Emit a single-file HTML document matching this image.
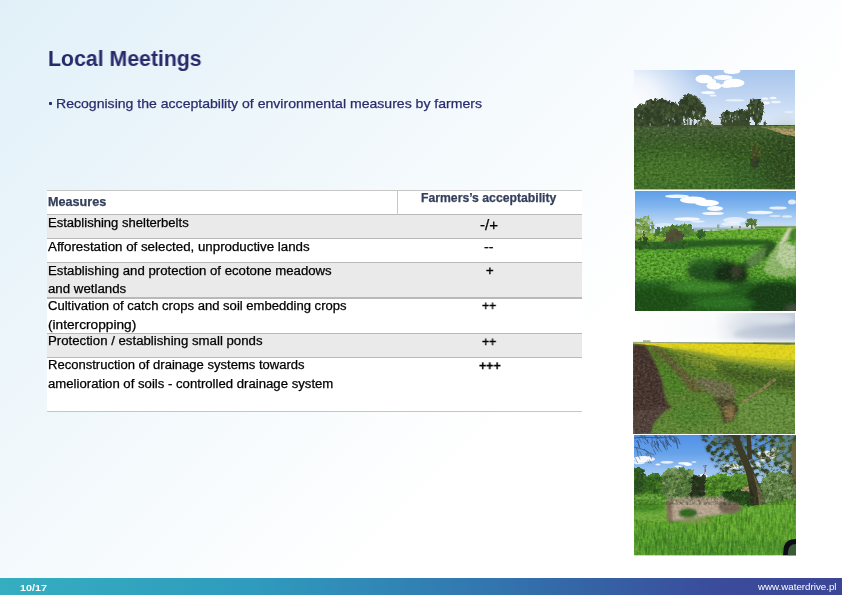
<!DOCTYPE html>
<html>
<head>
<meta charset="utf-8">
<title>Local Meetings</title>
<style>
html,body{margin:0;padding:0;}
body{width:842px;height:595px;overflow:hidden;position:relative;font-family:"Liberation Sans",sans-serif;
background:linear-gradient(135deg,#E1F0F8 0%,#FFFFFF 65%);}
.abs{position:absolute;white-space:nowrap;transform-origin:0 0;line-height:1;will-change:transform;-webkit-text-stroke:0.25px currentColor;}
#footer{position:absolute;left:0;top:578.3px;width:842px;height:17px;background:linear-gradient(to right,#35AEC0 0%,#2F9BBD 30%,#3273AE 60%,#3A4C9A 85%,#3B4596 100%);}
.ph{position:absolute;display:block;}
</style>
</head>
<body>
<div style="position:absolute;left:49.2px;top:102.0px;width:3.1px;height:3.1px;background:#2A2C6B;border-radius:0.8px;"></div>
<div style="position:absolute;left:47px;top:190.3px;width:535px;height:24.40px;background:#FFFFFF;"></div>
<div style="position:absolute;left:47px;top:214.7px;width:535px;height:23.80px;background:#EAEAEA;"></div>
<div style="position:absolute;left:47px;top:238.5px;width:535px;height:23.80px;background:#FFFFFF;"></div>
<div style="position:absolute;left:47px;top:262.3px;width:535px;height:35.70px;background:#EAEAEA;"></div>
<div style="position:absolute;left:47px;top:298.0px;width:535px;height:35.30px;background:#FFFFFF;"></div>
<div style="position:absolute;left:47px;top:333.3px;width:535px;height:24.00px;background:#EAEAEA;"></div>
<div style="position:absolute;left:47px;top:357.3px;width:535px;height:54.40px;background:#FFFFFF;"></div>
<div style="position:absolute;left:47px;top:189.70px;width:535px;height:1.3px;background:#C6C6C6;"></div>
<div style="position:absolute;left:47px;top:214.10px;width:535px;height:1.3px;background:#B9B9B9;"></div>
<div style="position:absolute;left:47px;top:237.90px;width:535px;height:1.3px;background:#B9B9B9;"></div>
<div style="position:absolute;left:47px;top:261.70px;width:535px;height:1.3px;background:#B9B9B9;"></div>
<div style="position:absolute;left:47px;top:297.40px;width:535px;height:1.3px;background:#B9B9B9;"></div>
<div style="position:absolute;left:47px;top:332.70px;width:535px;height:1.3px;background:#B9B9B9;"></div>
<div style="position:absolute;left:47px;top:356.70px;width:535px;height:1.3px;background:#B9B9B9;"></div>
<div style="position:absolute;left:47px;top:411.1px;width:535px;height:1.3px;background:#C6C6C6;"></div>
<div style="position:absolute;left:396.5px;top:190.3px;width:1px;height:24.4px;background:#C6C6C6;"></div>

<svg width="0" height="0" style="position:absolute">
<defs>
<filter id="b05" x="-10%" y="-10%" width="120%" height="120%"><feGaussianBlur stdDeviation="0.5"/></filter>
<filter id="b1" x="-10%" y="-10%" width="120%" height="120%"><feGaussianBlur stdDeviation="1"/></filter>
<filter id="b2" x="-20%" y="-20%" width="140%" height="140%"><feGaussianBlur stdDeviation="2"/></filter>
<filter id="b4" x="-30%" y="-30%" width="160%" height="160%"><feGaussianBlur stdDeviation="4"/></filter>
<filter id="b8" x="-50%" y="-50%" width="200%" height="200%"><feGaussianBlur stdDeviation="8"/></filter>
<filter id="rough" x="-10%" y="-10%" width="120%" height="120%"><feTurbulence type="fractalNoise" baseFrequency="0.35" numOctaves="2" seed="7" result="n"/><feDisplacementMap in="SourceGraphic" in2="n" scale="4" xChannelSelector="R" yChannelSelector="G"/><feGaussianBlur stdDeviation="0.45"/></filter>
<filter id="rough2" x="-10%" y="-10%" width="120%" height="120%"><feTurbulence type="fractalNoise" baseFrequency="0.18" numOctaves="3" seed="11" result="n"/><feDisplacementMap in="SourceGraphic" in2="n" scale="9" xChannelSelector="R" yChannelSelector="G"/><feGaussianBlur stdDeviation="0.6"/></filter>
<filter id="grassD" color-interpolation-filters="sRGB" x="0" y="0" width="100%" height="100%"><feTurbulence type="fractalNoise" baseFrequency="0.32 0.45" numOctaves="3" seed="5"/><feColorMatrix type="matrix" values="0 0 0 0 0.09  0 0 0 0 0.22  0 0 0 0 0.07  1.6 1.2 0 0 -1.15"/><feComposite in2="SourceGraphic" operator="in"/></filter>
<filter id="grassL" x="0" y="0" width="100%" height="100%"><feTurbulence type="fractalNoise" baseFrequency="0.36 0.5" numOctaves="3" seed="23"/><feColorMatrix type="matrix" values="0 0 0 0 0.50  0 0 0 0 0.82  0 0 0 0 0.18  1.5 1.3 0 0 -1.25"/><feComposite in2="SourceGraphic" operator="in"/></filter>
<filter id="grassLo" x="0" y="0" width="100%" height="100%"><feTurbulence type="fractalNoise" baseFrequency="0.36 0.5" numOctaves="3" seed="31"/><feColorMatrix type="matrix" values="0 0 0 0 0.40  0 0 0 0 0.66  0 0 0 0 0.16  1.5 1.3 0 0 -1.25"/><feComposite in2="SourceGraphic" operator="in"/></filter>
<filter id="grassDo" color-interpolation-filters="sRGB" x="0" y="0" width="100%" height="100%"><feTurbulence type="fractalNoise" baseFrequency="0.32 0.45" numOctaves="3" seed="15"/><feColorMatrix type="matrix" values="0 0 0 0 0.08  0 0 0 0 0.17  0 0 0 0 0.06  1.6 1.2 0 0 -1.15"/><feComposite in2="SourceGraphic" operator="in"/></filter>
<filter id="soilL" x="0" y="0" width="100%" height="100%"><feTurbulence type="fractalNoise" baseFrequency="0.4 0.5" numOctaves="3" seed="41"/><feColorMatrix type="matrix" values="0 0 0 0 0.62  0 0 0 0 0.52  0 0 0 0 0.46  1.5 1.3 0 0 -1.25"/><feComposite in2="SourceGraphic" operator="in"/></filter>
<filter id="soilD" color-interpolation-filters="sRGB" x="0" y="0" width="100%" height="100%"><feTurbulence type="fractalNoise" baseFrequency="0.35 0.45" numOctaves="3" seed="43"/><feColorMatrix type="matrix" values="0 0 0 0 0.13  0 0 0 0 0.10  0 0 0 0 0.09  1.6 1.2 0 0 -1.15"/><feComposite in2="SourceGraphic" operator="in"/></filter>
<filter id="streakD" color-interpolation-filters="sRGB" x="0" y="0" width="100%" height="100%"><feTurbulence type="fractalNoise" baseFrequency="0.42 0.09" numOctaves="3" seed="61"/><feColorMatrix type="matrix" values="0 0 0 0 0.09  0 0 0 0 0.27  0 0 0 0 0.05  1.7 1.3 0 0 -1.2"/><feComposite in2="SourceGraphic" operator="in"/></filter>
<filter id="streakL" x="0" y="0" width="100%" height="100%"><feTurbulence type="fractalNoise" baseFrequency="0.5 0.1" numOctaves="3" seed="67"/><feColorMatrix type="matrix" values="0 0 0 0 0.55  0 0 0 0 0.80  0 0 0 0 0.25  1.6 1.3 0 0 -1.3"/><feComposite in2="SourceGraphic" operator="in"/></filter>
<filter id="canD" color-interpolation-filters="sRGB" x="0" y="0" width="100%" height="100%"><feTurbulence type="fractalNoise" baseFrequency="0.22 0.26" numOctaves="4" seed="71"/><feColorMatrix type="matrix" values="0 0 0 0 0.19  0 0 0 0 0.24  0 0 0 0 0.14  5 4 0 0 -4.45"/><feComposite in2="SourceGraphic" operator="in"/><feGaussianBlur stdDeviation="0.35"/></filter>
<filter id="canL" color-interpolation-filters="sRGB" x="0" y="0" width="100%" height="100%"><feTurbulence type="fractalNoise" baseFrequency="0.25 0.3" numOctaves="4" seed="83"/><feColorMatrix type="matrix" values="0 0 0 0 0.38  0 0 0 0 0.47  0 0 0 0 0.20  5 4 0 0 -4.85"/><feComposite in2="SourceGraphic" operator="in"/><feGaussianBlur stdDeviation="0.35"/></filter>
<filter id="leafD" color-interpolation-filters="sRGB" x="0" y="0" width="100%" height="100%"><feTurbulence type="fractalNoise" baseFrequency="0.4" numOctaves="3" seed="9"/><feColorMatrix type="matrix" values="0 0 0 0 0.08  0 0 0 0 0.14  0 0 0 0 0.06  1.8 1.4 0 0 -1.2"/><feComposite in2="SourceGraphic" operator="in"/></filter>
</defs>
</svg>

<svg class="ph" style="left:634px;top:70px" width="161" height="119.5" viewBox="0 0 161 119.5">
<defs>
<linearGradient id="p1sky" x1="0" y1="0" x2="0" y2="1"><stop offset="0" stop-color="#A8C5ED"/><stop offset="0.5" stop-color="#C2D7F2"/><stop offset="1" stop-color="#E2ECF9"/></linearGradient>
<radialGradient id="p1glare" gradientUnits="userSpaceOnUse" cx="-6" cy="38" r="78"><stop offset="0" stop-color="#FFFFFF" stop-opacity="1"/><stop offset="0.4" stop-color="#F6F9FD" stop-opacity="0.92"/><stop offset="0.75" stop-color="#E8F0FA" stop-opacity="0.45"/><stop offset="1" stop-color="#E6EEFA" stop-opacity="0"/></radialGradient>
<linearGradient id="p1field" x1="0" y1="0" x2="0" y2="1"><stop offset="0" stop-color="#526640"/><stop offset="0.10" stop-color="#446234"/><stop offset="0.35" stop-color="#385C28"/><stop offset="1" stop-color="#38682A"/></linearGradient>
<clipPath id="p1c"><rect width="161" height="119.5"/></clipPath><clipPath id="p1h"><rect width="161" height="56.2"/></clipPath>
</defs>
<g clip-path="url(#p1c)">
<rect width="161" height="57" fill="url(#p1sky)"/>
<rect width="161" height="57" fill="url(#p1glare)"/>
<g filter="url(#b05)" fill="#FFFFFF">
<ellipse cx="98" cy="1.3" rx="8.5" ry="2.8" opacity="1"/>
<ellipse cx="70" cy="9" rx="8.5" ry="4.2" opacity="1"/>
<ellipse cx="77" cy="11.5" rx="5" ry="2.8" opacity="0.95"/>
<ellipse cx="89" cy="7.5" rx="9.5" ry="2.6" opacity="0.95"/>
<ellipse cx="80" cy="16" rx="7.5" ry="3.4" opacity="1"/>
<ellipse cx="100" cy="13" rx="10.5" ry="4.2" opacity="1"/>
<ellipse cx="93" cy="15.5" rx="6" ry="2.4" opacity="0.95"/>
<ellipse cx="74" cy="22.6" rx="7" ry="1.7" opacity="0.9"/>
<ellipse cx="79" cy="25.6" rx="3.5" ry="1" opacity="0.75"/>
<ellipse cx="101" cy="30.3" rx="10" ry="1.2" opacity="0.6"/>
<ellipse cx="131" cy="28.6" rx="3.5" ry="1.2" opacity="0.8"/>
<ellipse cx="139" cy="28" rx="3.5" ry="1.2" opacity="0.8"/>
<ellipse cx="132" cy="33" rx="4" ry="1.4" opacity="0.8"/>
<ellipse cx="142" cy="32" rx="5" ry="1.3" opacity="0.7"/>
<ellipse cx="155" cy="42" rx="5" ry="1" opacity="0.45"/>
</g>
<rect y="55" width="161" height="64.5" fill="url(#p1field)"/>
<g filter="url(#b8)"><ellipse cx="36" cy="104" rx="60" ry="22" fill="#4E802A" opacity="0.62"/><ellipse cx="152" cy="92" rx="26" ry="32" fill="#2C4418" opacity="0.65"/><ellipse cx="50" cy="62" rx="70" ry="5" fill="#4A4A40" opacity="0.3"/><ellipse cx="100" cy="76" rx="40" ry="8" fill="#304A1C" opacity="0.5"/></g>
<g filter="url(#b05)"><polygon points="131,57.8 161,58 161,66.5 150,64.5 140,61" fill="#B29C6C"/><polygon points="120,56.3 161,55.8 161,58.4 131,58.2" fill="#73904A"/></g>
<rect y="55" width="161" height="64.5" filter="url(#grassDo)" opacity="0.45"/>
<rect y="58" width="161" height="61.5" filter="url(#grassLo)" opacity="0.3"/>
<g clip-path="url(#p1h)"><g filter="url(#rough)" transform="translate(0.8,1.6)">
<polygon points="-3.0,57.0 -3.0,38.0 2.0,36.0 5.0,34.0 9.0,34.0 12.0,30.0 17.0,28.5 22.0,28.3 27.0,28.5 31.0,30.0 36.0,31.0 41.0,32.5 45.0,35.0 48.0,40.0 49.0,57.0" fill="#37462C"/><circle cx="20.5" cy="44.4" r="2.31" fill="#2E3B25"/><circle cx="20.5" cy="52.8" r="1.43" fill="#4A5A3A"/><circle cx="21.7" cy="45.9" r="1.42" fill="#2E3B25"/><circle cx="12.8" cy="30.9" r="2.17" fill="#33412A"/><circle cx="28.0" cy="39.7" r="1.74" fill="#4A5A3A"/><circle cx="30.8" cy="46.2" r="2.20" fill="#33412A"/><circle cx="21.1" cy="40.9" r="2.21" fill="#4A5A3A"/><circle cx="9.1" cy="36.7" r="1.21" fill="#33412A"/><circle cx="20.8" cy="36.3" r="2.40" fill="#33412A"/><circle cx="33.8" cy="37.3" r="1.48" fill="#425232"/><circle cx="-1.5" cy="44.5" r="1.33" fill="#33412A"/><circle cx="41.0" cy="39.4" r="2.35" fill="#33412A"/><circle cx="8.1" cy="54.9" r="1.26" fill="#2E3B25"/><circle cx="0.8" cy="46.4" r="2.13" fill="#425232"/><circle cx="14.5" cy="37.2" r="1.22" fill="#2E3B25"/><circle cx="36.4" cy="31.7" r="1.50" fill="#33412A"/><circle cx="-2.4" cy="41.6" r="1.78" fill="#4A5A3A"/><circle cx="6.8" cy="42.9" r="2.38" fill="#3A492E"/><circle cx="18.8" cy="39.3" r="1.67" fill="#3A492E"/><circle cx="-3.0" cy="53.1" r="2.37" fill="#4A5A3A"/><circle cx="12.8" cy="53.7" r="1.45" fill="#2E3B25"/><circle cx="27.0" cy="29.5" r="1.38" fill="#2E3B25"/><circle cx="10.4" cy="50.5" r="1.59" fill="#425232"/><circle cx="17.1" cy="30.4" r="1.45" fill="#3A492E"/><circle cx="-2.2" cy="38.9" r="1.95" fill="#3A492E"/><circle cx="46.9" cy="42.2" r="1.89" fill="#2E3B25"/><circle cx="44.2" cy="51.8" r="1.50" fill="#3A492E"/><circle cx="5.2" cy="46.4" r="1.86" fill="#2E3B25"/><circle cx="42.9" cy="45.6" r="1.71" fill="#33412A"/><circle cx="2.7" cy="43.0" r="1.51" fill="#2E3B25"/><circle cx="10.4" cy="51.9" r="1.92" fill="#425232"/><circle cx="24.0" cy="55.0" r="2.37" fill="#3A492E"/><circle cx="8.9" cy="44.4" r="2.22" fill="#4A5A3A"/><circle cx="44.6" cy="49.8" r="1.28" fill="#2E3B25"/><circle cx="20.2" cy="30.0" r="1.41" fill="#425232"/><circle cx="24.6" cy="56.2" r="1.31" fill="#3A492E"/><circle cx="43.3" cy="56.4" r="1.99" fill="#4A5A3A"/><circle cx="27.4" cy="32.3" r="1.24" fill="#33412A"/><circle cx="21.7" cy="38.6" r="1.57" fill="#33412A"/><circle cx="-1.9" cy="46.6" r="1.78" fill="#425232"/><circle cx="13.6" cy="57.0" r="1.29" fill="#4A5A3A"/><circle cx="16.1" cy="29.6" r="2.32" fill="#3A492E"/><circle cx="38.2" cy="54.6" r="1.62" fill="#2E3B25"/><circle cx="43.8" cy="53.3" r="1.70" fill="#33412A"/><circle cx="41.9" cy="44.7" r="1.95" fill="#2E3B25"/><circle cx="16.7" cy="28.7" r="1.29" fill="#33412A"/><circle cx="30.2" cy="56.8" r="2.26" fill="#425232"/><circle cx="17.2" cy="49.4" r="1.90" fill="#2E3B25"/><circle cx="21.1" cy="43.8" r="1.82" fill="#4A5A3A"/><circle cx="-1.5" cy="45.6" r="1.78" fill="#3A492E"/><circle cx="37.6" cy="47.2" r="1.78" fill="#33412A"/><circle cx="16.1" cy="32.4" r="1.93" fill="#4A5A3A"/><circle cx="5.8" cy="54.3" r="1.99" fill="#2E3B25"/><circle cx="22.9" cy="35.2" r="1.69" fill="#425232"/><circle cx="7.3" cy="40.7" r="2.17" fill="#3A492E"/><circle cx="42.8" cy="39.3" r="1.90" fill="#425232"/><circle cx="15.2" cy="54.0" r="1.25" fill="#33412A"/><circle cx="5.8" cy="41.2" r="1.53" fill="#3A492E"/><circle cx="40.2" cy="39.3" r="1.82" fill="#425232"/><circle cx="34.2" cy="52.5" r="1.95" fill="#425232"/><circle cx="33.8" cy="44.7" r="1.57" fill="#4A5A3A"/><circle cx="20.7" cy="29.0" r="2.20" fill="#3A492E"/><circle cx="37.5" cy="51.2" r="2.38" fill="#33412A"/><circle cx="20.2" cy="46.4" r="1.99" fill="#425232"/><circle cx="46.8" cy="47.9" r="1.44" fill="#2E3B25"/><circle cx="10.3" cy="48.8" r="2.11" fill="#4A5A3A"/><circle cx="34.1" cy="33.4" r="1.53" fill="#425232"/><circle cx="25.1" cy="55.5" r="1.80" fill="#3A492E"/><circle cx="17.5" cy="51.0" r="2.29" fill="#33412A"/><circle cx="18.3" cy="53.9" r="1.67" fill="#2E3B25"/><circle cx="20.6" cy="46.3" r="2.29" fill="#2E3B25"/><circle cx="25.6" cy="47.0" r="1.80" fill="#425232"/><circle cx="21.1" cy="47.0" r="1.45" fill="#33412A"/><circle cx="8.1" cy="54.1" r="2.38" fill="#425232"/><circle cx="24.9" cy="51.0" r="1.58" fill="#33412A"/><circle cx="15.1" cy="30.7" r="1.73" fill="#4A5A3A"/><circle cx="18.9" cy="36.2" r="2.30" fill="#3A492E"/><circle cx="38.6" cy="33.3" r="1.60" fill="#3A492E"/><circle cx="21.5" cy="57.0" r="2.28" fill="#4A5A3A"/><circle cx="40.7" cy="48.1" r="2.33" fill="#2E3B25"/><circle cx="27.1" cy="48.1" r="2.11" fill="#2E3B25"/><circle cx="24.4" cy="36.6" r="2.07" fill="#3A492E"/><circle cx="24.2" cy="52.5" r="1.87" fill="#425232"/><circle cx="31.9" cy="55.7" r="2.24" fill="#4A5A3A"/><circle cx="7.8" cy="52.7" r="2.36" fill="#4A5A3A"/><circle cx="11.2" cy="42.6" r="1.69" fill="#33412A"/><circle cx="23.2" cy="45.7" r="1.23" fill="#33412A"/><circle cx="23.8" cy="39.8" r="2.16" fill="#4A5A3A"/><circle cx="5.7" cy="55.0" r="1.75" fill="#2E3B25"/><circle cx="11.0" cy="41.9" r="1.35" fill="#2E3B25"/><circle cx="43.8" cy="55.2" r="2.30" fill="#4A5A3A"/><circle cx="13.5" cy="33.8" r="1.94" fill="#425232"/><circle cx="3.7" cy="50.7" r="1.23" fill="#3A492E"/><circle cx="11.8" cy="49.1" r="1.49" fill="#2E3B25"/><circle cx="2.5" cy="49.3" r="1.35" fill="#4A5A3A"/><circle cx="29.4" cy="48.9" r="2.04" fill="#2E3B25"/><circle cx="-1.8" cy="46.5" r="2.19" fill="#4A5A3A"/><circle cx="5.3" cy="34.2" r="1.96" fill="#3A492E"/><circle cx="24.5" cy="52.7" r="1.93" fill="#3A492E"/><circle cx="9.1" cy="49.6" r="2.17" fill="#3A492E"/><circle cx="13.4" cy="37.3" r="2.31" fill="#3A492E"/><circle cx="37.5" cy="33.9" r="1.32" fill="#3A492E"/><circle cx="17.2" cy="40.8" r="2.33" fill="#4A5A3A"/><circle cx="38.1" cy="31.9" r="1.68" fill="#33412A"/><circle cx="2.0" cy="44.7" r="1.63" fill="#425232"/><circle cx="3.0" cy="42.8" r="2.11" fill="#4A5A3A"/><circle cx="38.7" cy="42.1" r="1.23" fill="#4A5A3A"/><circle cx="28.9" cy="54.3" r="1.78" fill="#3A492E"/><circle cx="6.6" cy="34.2" r="2.21" fill="#425232"/><circle cx="0.2" cy="55.6" r="1.75" fill="#33412A"/><circle cx="14.0" cy="41.7" r="1.82" fill="#2E3B25"/><circle cx="7.9" cy="39.0" r="1.96" fill="#33412A"/><circle cx="40.9" cy="33.5" r="1.74" fill="#425232"/><circle cx="18.1" cy="33.9" r="1.40" fill="#4A5A3A"/><circle cx="38.2" cy="37.6" r="1.30" fill="#2E3B25"/><circle cx="26.6" cy="33.8" r="1.90" fill="#425232"/><circle cx="38.9" cy="35.7" r="2.29" fill="#3A492E"/><circle cx="39.4" cy="39.9" r="2.28" fill="#4A5A3A"/><circle cx="33.1" cy="50.3" r="2.12" fill="#2E3B25"/><circle cx="38.5" cy="37.0" r="1.32" fill="#425232"/><circle cx="48.5" cy="54.2" r="1.26" fill="#425232"/><circle cx="46.1" cy="47.4" r="1.61" fill="#2E3B25"/><circle cx="26.6" cy="43.6" r="1.67" fill="#2E3B25"/><circle cx="30.4" cy="48.4" r="2.11" fill="#4A5A3A"/><circle cx="-1.8" cy="46.0" r="2.09" fill="#425232"/><circle cx="20.1" cy="42.8" r="2.11" fill="#2E3B25"/><circle cx="11.3" cy="38.1" r="1.85" fill="#2E3B25"/><circle cx="47.3" cy="44.6" r="2.39" fill="#2E3B25"/><circle cx="28.1" cy="50.1" r="1.25" fill="#3A492E"/><circle cx="17.1" cy="56.1" r="2.23" fill="#4A5A3A"/><circle cx="28.8" cy="30.0" r="2.33" fill="#2E3B25"/><circle cx="11.8" cy="39.7" r="1.57" fill="#4A5A3A"/><circle cx="11.9" cy="47.1" r="1.87" fill="#425232"/><circle cx="31.5" cy="49.8" r="1.23" fill="#3A492E"/><circle cx="27.5" cy="46.5" r="1.69" fill="#2E3B25"/><circle cx="-0.3" cy="37.3" r="1.68" fill="#4A5A3A"/><circle cx="48.4" cy="55.4" r="1.29" fill="#3A492E"/><circle cx="19.3" cy="42.0" r="2.37" fill="#3A492E"/><circle cx="39.1" cy="54.4" r="1.37" fill="#3A492E"/><circle cx="28.4" cy="31.6" r="1.95" fill="#2E3B25"/><circle cx="3.1" cy="53.0" r="1.63" fill="#3A492E"/><circle cx="3.5" cy="41.0" r="2.00" fill="#2E3B25"/><circle cx="28.3" cy="46.7" r="2.02" fill="#425232"/><circle cx="37.5" cy="43.5" r="2.40" fill="#425232"/><circle cx="35.2" cy="35.1" r="1.34" fill="#425232"/><circle cx="37.8" cy="46.2" r="1.63" fill="#425232"/><circle cx="28.7" cy="49.1" r="2.04" fill="#3A492E"/><circle cx="29.9" cy="49.9" r="1.43" fill="#3A492E"/><circle cx="23.1" cy="47.0" r="1.44" fill="#33412A"/><circle cx="11.5" cy="50.0" r="2.30" fill="#3A492E"/><circle cx="25.6" cy="46.4" r="1.65" fill="#2E3B25"/><circle cx="15.4" cy="38.0" r="1.79" fill="#3A492E"/><circle cx="3.2" cy="51.5" r="1.95" fill="#3A492E"/><circle cx="20.1" cy="49.7" r="1.67" fill="#3A492E"/><circle cx="16.2" cy="47.1" r="2.39" fill="#425232"/><circle cx="12.1" cy="50.1" r="2.19" fill="#3A492E"/><circle cx="19.2" cy="38.9" r="1.32" fill="#425232"/><circle cx="26.3" cy="42.2" r="2.02" fill="#425232"/><circle cx="13.1" cy="54.4" r="1.92" fill="#425232"/><circle cx="22.7" cy="50.2" r="1.59" fill="#3A492E"/><circle cx="8.4" cy="47.2" r="1.59" fill="#33412A"/><circle cx="13.8" cy="41.0" r="1.91" fill="#425232"/><circle cx="19.8" cy="51.3" r="1.57" fill="#425232"/><circle cx="8.5" cy="56.1" r="2.08" fill="#4A5A3A"/><circle cx="9.9" cy="38.7" r="1.64" fill="#425232"/><circle cx="32.2" cy="45.1" r="2.16" fill="#4A5A3A"/><circle cx="16.1" cy="39.5" r="1.39" fill="#4A5A3A"/><circle cx="26.3" cy="33.4" r="2.11" fill="#425232"/><circle cx="39.2" cy="34.6" r="1.27" fill="#3A492E"/><circle cx="26.5" cy="56.0" r="1.98" fill="#2E3B25"/><circle cx="0.3" cy="44.0" r="2.15" fill="#33412A"/><circle cx="14.4" cy="36.2" r="1.33" fill="#425232"/><circle cx="1.4" cy="46.5" r="1.37" fill="#2E3B25"/><circle cx="9.8" cy="34.6" r="2.12" fill="#4A5A3A"/><circle cx="14.6" cy="41.5" r="1.62" fill="#425232"/><circle cx="32.0" cy="42.5" r="1.84" fill="#33412A"/><circle cx="33.8" cy="54.6" r="1.69" fill="#425232"/><circle cx="41.4" cy="51.4" r="2.20" fill="#2E3B25"/><circle cx="46.8" cy="46.7" r="1.83" fill="#33412A"/><circle cx="38.7" cy="40.4" r="1.70" fill="#3A492E"/><circle cx="30.0" cy="47.9" r="1.59" fill="#2E3B25"/><circle cx="19.1" cy="36.7" r="2.36" fill="#33412A"/><circle cx="21.5" cy="49.3" r="1.56" fill="#3A492E"/><circle cx="37.3" cy="33.4" r="1.27" fill="#2E3B25"/><circle cx="-2.1" cy="42.1" r="2.16" fill="#425232"/><circle cx="8.3" cy="35.1" r="2.06" fill="#4A5A3A"/><circle cx="23.4" cy="41.0" r="2.27" fill="#2E3B25"/><circle cx="6.0" cy="50.0" r="1.57" fill="#4A5A3A"/><circle cx="46.0" cy="44.1" r="2.22" fill="#2E3B25"/><circle cx="43.1" cy="54.5" r="1.61" fill="#4A5A3A"/><circle cx="41.9" cy="39.8" r="1.46" fill="#3A492E"/><circle cx="38.7" cy="39.3" r="1.83" fill="#4A5A3A"/><circle cx="37.3" cy="50.9" r="1.27" fill="#3A492E"/><circle cx="43.4" cy="53.4" r="2.29" fill="#2E3B25"/><circle cx="38.4" cy="48.8" r="1.93" fill="#3A492E"/><circle cx="18.6" cy="50.5" r="1.37" fill="#4A5A3A"/><circle cx="3.8" cy="49.6" r="1.94" fill="#4A5A3A"/><circle cx="24.8" cy="32.6" r="2.12" fill="#33412A"/><circle cx="7.6" cy="54.6" r="1.38" fill="#3A492E"/><circle cx="34.3" cy="31.1" r="1.78" fill="#2E3B25"/><circle cx="1.3" cy="49.8" r="1.85" fill="#4A5A3A"/><circle cx="12.8" cy="51.0" r="1.70" fill="#33412A"/><circle cx="37.6" cy="40.9" r="1.24" fill="#2E3B25"/><circle cx="24.3" cy="32.8" r="2.20" fill="#425232"/><circle cx="13.4" cy="39.9" r="1.87" fill="#2E3B25"/><circle cx="31.7" cy="30.2" r="1.29" fill="#3A492E"/><circle cx="2.5" cy="39.6" r="1.75" fill="#33412A"/><circle cx="16.6" cy="48.7" r="1.48" fill="#4A5A3A"/><circle cx="2.9" cy="50.5" r="2.23" fill="#3A492E"/><circle cx="29.6" cy="55.2" r="2.10" fill="#425232"/><circle cx="36.3" cy="44.2" r="1.30" fill="#3A492E"/><circle cx="7.4" cy="49.3" r="1.60" fill="#425232"/><circle cx="26.3" cy="49.1" r="1.60" fill="#2E3B25"/><circle cx="1.9" cy="47.7" r="2.05" fill="#3A492E"/><circle cx="21.1" cy="48.5" r="1.32" fill="#33412A"/><circle cx="18.2" cy="30.4" r="2.30" fill="#2E3B25"/><circle cx="32.9" cy="42.2" r="2.31" fill="#4A5A3A"/><circle cx="-2.2" cy="39.8" r="2.04" fill="#3A492E"/><circle cx="31.3" cy="45.8" r="1.22" fill="#425232"/><circle cx="6.8" cy="37.1" r="1.73" fill="#4A5A3A"/><circle cx="16.6" cy="42.9" r="2.15" fill="#33412A"/><circle cx="28.8" cy="32.8" r="2.12" fill="#425232"/><circle cx="25.5" cy="38.4" r="1.80" fill="#3A492E"/><circle cx="26.9" cy="34.0" r="2.32" fill="#3A492E"/><circle cx="26.5" cy="29.1" r="1.99" fill="#33412A"/><circle cx="4.1" cy="42.0" r="1.70" fill="#425232"/><circle cx="14.1" cy="55.0" r="1.63" fill="#2E3B25"/><circle cx="42.9" cy="41.3" r="2.08" fill="#3A492E"/><circle cx="44.0" cy="43.9" r="1.87" fill="#4A5A3A"/><circle cx="35.8" cy="54.0" r="1.60" fill="#3A492E"/><circle cx="3.4" cy="52.0" r="1.55" fill="#425232"/><circle cx="9.5" cy="44.8" r="2.20" fill="#3A492E"/><circle cx="28.1" cy="51.6" r="1.75" fill="#2E3B25"/><circle cx="6.4" cy="56.6" r="2.33" fill="#3A492E"/><circle cx="13.0" cy="47.6" r="2.09" fill="#2E3B25"/><circle cx="29.0" cy="46.7" r="2.12" fill="#3A492E"/><circle cx="7.4" cy="41.7" r="1.37" fill="#2E3B25"/><circle cx="3.2" cy="39.9" r="1.60" fill="#3A492E"/><circle cx="10.7" cy="44.6" r="1.60" fill="#33412A"/><circle cx="34.5" cy="50.9" r="1.68" fill="#2E3B25"/><circle cx="28.2" cy="41.8" r="1.69" fill="#4A5A3A"/><circle cx="44.5" cy="44.5" r="1.69" fill="#425232"/><circle cx="22.3" cy="56.8" r="2.21" fill="#2E3B25"/><circle cx="3.0" cy="55.2" r="1.60" fill="#4A5A3A"/><circle cx="19.5" cy="54.3" r="1.58" fill="#33412A"/><circle cx="12.4" cy="46.0" r="1.72" fill="#2E3B25"/><circle cx="28.1" cy="49.9" r="1.57" fill="#4A5A3A"/><circle cx="42.6" cy="35.3" r="2.21" fill="#3A492E"/><circle cx="23.1" cy="39.7" r="1.26" fill="#33412A"/><circle cx="24.4" cy="35.2" r="1.57" fill="#2E3B25"/><circle cx="45.9" cy="53.5" r="2.40" fill="#425232"/><circle cx="42.1" cy="40.4" r="2.17" fill="#3A492E"/><circle cx="30.8" cy="40.4" r="1.35" fill="#33412A"/><circle cx="2.1" cy="51.0" r="1.35" fill="#4A5A3A"/><circle cx="26.9" cy="41.3" r="1.56" fill="#425232"/><circle cx="19.9" cy="41.2" r="1.84" fill="#3A492E"/><circle cx="15.5" cy="45.1" r="1.26" fill="#33412A"/><circle cx="20.7" cy="37.3" r="1.59" fill="#3A492E"/><circle cx="45.6" cy="56.3" r="1.77" fill="#3A492E"/><circle cx="7.5" cy="53.0" r="2.03" fill="#33412A"/>
<polygon points="44.0,46.0 43.5,36.0 45.0,30.0 48.0,26.0 52.0,24.0 56.0,23.8 60.0,25.0 62.5,27.0 65.0,29.0 68.0,32.0 70.5,36.0 71.0,41.0 68.0,45.0 64.0,47.0 58.0,46.0 52.0,46.0" fill="#3A492C"/><circle cx="56.6" cy="39.1" r="1.83" fill="#3A492E"/><circle cx="56.8" cy="38.7" r="1.61" fill="#4A5A3A"/><circle cx="53.6" cy="31.7" r="1.33" fill="#4A5A3A"/><circle cx="62.4" cy="31.6" r="1.55" fill="#33412A"/><circle cx="68.7" cy="35.6" r="1.20" fill="#2E3B25"/><circle cx="55.1" cy="26.9" r="1.44" fill="#4A5A3A"/><circle cx="67.9" cy="36.7" r="1.66" fill="#33412A"/><circle cx="54.5" cy="33.5" r="1.76" fill="#2E3B25"/><circle cx="60.3" cy="36.4" r="1.80" fill="#33412A"/><circle cx="61.7" cy="32.1" r="1.50" fill="#2E3B25"/><circle cx="50.0" cy="32.2" r="1.66" fill="#4A5A3A"/><circle cx="48.4" cy="32.6" r="2.04" fill="#33412A"/><circle cx="57.8" cy="29.0" r="1.57" fill="#2E3B25"/><circle cx="49.1" cy="37.9" r="1.93" fill="#3A492E"/><circle cx="48.4" cy="39.9" r="1.14" fill="#425232"/><circle cx="57.2" cy="37.8" r="1.90" fill="#4A5A3A"/><circle cx="56.1" cy="28.6" r="1.41" fill="#2E3B25"/><circle cx="62.7" cy="43.6" r="1.36" fill="#3A492E"/><circle cx="56.3" cy="36.5" r="1.30" fill="#3A492E"/><circle cx="50.9" cy="41.7" r="1.48" fill="#3A492E"/><circle cx="65.4" cy="35.4" r="1.37" fill="#33412A"/><circle cx="57.3" cy="24.4" r="1.45" fill="#425232"/><circle cx="61.1" cy="29.1" r="1.68" fill="#2E3B25"/><circle cx="57.0" cy="32.0" r="1.85" fill="#2E3B25"/><circle cx="51.5" cy="44.1" r="1.41" fill="#4A5A3A"/><circle cx="61.1" cy="34.1" r="1.97" fill="#425232"/><circle cx="57.8" cy="24.5" r="1.10" fill="#33412A"/><circle cx="47.1" cy="44.4" r="1.56" fill="#3A492E"/><circle cx="49.0" cy="34.7" r="1.16" fill="#4A5A3A"/><circle cx="60.7" cy="45.1" r="2.16" fill="#33412A"/><circle cx="55.0" cy="37.5" r="2.09" fill="#3A492E"/><circle cx="59.5" cy="31.9" r="1.51" fill="#2E3B25"/><circle cx="63.0" cy="44.8" r="1.98" fill="#33412A"/><circle cx="68.5" cy="36.2" r="1.97" fill="#2E3B25"/><circle cx="65.3" cy="40.3" r="1.31" fill="#425232"/><circle cx="69.2" cy="39.8" r="1.70" fill="#4A5A3A"/><circle cx="60.3" cy="28.7" r="1.76" fill="#2E3B25"/><circle cx="59.5" cy="25.5" r="1.49" fill="#33412A"/><circle cx="62.3" cy="27.1" r="1.20" fill="#425232"/><circle cx="52.0" cy="28.0" r="1.85" fill="#2E3B25"/><circle cx="53.6" cy="24.5" r="1.64" fill="#2E3B25"/><circle cx="56.8" cy="25.1" r="1.75" fill="#2E3B25"/><circle cx="50.1" cy="31.4" r="2.14" fill="#33412A"/><circle cx="66.8" cy="39.8" r="1.43" fill="#4A5A3A"/><circle cx="68.8" cy="35.4" r="1.87" fill="#3A492E"/><circle cx="57.3" cy="32.8" r="1.65" fill="#3A492E"/><circle cx="56.2" cy="42.0" r="1.15" fill="#3A492E"/><circle cx="54.7" cy="40.0" r="1.97" fill="#4A5A3A"/><circle cx="62.0" cy="39.2" r="2.17" fill="#4A5A3A"/><circle cx="59.2" cy="31.0" r="1.94" fill="#33412A"/><circle cx="52.4" cy="35.4" r="1.50" fill="#425232"/><circle cx="48.2" cy="34.9" r="1.98" fill="#3A492E"/><circle cx="50.4" cy="24.9" r="1.98" fill="#425232"/><circle cx="54.7" cy="38.4" r="1.41" fill="#4A5A3A"/><circle cx="52.3" cy="26.7" r="1.81" fill="#4A5A3A"/><circle cx="65.4" cy="32.6" r="1.57" fill="#425232"/><circle cx="52.8" cy="41.6" r="1.64" fill="#2E3B25"/><circle cx="65.2" cy="43.2" r="1.22" fill="#425232"/><circle cx="57.9" cy="25.0" r="2.02" fill="#425232"/><circle cx="64.7" cy="43.7" r="1.44" fill="#3A492E"/><circle cx="64.1" cy="43.7" r="1.71" fill="#33412A"/><circle cx="48.0" cy="40.4" r="1.43" fill="#3A492E"/><circle cx="57.2" cy="28.4" r="1.21" fill="#33412A"/><circle cx="61.4" cy="42.4" r="1.66" fill="#425232"/><circle cx="56.4" cy="38.5" r="1.53" fill="#2E3B25"/><circle cx="47.8" cy="41.4" r="1.50" fill="#33412A"/><circle cx="69.8" cy="39.6" r="1.57" fill="#2E3B25"/><circle cx="45.5" cy="45.1" r="1.48" fill="#3A492E"/><circle cx="50.4" cy="26.4" r="1.85" fill="#4A5A3A"/><circle cx="68.9" cy="40.6" r="1.82" fill="#33412A"/><circle cx="59.8" cy="37.4" r="1.98" fill="#3A492E"/><circle cx="56.2" cy="31.6" r="1.81" fill="#425232"/><circle cx="65.5" cy="32.9" r="1.82" fill="#425232"/><circle cx="64.5" cy="45.5" r="1.50" fill="#425232"/><circle cx="46.9" cy="35.1" r="1.25" fill="#425232"/><circle cx="56.8" cy="40.8" r="2.01" fill="#425232"/><circle cx="52.8" cy="32.7" r="2.05" fill="#2E3B25"/><circle cx="52.9" cy="44.4" r="1.80" fill="#4A5A3A"/><circle cx="53.4" cy="29.1" r="1.52" fill="#4A5A3A"/><circle cx="59.0" cy="43.3" r="1.83" fill="#2E3B25"/><circle cx="64.0" cy="29.6" r="1.56" fill="#33412A"/><circle cx="46.8" cy="37.4" r="1.64" fill="#425232"/><circle cx="58.6" cy="37.6" r="1.73" fill="#2E3B25"/><circle cx="52.7" cy="32.5" r="2.10" fill="#425232"/><circle cx="69.4" cy="37.7" r="1.18" fill="#4A5A3A"/><circle cx="54.5" cy="28.6" r="1.45" fill="#425232"/><circle cx="60.4" cy="43.7" r="1.26" fill="#425232"/><circle cx="52.6" cy="39.1" r="1.54" fill="#4A5A3A"/><circle cx="52.5" cy="36.3" r="2.02" fill="#4A5A3A"/><circle cx="46.3" cy="29.6" r="1.99" fill="#33412A"/><circle cx="62.0" cy="27.8" r="1.58" fill="#425232"/><circle cx="45.3" cy="39.8" r="1.31" fill="#425232"/><circle cx="61.0" cy="38.6" r="1.75" fill="#2E3B25"/><circle cx="63.9" cy="31.0" r="1.25" fill="#2E3B25"/><circle cx="54.3" cy="34.6" r="1.50" fill="#3A492E"/><circle cx="50.1" cy="36.0" r="1.90" fill="#4A5A3A"/><circle cx="61.6" cy="40.4" r="2.03" fill="#425232"/><circle cx="53.3" cy="30.9" r="1.13" fill="#425232"/><circle cx="66.5" cy="33.6" r="1.45" fill="#425232"/><circle cx="55.1" cy="43.1" r="1.26" fill="#2E3B25"/><circle cx="46.7" cy="30.9" r="1.27" fill="#33412A"/><circle cx="64.9" cy="36.6" r="1.66" fill="#425232"/><circle cx="60.0" cy="45.4" r="1.26" fill="#3A492E"/><circle cx="53.9" cy="36.1" r="1.38" fill="#4A5A3A"/><circle cx="66.1" cy="42.0" r="1.24" fill="#3A492E"/><circle cx="64.5" cy="36.6" r="1.97" fill="#425232"/><circle cx="44.4" cy="36.5" r="1.59" fill="#2E3B25"/><circle cx="60.5" cy="28.1" r="2.02" fill="#33412A"/><circle cx="55.5" cy="24.3" r="1.64" fill="#425232"/><circle cx="58.5" cy="44.9" r="1.60" fill="#4A5A3A"/><circle cx="54.5" cy="24.0" r="1.65" fill="#2E3B25"/><circle cx="65.4" cy="36.0" r="1.78" fill="#425232"/><circle cx="49.5" cy="33.3" r="1.98" fill="#2E3B25"/><circle cx="57.9" cy="41.8" r="1.84" fill="#425232"/><circle cx="61.4" cy="32.2" r="1.42" fill="#33412A"/><circle cx="61.5" cy="42.9" r="1.23" fill="#3A492E"/><circle cx="65.1" cy="35.5" r="1.28" fill="#4A5A3A"/><circle cx="66.2" cy="43.8" r="2.18" fill="#3A492E"/><circle cx="47.5" cy="34.4" r="1.60" fill="#425232"/><circle cx="64.2" cy="42.9" r="1.93" fill="#425232"/><circle cx="55.4" cy="41.5" r="1.33" fill="#33412A"/><circle cx="51.5" cy="38.0" r="1.51" fill="#425232"/><circle cx="52.4" cy="36.9" r="1.69" fill="#4A5A3A"/><circle cx="60.6" cy="36.7" r="1.11" fill="#4A5A3A"/><circle cx="52.2" cy="45.4" r="1.83" fill="#3A492E"/><circle cx="69.9" cy="37.9" r="1.92" fill="#425232"/><circle cx="55.5" cy="44.9" r="1.45" fill="#33412A"/><circle cx="52.2" cy="39.8" r="2.09" fill="#3A492E"/><circle cx="60.6" cy="43.0" r="1.84" fill="#2E3B25"/><circle cx="57.6" cy="39.4" r="1.61" fill="#2E3B25"/><circle cx="62.9" cy="46.6" r="2.03" fill="#3A492E"/><circle cx="59.7" cy="27.7" r="1.62" fill="#2E3B25"/><circle cx="61.4" cy="28.7" r="1.38" fill="#33412A"/><circle cx="62.3" cy="35.8" r="1.58" fill="#2E3B25"/><circle cx="66.7" cy="37.0" r="1.30" fill="#4A5A3A"/><circle cx="47.5" cy="36.4" r="1.28" fill="#425232"/><circle cx="60.7" cy="39.2" r="1.15" fill="#2E3B25"/><circle cx="63.6" cy="35.0" r="2.08" fill="#3A492E"/><circle cx="68.6" cy="43.7" r="1.61" fill="#4A5A3A"/><circle cx="58.8" cy="27.2" r="2.18" fill="#2E3B25"/><circle cx="65.3" cy="46.3" r="2.08" fill="#4A5A3A"/><circle cx="58.6" cy="29.5" r="2.05" fill="#425232"/><circle cx="50.4" cy="32.9" r="1.70" fill="#4A5A3A"/><circle cx="67.7" cy="39.3" r="1.57" fill="#33412A"/><circle cx="55.9" cy="35.9" r="2.16" fill="#2E3B25"/><circle cx="64.6" cy="36.7" r="1.84" fill="#33412A"/><circle cx="47.4" cy="30.7" r="1.33" fill="#2E3B25"/><circle cx="61.4" cy="40.2" r="2.02" fill="#33412A"/><circle cx="57.5" cy="42.2" r="1.18" fill="#3A492E"/><circle cx="50.8" cy="44.4" r="1.39" fill="#425232"/><circle cx="46.8" cy="39.1" r="1.29" fill="#4A5A3A"/><circle cx="62.8" cy="42.9" r="1.96" fill="#425232"/><circle cx="51.0" cy="39.9" r="2.07" fill="#425232"/><circle cx="64.9" cy="34.9" r="1.47" fill="#33412A"/><circle cx="49.8" cy="45.4" r="1.85" fill="#2E3B25"/><circle cx="67.8" cy="41.6" r="1.53" fill="#33412A"/><circle cx="46.0" cy="44.4" r="1.27" fill="#2E3B25"/><circle cx="66.7" cy="34.2" r="1.71" fill="#3A492E"/><circle cx="44.8" cy="44.1" r="1.45" fill="#2E3B25"/><circle cx="58.9" cy="41.4" r="2.18" fill="#3A492E"/><circle cx="65.6" cy="33.4" r="1.19" fill="#425232"/><circle cx="56.2" cy="32.0" r="1.44" fill="#425232"/><circle cx="50.0" cy="28.3" r="1.56" fill="#3A492E"/><circle cx="69.0" cy="40.5" r="2.18" fill="#33412A"/><circle cx="63.8" cy="29.1" r="1.22" fill="#3A492E"/><circle cx="67.1" cy="32.3" r="1.29" fill="#2E3B25"/><circle cx="60.6" cy="25.9" r="1.19" fill="#4A5A3A"/><circle cx="53.2" cy="34.9" r="1.25" fill="#3A492E"/><circle cx="63.3" cy="31.6" r="1.21" fill="#3A492E"/><circle cx="51.9" cy="41.3" r="2.11" fill="#33412A"/><circle cx="56.5" cy="25.0" r="1.91" fill="#425232"/><circle cx="62.9" cy="45.9" r="1.28" fill="#2E3B25"/><circle cx="60.8" cy="43.8" r="1.46" fill="#33412A"/><circle cx="62.1" cy="46.6" r="1.17" fill="#2E3B25"/><circle cx="64.9" cy="37.3" r="1.81" fill="#2E3B25"/><circle cx="57.2" cy="33.7" r="1.37" fill="#2E3B25"/><circle cx="54.6" cy="38.4" r="1.75" fill="#2E3B25"/><circle cx="64.8" cy="31.5" r="1.89" fill="#3A492E"/><circle cx="65.8" cy="30.3" r="1.75" fill="#33412A"/><circle cx="49.2" cy="42.9" r="2.01" fill="#33412A"/><circle cx="48.2" cy="36.8" r="2.07" fill="#2E3B25"/><circle cx="62.7" cy="39.2" r="1.28" fill="#425232"/><circle cx="68.4" cy="36.6" r="1.45" fill="#3A492E"/><circle cx="44.1" cy="45.3" r="1.21" fill="#3A492E"/><circle cx="65.2" cy="29.8" r="1.89" fill="#4A5A3A"/><circle cx="51.3" cy="31.6" r="2.13" fill="#2E3B25"/><circle cx="61.6" cy="39.9" r="1.11" fill="#4A5A3A"/><circle cx="67.3" cy="36.2" r="1.70" fill="#3A492E"/><circle cx="64.5" cy="36.2" r="2.11" fill="#33412A"/><circle cx="54.1" cy="38.2" r="1.13" fill="#2E3B25"/><circle cx="66.7" cy="45.5" r="1.15" fill="#425232"/><circle cx="45.1" cy="45.8" r="1.21" fill="#4A5A3A"/><circle cx="51.2" cy="36.7" r="1.85" fill="#3A492E"/><circle cx="52.3" cy="26.3" r="1.27" fill="#2E3B25"/><circle cx="60.1" cy="44.1" r="2.17" fill="#3A492E"/><circle cx="64.5" cy="38.3" r="1.69" fill="#33412A"/><circle cx="65.3" cy="41.7" r="1.51" fill="#4A5A3A"/><circle cx="54.0" cy="43.1" r="1.65" fill="#2E3B25"/><circle cx="50.8" cy="35.0" r="1.23" fill="#425232"/><circle cx="51.4" cy="28.6" r="1.86" fill="#2E3B25"/>
<rect x="45.5" y="44" width="3.2" height="12.5" fill="#3A482B"/>
<rect x="50.5" y="44" width="2.0" height="12.5" fill="#3A482B"/>
<rect x="53.5" y="44" width="1.2" height="12.5" fill="#3A482B"/>
<rect x="57" y="44" width="1.8" height="12.5" fill="#3A482B"/>
<rect x="61.2" y="44" width="1.4" height="12.5" fill="#3A482B"/>
<rect x="65.5" y="44" width="1.6" height="12.5" fill="#3A482B"/>
<polygon points="63.0,57.0 64.0,51.0 67.0,48.5 71.0,48.0 75.0,50.0 77.0,53.0 78.0,57.0" fill="#4C5C36"/><circle cx="66.9" cy="54.2" r="1.55" fill="#4E5E38"/><circle cx="72.8" cy="54.0" r="1.70" fill="#46562F"/><circle cx="71.0" cy="49.9" r="1.24" fill="#566840"/><circle cx="64.9" cy="54.2" r="1.80" fill="#566840"/><circle cx="74.9" cy="56.0" r="1.21" fill="#566840"/><circle cx="74.2" cy="56.5" r="1.64" fill="#566840"/><circle cx="68.3" cy="50.1" r="1.72" fill="#46562F"/><circle cx="71.5" cy="51.9" r="1.29" fill="#566840"/><circle cx="72.6" cy="53.9" r="1.28" fill="#46562F"/><circle cx="75.0" cy="56.9" r="1.55" fill="#46562F"/><circle cx="72.2" cy="56.9" r="1.35" fill="#46562F"/><circle cx="69.7" cy="49.6" r="1.16" fill="#46562F"/><circle cx="68.3" cy="51.3" r="1.21" fill="#566840"/><circle cx="68.9" cy="49.2" r="1.39" fill="#4E5E38"/><circle cx="71.5" cy="56.0" r="1.56" fill="#4E5E38"/><circle cx="64.1" cy="53.9" r="1.76" fill="#566840"/><circle cx="70.5" cy="54.3" r="1.36" fill="#566840"/><circle cx="65.4" cy="51.7" r="1.69" fill="#566840"/><circle cx="66.0" cy="55.7" r="1.30" fill="#46562F"/><circle cx="72.9" cy="56.1" r="1.56" fill="#4E5E38"/><circle cx="73.8" cy="49.9" r="1.49" fill="#46562F"/><circle cx="71.7" cy="53.1" r="1.15" fill="#4E5E38"/><circle cx="65.5" cy="54.2" r="1.09" fill="#4E5E38"/><circle cx="65.5" cy="51.9" r="1.48" fill="#46562F"/><circle cx="73.4" cy="56.7" r="1.66" fill="#46562F"/><circle cx="67.5" cy="50.4" r="1.48" fill="#4E5E38"/><circle cx="67.8" cy="49.4" r="1.45" fill="#46562F"/><circle cx="70.8" cy="52.3" r="1.54" fill="#566840"/><circle cx="75.0" cy="51.4" r="1.57" fill="#4E5E38"/><circle cx="74.1" cy="50.3" r="1.55" fill="#4E5E38"/><circle cx="66.9" cy="53.3" r="1.28" fill="#4E5E38"/><circle cx="71.9" cy="51.9" r="1.51" fill="#566840"/><circle cx="64.3" cy="54.8" r="1.48" fill="#4E5E38"/><circle cx="72.8" cy="50.8" r="1.36" fill="#46562F"/><circle cx="68.8" cy="48.6" r="1.42" fill="#4E5E38"/><circle cx="68.5" cy="49.4" r="1.25" fill="#46562F"/><circle cx="68.8" cy="48.3" r="1.10" fill="#566840"/><circle cx="70.4" cy="53.3" r="1.47" fill="#566840"/><circle cx="64.9" cy="55.2" r="1.26" fill="#46562F"/><circle cx="74.1" cy="56.1" r="1.72" fill="#46562F"/>
<polygon points="87.0,51.0 86.5,45.0 88.5,41.5 92.0,40.0 96.0,41.5 99.0,40.5 103.0,38.8 107.0,38.2 111.0,38.8 114.0,41.0 115.0,46.0 114.0,51.0" fill="#3E4D2E"/><circle cx="89.5" cy="47.2" r="1.65" fill="#3A492E"/><circle cx="94.2" cy="41.5" r="1.73" fill="#2E3B25"/><circle cx="95.1" cy="47.0" r="1.40" fill="#33412A"/><circle cx="94.0" cy="49.3" r="1.32" fill="#425232"/><circle cx="96.8" cy="46.3" r="1.52" fill="#3A492E"/><circle cx="102.2" cy="46.7" r="1.16" fill="#33412A"/><circle cx="90.0" cy="42.5" r="1.08" fill="#3A492E"/><circle cx="110.8" cy="43.1" r="1.58" fill="#2E3B25"/><circle cx="104.8" cy="49.5" r="1.58" fill="#425232"/><circle cx="111.4" cy="44.8" r="1.19" fill="#2E3B25"/><circle cx="104.3" cy="44.4" r="1.28" fill="#425232"/><circle cx="89.4" cy="48.7" r="1.09" fill="#425232"/><circle cx="98.2" cy="47.0" r="1.59" fill="#2E3B25"/><circle cx="100.2" cy="47.0" r="1.53" fill="#2E3B25"/><circle cx="95.3" cy="44.1" r="1.42" fill="#33412A"/><circle cx="93.8" cy="43.2" r="1.45" fill="#4A5A3A"/><circle cx="90.6" cy="47.2" r="1.57" fill="#33412A"/><circle cx="110.0" cy="43.4" r="1.99" fill="#33412A"/><circle cx="96.4" cy="45.5" r="1.94" fill="#425232"/><circle cx="96.6" cy="45.0" r="1.04" fill="#4A5A3A"/><circle cx="99.9" cy="41.5" r="1.39" fill="#33412A"/><circle cx="101.4" cy="48.5" r="1.99" fill="#33412A"/><circle cx="92.2" cy="41.1" r="1.87" fill="#425232"/><circle cx="91.7" cy="40.9" r="1.68" fill="#425232"/><circle cx="94.8" cy="47.9" r="1.37" fill="#4A5A3A"/><circle cx="112.8" cy="47.7" r="1.79" fill="#3A492E"/><circle cx="101.0" cy="49.0" r="1.37" fill="#2E3B25"/><circle cx="93.5" cy="43.2" r="1.55" fill="#425232"/><circle cx="100.4" cy="50.4" r="1.03" fill="#2E3B25"/><circle cx="99.9" cy="42.5" r="1.26" fill="#33412A"/><circle cx="113.0" cy="40.9" r="1.49" fill="#3A492E"/><circle cx="102.0" cy="43.1" r="1.79" fill="#425232"/><circle cx="106.6" cy="45.1" r="1.42" fill="#2E3B25"/><circle cx="107.2" cy="40.1" r="1.67" fill="#3A492E"/><circle cx="109.9" cy="50.9" r="1.60" fill="#4A5A3A"/><circle cx="106.5" cy="45.6" r="1.47" fill="#2E3B25"/><circle cx="96.9" cy="50.9" r="1.64" fill="#4A5A3A"/><circle cx="110.0" cy="50.0" r="1.07" fill="#33412A"/><circle cx="111.4" cy="48.8" r="1.93" fill="#33412A"/><circle cx="87.8" cy="50.8" r="1.89" fill="#3A492E"/><circle cx="108.9" cy="44.5" r="1.53" fill="#425232"/><circle cx="88.8" cy="41.7" r="1.28" fill="#4A5A3A"/><circle cx="112.2" cy="49.1" r="1.40" fill="#2E3B25"/><circle cx="94.9" cy="47.5" r="1.33" fill="#425232"/><circle cx="90.4" cy="50.4" r="1.81" fill="#425232"/><circle cx="114.1" cy="44.9" r="1.84" fill="#2E3B25"/><circle cx="87.2" cy="46.5" r="2.00" fill="#425232"/><circle cx="102.9" cy="48.4" r="1.42" fill="#2E3B25"/><circle cx="114.2" cy="48.2" r="1.38" fill="#2E3B25"/><circle cx="93.5" cy="48.6" r="1.97" fill="#3A492E"/><circle cx="110.1" cy="40.7" r="1.85" fill="#33412A"/><circle cx="111.2" cy="45.3" r="1.03" fill="#4A5A3A"/><circle cx="105.0" cy="48.1" r="1.42" fill="#3A492E"/><circle cx="88.6" cy="47.4" r="1.72" fill="#2E3B25"/><circle cx="106.2" cy="43.1" r="1.60" fill="#2E3B25"/><circle cx="92.7" cy="46.9" r="1.33" fill="#4A5A3A"/><circle cx="110.1" cy="42.2" r="1.18" fill="#2E3B25"/><circle cx="90.3" cy="49.2" r="1.27" fill="#425232"/><circle cx="101.7" cy="40.2" r="1.52" fill="#425232"/><circle cx="100.4" cy="46.3" r="1.37" fill="#3A492E"/><circle cx="90.2" cy="51.0" r="1.21" fill="#33412A"/><circle cx="93.0" cy="49.3" r="1.85" fill="#4A5A3A"/><circle cx="100.1" cy="45.9" r="1.35" fill="#425232"/><circle cx="93.5" cy="49.2" r="1.63" fill="#425232"/><circle cx="109.8" cy="51.0" r="1.43" fill="#33412A"/><circle cx="87.6" cy="49.3" r="1.27" fill="#425232"/><circle cx="92.2" cy="48.3" r="1.11" fill="#3A492E"/><circle cx="113.1" cy="41.8" r="1.44" fill="#2E3B25"/><circle cx="108.6" cy="43.8" r="1.77" fill="#33412A"/><circle cx="106.6" cy="45.2" r="1.93" fill="#33412A"/><circle cx="103.4" cy="40.8" r="1.54" fill="#4A5A3A"/><circle cx="97.2" cy="45.0" r="1.13" fill="#2E3B25"/><circle cx="110.2" cy="39.2" r="1.75" fill="#33412A"/><circle cx="111.4" cy="45.6" r="1.23" fill="#33412A"/><circle cx="90.3" cy="45.3" r="1.32" fill="#4A5A3A"/><circle cx="88.3" cy="46.7" r="1.97" fill="#425232"/><circle cx="90.0" cy="44.7" r="1.85" fill="#3A492E"/><circle cx="99.5" cy="50.7" r="1.78" fill="#425232"/><circle cx="87.6" cy="44.0" r="1.01" fill="#33412A"/><circle cx="101.7" cy="40.8" r="1.54" fill="#425232"/><circle cx="101.1" cy="48.2" r="1.93" fill="#425232"/><circle cx="114.0" cy="43.6" r="1.34" fill="#3A492E"/><circle cx="102.4" cy="50.4" r="1.70" fill="#2E3B25"/><circle cx="90.9" cy="50.3" r="1.54" fill="#2E3B25"/><circle cx="95.1" cy="41.3" r="1.30" fill="#3A492E"/><circle cx="106.3" cy="46.6" r="1.25" fill="#4A5A3A"/><circle cx="104.6" cy="40.8" r="1.21" fill="#425232"/><circle cx="89.7" cy="41.1" r="1.20" fill="#425232"/><circle cx="93.4" cy="42.5" r="1.13" fill="#33412A"/><circle cx="109.6" cy="48.7" r="1.00" fill="#2E3B25"/><circle cx="104.6" cy="41.7" r="1.49" fill="#3A492E"/><circle cx="107.8" cy="44.5" r="1.15" fill="#3A492E"/><circle cx="106.8" cy="46.4" r="1.98" fill="#3A492E"/><circle cx="100.9" cy="49.9" r="1.31" fill="#33412A"/><circle cx="100.6" cy="43.4" r="1.48" fill="#4A5A3A"/><circle cx="95.8" cy="43.6" r="1.29" fill="#425232"/><circle cx="110.3" cy="39.1" r="1.66" fill="#425232"/><circle cx="91.9" cy="41.4" r="1.50" fill="#2E3B25"/><circle cx="102.8" cy="49.1" r="1.08" fill="#33412A"/><circle cx="101.0" cy="45.5" r="1.77" fill="#4A5A3A"/><circle cx="100.2" cy="50.4" r="1.95" fill="#2E3B25"/><circle cx="106.9" cy="44.0" r="1.36" fill="#4A5A3A"/><circle cx="100.0" cy="47.8" r="1.39" fill="#425232"/><circle cx="109.7" cy="50.1" r="1.65" fill="#2E3B25"/><circle cx="105.4" cy="41.2" r="1.93" fill="#33412A"/><circle cx="90.4" cy="46.4" r="1.76" fill="#3A492E"/><circle cx="103.4" cy="49.3" r="1.18" fill="#33412A"/><circle cx="110.3" cy="42.4" r="1.06" fill="#3A492E"/><circle cx="107.2" cy="45.3" r="1.77" fill="#3A492E"/><circle cx="102.5" cy="40.1" r="1.05" fill="#425232"/><circle cx="102.8" cy="48.5" r="1.62" fill="#4A5A3A"/><circle cx="87.0" cy="45.1" r="1.02" fill="#33412A"/><circle cx="98.7" cy="46.1" r="1.01" fill="#3A492E"/><circle cx="89.4" cy="42.3" r="1.04" fill="#3A492E"/><circle cx="110.2" cy="48.1" r="1.32" fill="#3A492E"/><circle cx="94.6" cy="41.7" r="1.94" fill="#2E3B25"/><circle cx="98.3" cy="49.5" r="1.68" fill="#3A492E"/><circle cx="101.1" cy="48.2" r="1.50" fill="#425232"/><circle cx="88.8" cy="43.2" r="1.49" fill="#3A492E"/><circle cx="109.1" cy="44.9" r="1.32" fill="#425232"/><circle cx="98.6" cy="45.2" r="1.00" fill="#425232"/><circle cx="87.6" cy="45.0" r="1.79" fill="#3A492E"/><circle cx="108.0" cy="50.8" r="1.76" fill="#4A5A3A"/><circle cx="100.3" cy="47.6" r="1.57" fill="#425232"/><circle cx="109.6" cy="45.1" r="1.38" fill="#3A492E"/><circle cx="95.1" cy="49.4" r="1.72" fill="#33412A"/><circle cx="103.4" cy="46.3" r="1.90" fill="#4A5A3A"/><circle cx="94.7" cy="43.9" r="1.04" fill="#4A5A3A"/><circle cx="104.6" cy="39.6" r="1.89" fill="#2E3B25"/><circle cx="96.0" cy="42.0" r="1.75" fill="#425232"/>
<rect x="87" y="50" width="29" height="6.5" fill="#3C4A2C"/>
<rect x="89.5" y="46" width="1.5" height="9" fill="#3A482B"/>
<rect x="93.5" y="46" width="1.5" height="9" fill="#3A482B"/>
<rect x="97.5" y="46" width="1.5" height="9" fill="#3A482B"/>
<rect x="101.5" y="46" width="1.5" height="9" fill="#3A482B"/>
<rect x="105.5" y="46" width="1.5" height="9" fill="#3A482B"/>
<rect x="109.5" y="46" width="1.5" height="9" fill="#3A482B"/>
<rect x="112.5" y="46" width="1.5" height="9" fill="#3A482B"/>
<polygon points="113.5,46.0 112.5,40.0 113.5,35.0 116.0,30.5 119.0,28.0 122.0,27.6 125.0,29.0 127.5,32.5 128.5,37.0 128.0,42.0 126.0,46.0 124.5,52.0 121.0,52.0 119.0,47.0" fill="#38472C"/><circle cx="124.3" cy="31.5" r="1.99" fill="#33412A"/><circle cx="114.9" cy="44.6" r="1.37" fill="#33412A"/><circle cx="117.9" cy="44.9" r="1.28" fill="#425232"/><circle cx="115.8" cy="36.3" r="1.31" fill="#425232"/><circle cx="127.3" cy="40.1" r="1.23" fill="#2E3B25"/><circle cx="126.0" cy="39.5" r="1.46" fill="#425232"/><circle cx="119.5" cy="35.3" r="1.69" fill="#2E3B25"/><circle cx="124.0" cy="34.6" r="1.49" fill="#33412A"/><circle cx="126.8" cy="37.2" r="1.07" fill="#4A5A3A"/><circle cx="116.2" cy="40.9" r="1.50" fill="#33412A"/><circle cx="116.3" cy="35.2" r="1.82" fill="#425232"/><circle cx="118.7" cy="39.2" r="1.87" fill="#33412A"/><circle cx="124.6" cy="48.0" r="1.27" fill="#3A492E"/><circle cx="114.3" cy="39.6" r="1.38" fill="#425232"/><circle cx="115.0" cy="39.8" r="1.48" fill="#2E3B25"/><circle cx="126.0" cy="41.5" r="1.46" fill="#4A5A3A"/><circle cx="119.7" cy="45.2" r="1.68" fill="#4A5A3A"/><circle cx="122.9" cy="36.9" r="1.35" fill="#4A5A3A"/><circle cx="127.5" cy="35.0" r="1.45" fill="#4A5A3A"/><circle cx="125.6" cy="47.1" r="1.89" fill="#2E3B25"/><circle cx="118.1" cy="37.1" r="1.52" fill="#3A492E"/><circle cx="116.5" cy="39.8" r="1.51" fill="#425232"/><circle cx="117.5" cy="35.4" r="1.60" fill="#3A492E"/><circle cx="117.9" cy="29.0" r="1.17" fill="#4A5A3A"/><circle cx="124.2" cy="30.2" r="1.84" fill="#4A5A3A"/><circle cx="126.2" cy="35.8" r="1.32" fill="#2E3B25"/><circle cx="124.3" cy="41.0" r="1.48" fill="#33412A"/><circle cx="118.8" cy="46.8" r="1.00" fill="#3A492E"/><circle cx="123.8" cy="38.9" r="1.16" fill="#3A492E"/><circle cx="121.8" cy="41.0" r="1.75" fill="#425232"/><circle cx="122.8" cy="42.9" r="2.00" fill="#2E3B25"/><circle cx="121.9" cy="47.9" r="1.69" fill="#425232"/><circle cx="119.9" cy="42.3" r="1.57" fill="#2E3B25"/><circle cx="124.7" cy="36.3" r="1.19" fill="#2E3B25"/><circle cx="125.0" cy="30.0" r="1.65" fill="#3A492E"/><circle cx="124.4" cy="29.3" r="1.88" fill="#2E3B25"/><circle cx="121.1" cy="49.2" r="1.23" fill="#3A492E"/><circle cx="122.3" cy="49.0" r="1.37" fill="#3A492E"/><circle cx="118.5" cy="41.5" r="1.50" fill="#2E3B25"/><circle cx="120.0" cy="31.8" r="1.07" fill="#425232"/><circle cx="126.9" cy="31.7" r="1.67" fill="#33412A"/><circle cx="122.3" cy="38.8" r="1.03" fill="#2E3B25"/><circle cx="126.7" cy="42.2" r="1.26" fill="#2E3B25"/><circle cx="125.4" cy="37.5" r="1.64" fill="#33412A"/><circle cx="119.7" cy="39.3" r="1.97" fill="#4A5A3A"/><circle cx="120.0" cy="29.7" r="1.85" fill="#3A492E"/><circle cx="124.7" cy="39.9" r="1.66" fill="#2E3B25"/><circle cx="123.4" cy="35.5" r="1.86" fill="#2E3B25"/><circle cx="116.8" cy="37.7" r="1.30" fill="#3A492E"/><circle cx="116.8" cy="41.6" r="1.92" fill="#3A492E"/><circle cx="119.7" cy="40.1" r="1.96" fill="#2E3B25"/><circle cx="123.0" cy="46.9" r="1.40" fill="#2E3B25"/><circle cx="116.0" cy="34.6" r="1.41" fill="#2E3B25"/><circle cx="122.9" cy="44.1" r="1.74" fill="#2E3B25"/><circle cx="124.9" cy="35.4" r="1.38" fill="#425232"/><circle cx="118.6" cy="43.8" r="1.10" fill="#3A492E"/><circle cx="124.3" cy="41.5" r="1.83" fill="#3A492E"/><circle cx="123.6" cy="44.7" r="1.26" fill="#3A492E"/><circle cx="126.0" cy="39.5" r="1.37" fill="#4A5A3A"/><circle cx="122.9" cy="32.8" r="1.93" fill="#4A5A3A"/><circle cx="122.2" cy="43.1" r="1.97" fill="#425232"/><circle cx="122.5" cy="47.4" r="1.04" fill="#33412A"/><circle cx="116.1" cy="36.2" r="1.39" fill="#4A5A3A"/><circle cx="117.2" cy="43.2" r="1.91" fill="#425232"/><circle cx="118.3" cy="43.6" r="1.93" fill="#2E3B25"/><circle cx="124.5" cy="50.1" r="1.48" fill="#4A5A3A"/><circle cx="122.7" cy="37.8" r="1.07" fill="#3A492E"/><circle cx="119.5" cy="30.6" r="1.62" fill="#33412A"/><circle cx="122.6" cy="45.8" r="1.54" fill="#2E3B25"/><circle cx="118.2" cy="32.4" r="1.34" fill="#33412A"/><circle cx="120.9" cy="34.0" r="1.52" fill="#4A5A3A"/><circle cx="113.3" cy="39.8" r="1.15" fill="#4A5A3A"/><circle cx="116.0" cy="31.1" r="1.17" fill="#4A5A3A"/><circle cx="118.7" cy="33.4" r="1.72" fill="#2E3B25"/><circle cx="126.1" cy="43.6" r="1.50" fill="#33412A"/><circle cx="124.8" cy="40.9" r="1.40" fill="#4A5A3A"/><circle cx="124.6" cy="47.4" r="1.11" fill="#425232"/><circle cx="128.0" cy="40.2" r="1.01" fill="#425232"/><circle cx="119.6" cy="46.0" r="1.40" fill="#33412A"/><circle cx="122.5" cy="36.9" r="1.93" fill="#33412A"/><circle cx="124.2" cy="42.7" r="1.17" fill="#3A492E"/><circle cx="118.4" cy="32.2" r="1.13" fill="#4A5A3A"/><circle cx="121.6" cy="33.7" r="1.02" fill="#4A5A3A"/><circle cx="122.8" cy="43.7" r="1.83" fill="#425232"/><circle cx="119.3" cy="39.3" r="1.61" fill="#425232"/><circle cx="122.8" cy="29.0" r="1.49" fill="#425232"/><circle cx="122.0" cy="31.7" r="1.24" fill="#425232"/><circle cx="119.5" cy="41.7" r="1.88" fill="#425232"/><circle cx="118.6" cy="31.1" r="1.68" fill="#4A5A3A"/><circle cx="116.3" cy="30.6" r="1.07" fill="#2E3B25"/><circle cx="118.2" cy="28.7" r="1.73" fill="#3A492E"/><circle cx="119.3" cy="45.3" r="1.02" fill="#33412A"/><circle cx="124.5" cy="31.1" r="1.95" fill="#2E3B25"/><circle cx="123.9" cy="28.7" r="1.12" fill="#33412A"/><circle cx="120.4" cy="35.0" r="1.31" fill="#425232"/><circle cx="119.8" cy="48.9" r="1.51" fill="#33412A"/><circle cx="125.0" cy="35.2" r="1.33" fill="#2E3B25"/><circle cx="122.6" cy="34.3" r="1.17" fill="#2E3B25"/><circle cx="118.4" cy="43.7" r="1.84" fill="#2E3B25"/><circle cx="127.3" cy="36.4" r="1.82" fill="#425232"/><circle cx="125.8" cy="33.3" r="1.68" fill="#425232"/><circle cx="122.2" cy="46.1" r="1.88" fill="#425232"/><circle cx="124.8" cy="48.3" r="1.08" fill="#425232"/><circle cx="122.2" cy="49.5" r="1.15" fill="#4A5A3A"/><circle cx="116.1" cy="40.3" r="1.64" fill="#3A492E"/><circle cx="114.2" cy="33.8" r="1.87" fill="#3A492E"/><circle cx="120.7" cy="31.1" r="1.94" fill="#425232"/><circle cx="120.6" cy="49.4" r="1.13" fill="#33412A"/><circle cx="121.1" cy="31.1" r="1.85" fill="#4A5A3A"/><circle cx="124.6" cy="40.7" r="1.13" fill="#3A492E"/>
<rect x="120.2" y="45" width="3.6" height="11.8" fill="#36442A"/><rect x="128.8" y="50" width="2.2" height="6.4" fill="#3F4E2E"/><rect x="76" y="53.5" width="12" height="2.6" fill="#55683E"/>
</g></g>
<g filter="url(#b05)" fill="#C8D8EC" opacity="0.6">
<rect x="65.4" y="44.2" width="0.8" height="2.8"/>
<rect x="49.6" y="46.2" width="1.0" height="2.4"/>
<rect x="50.3" y="48.2" width="1.0" height="2.9"/>
<rect x="47.7" y="52.4" width="0.7" height="2.8"/>
<rect x="58.7" y="50.9" width="0.7" height="1.8"/>
<rect x="49.0" y="50.1" width="1.0" height="1.6"/>
<rect x="51.4" y="41.1" width="0.7" height="2.3"/>
<rect x="57.1" y="49.2" width="0.7" height="2.9"/>
<rect x="69.6" y="49.6" width="1.1" height="2.9"/>
<rect x="49.2" y="46.0" width="0.7" height="2.8"/>
<rect x="59.4" y="41.4" width="0.9" height="2.8"/>
<rect x="59.7" y="41.6" width="1.3" height="1.3"/>
<rect x="66.4" y="52.7" width="1.1" height="3.1"/>
<rect x="59.2" y="42.8" width="0.9" height="2.7"/>
<rect x="64.7" y="45.0" width="1.3" height="1.3"/>
<rect x="58.4" y="40.5" width="0.9" height="3.2"/>
<rect x="91.1" y="49.9" width="1.2" height="2.6"/>
<rect x="89.5" y="46.8" width="1.1" height="1.4"/>
<rect x="95.8" y="44.6" width="1.2" height="3.0"/>
<rect x="112.0" y="48.5" width="1.0" height="1.3"/>
<rect x="100.5" y="48.6" width="1.1" height="1.3"/>
<rect x="88.2" y="44.5" width="1.2" height="1.4"/>
<rect x="98.1" y="46.9" width="1.2" height="1.5"/>
<rect x="94.8" y="48.6" width="0.7" height="1.5"/>
<rect x="88.7" y="49.7" width="0.8" height="2.2"/>
<rect x="97.9" y="49.9" width="1.1" height="2.4"/>
<rect x="100.7" y="45.6" width="1.2" height="1.4"/>
<rect x="104.2" y="45.8" width="0.8" height="2.1"/>
<rect x="116.5" y="43.1" width="0.6" height="1.2"/>
<rect x="115.8" y="37.1" width="1.2" height="2.2"/>
<rect x="122.8" y="45.3" width="0.7" height="3.1"/>
<rect x="119.0" y="41.5" width="0.9" height="2.6"/>
<rect x="124.0" y="38.3" width="1.2" height="2.1"/>
<rect x="117.3" y="46.4" width="1.2" height="2.9"/>
<rect x="15.6" y="53.1" width="1.1" height="3.1"/>
<rect x="33.7" y="54.0" width="0.9" height="2.7"/>
<rect x="34.8" y="49.2" width="1.0" height="2.0"/>
<rect x="38.5" y="47.8" width="1.1" height="2.3"/>
<rect x="31.7" y="47.1" width="0.7" height="2.6"/>
<rect x="8.1" y="47.6" width="1.1" height="1.3"/>
<rect x="40.3" y="49.9" width="1.0" height="2.6"/>
<rect x="4.4" y="44.2" width="1.1" height="2.4"/>
</g>
<g filter="url(#b05)"><ellipse cx="121" cy="92" rx="4.5" ry="6" fill="#2E2A2A" opacity="0.55"/><ellipse cx="121" cy="83" rx="4" ry="7" fill="#4A4426" opacity="0.45"/><circle cx="117.5" cy="80" r="0.65" fill="#C87038" opacity="0.6"/><circle cx="119" cy="75" r="0.65" fill="#C87038" opacity="0.6"/><circle cx="121.5" cy="72" r="0.65" fill="#C87038" opacity="0.6"/><circle cx="123" cy="78" r="0.65" fill="#C87038" opacity="0.6"/><circle cx="125" cy="82" r="0.65" fill="#C87038" opacity="0.6"/><circle cx="120" cy="85" r="0.65" fill="#C87038" opacity="0.6"/><circle cx="118" cy="88" r="0.65" fill="#C87038" opacity="0.6"/><circle cx="124" cy="86" r="0.65" fill="#C87038" opacity="0.6"/><circle cx="122" cy="81" r="0.65" fill="#C87038" opacity="0.6"/><circle cx="126" cy="76" r="0.65" fill="#C87038" opacity="0.6"/><circle cx="113.5" cy="66" r="0.65" fill="#C87038" opacity="0.6"/><circle cx="121" cy="60" r="0.65" fill="#C87038" opacity="0.6"/></g>
</g></svg>
<svg class="ph" style="left:635px;top:191px" width="161" height="120" viewBox="0 0 161 120">
<defs>
<linearGradient id="p2sky" x1="0" y1="0" x2="0" y2="1"><stop offset="0" stop-color="#5E9EE8"/><stop offset="0.4" stop-color="#86B8EF"/><stop offset="0.8" stop-color="#C2DBF6"/><stop offset="1" stop-color="#E0ECFA"/></linearGradient>
<linearGradient id="p2field" x1="0" y1="0" x2="0" y2="1"><stop offset="0" stop-color="#72B832"/><stop offset="0.12" stop-color="#68B030"/><stop offset="0.22" stop-color="#58A82C"/><stop offset="0.55" stop-color="#54A22A"/><stop offset="0.68" stop-color="#3A8424"/><stop offset="1" stop-color="#2A661E"/></linearGradient>
<clipPath id="p2c"><rect width="161" height="120"/></clipPath>
</defs>
<g clip-path="url(#p2c)">
<rect width="161" height="42" fill="url(#p2sky)"/>
<g filter="url(#b05)" fill="#FFFFFF">
<ellipse cx="42" cy="5.3" rx="12" ry="1.8" opacity="0.9"/>
<ellipse cx="58" cy="9" rx="13" ry="3.4" opacity="1"/>
<ellipse cx="72" cy="12" rx="12" ry="3.3" opacity="1"/>
<ellipse cx="80" cy="17.5" rx="8" ry="2.4" opacity="0.95"/>
<ellipse cx="78" cy="22.5" rx="11" ry="1.6" opacity="0.9"/>
<ellipse cx="52" cy="28" rx="13" ry="1.8" opacity="0.85"/>
<ellipse cx="63" cy="30.5" rx="7" ry="1.2" opacity="0.65"/>
<ellipse cx="100" cy="29" rx="12" ry="3" opacity="0.6"/>
<ellipse cx="96" cy="33" rx="10" ry="2" opacity="0.55"/>
<ellipse cx="125" cy="21.5" rx="13" ry="1.8" opacity="0.85"/>
<ellipse cx="143" cy="17" rx="9" ry="1.6" opacity="0.8"/>
<ellipse cx="157" cy="11" rx="4" ry="2.5" opacity="0.75"/>
<ellipse cx="140" cy="25" rx="6" ry="1.2" opacity="0.55"/>
<ellipse cx="152" cy="25.5" rx="5" ry="1.2" opacity="0.65"/>
<ellipse cx="112" cy="36" rx="20" ry="2" opacity="0.5"/>
<ellipse cx="30" cy="34" rx="10" ry="2" opacity="0.4"/>
</g>
<g filter="url(#b05)"><rect x="58" y="36.4" width="62" height="2.4" fill="#9FB2B4" opacity="0.85"/><rect x="92" y="34.6" width="28" height="2.4" fill="#C8D2DC" opacity="0.8"/><rect x="124" y="33.6" width="36" height="2.4" fill="#C8D2DC" opacity="0.7"/><rect x="96" y="35.2" width="2" height="2" fill="#5A6A5A" opacity="0.7"/><rect x="104" y="35.2" width="2" height="2" fill="#5A6A5A" opacity="0.7"/><rect x="82" y="33.5" width="2.4" height="3.5" fill="#7A8E86" opacity="0.7"/><rect x="120" y="35.3" width="41" height="2.6" fill="#5E8A4A"/></g>
<polygon points="0,43 30,41 70,40 120,38.2 161,36.3 161,120 0,120" fill="url(#p2field)"/>
<g filter="url(#b2)">
<ellipse cx="20" cy="46.5" rx="26" ry="3.2" fill="#92BE3C" opacity="0.9"/>
<ellipse cx="112" cy="43" rx="36" ry="3.5" fill="#72B838" opacity="0.7"/>
<ellipse cx="30" cy="72" rx="34" ry="12" fill="#5CAA30" opacity="0.7"/>
</g>
<rect y="38" width="161" height="82" filter="url(#grassD)" opacity="0.5"/>
<rect y="44" width="161" height="76" filter="url(#grassL)" opacity="0.33"/>
<g filter="url(#b1)">
<polygon points="0,51 22,51.5 46,49.5 90,48.2 138,49 132,54 112,54.5 80,55.5 44,57.5 0,58" fill="#2A5E20"/>
<polygon points="138,50 142,54 132,66 118,76 106,80 104,74 116,66 128,56" fill="#2A4E22" opacity="0.9"/>
</g>
<g filter="url(#b2)">
<ellipse cx="80" cy="80" rx="28" ry="12" fill="#1F4A1C" opacity="0.95"/><ellipse cx="96" cy="84" rx="17" ry="11" fill="#122A14" opacity="1"/><ellipse cx="66" cy="71" rx="14" ry="4" fill="#2E6A26" opacity="0.7"/><ellipse cx="101" cy="81" rx="4" ry="6" fill="#4E4A3C" opacity="0.7"/>
<rect x="-5" y="91" width="171" height="36" fill="#225A1A" opacity="0.95"/><ellipse cx="22" cy="110" rx="32" ry="13" fill="#1C4C18" opacity="0.9"/><ellipse cx="140" cy="108" rx="30" ry="17" fill="#173A17" opacity="0.95"/><ellipse cx="66" cy="96" rx="32" ry="5" fill="#44922E" opacity="0.8"/><ellipse cx="90" cy="112" rx="30" ry="6" fill="#2F7A26" opacity="0.7"/><ellipse cx="158" cy="118" rx="8" ry="5" fill="#4A5048" opacity="0.8"/>
</g>
<g filter="url(#b1)"><polygon points="153.5,37 158,37 153,50 161,58 161,84 148,87 134,84 128,78 134,66 142,54 148,46" fill="#A2C07E" opacity="0.8"/><polygon points="146,52 161,54 161,76 150,77 141,67" fill="#CAD8B0" opacity="0.75"/><polygon points="153.5,37 157,37 150,50 143,56 148,46" fill="#D8DABE" opacity="0.95"/><polygon points="118,60 132,56 128,70 116,78 110,70" fill="#86B266" opacity="0.5"/><ellipse cx="158" cy="44" rx="4" ry="6" fill="#3E7A2C" opacity="0.8"/></g>
<rect y="48" width="161" height="72" filter="url(#grassD)" opacity="0.2"/>
<rect y="60" width="161" height="60" filter="url(#grassL)" opacity="0.12"/>
<g filter="url(#rough)">
<circle cx="1.5" cy="38.2" r="1.47" fill="#5E8438" opacity="0.85"/><circle cx="8.2" cy="43.3" r="1.07" fill="#9AB86C" opacity="0.85"/><circle cx="6.0" cy="36.2" r="0.96" fill="#6A9040" opacity="0.85"/><circle cx="17.8" cy="38.3" r="1.29" fill="#5E8438" opacity="0.85"/><circle cx="11.2" cy="25.9" r="1.20" fill="#5E8438" opacity="0.85"/><circle cx="12.9" cy="37.4" r="1.74" fill="#7A9E48" opacity="0.85"/><circle cx="1.3" cy="40.6" r="1.01" fill="#7A9E48" opacity="0.85"/><circle cx="7.7" cy="35.6" r="1.21" fill="#5E8438" opacity="0.85"/><circle cx="1.2" cy="37.7" r="1.32" fill="#6A9040" opacity="0.85"/><circle cx="12.5" cy="40.3" r="1.49" fill="#9AB86C" opacity="0.85"/><circle cx="10.0" cy="35.8" r="1.25" fill="#8CAC5C" opacity="0.85"/><circle cx="6.8" cy="32.1" r="1.31" fill="#5E8438" opacity="0.85"/><circle cx="4.8" cy="34.4" r="1.14" fill="#7A9E48" opacity="0.85"/><circle cx="1.4" cy="38.7" r="1.78" fill="#7A9E48" opacity="0.85"/><circle cx="8.6" cy="35.6" r="1.57" fill="#6A9040" opacity="0.85"/><circle cx="10.3" cy="31.3" r="1.78" fill="#7A9E48" opacity="0.85"/><circle cx="1.9" cy="28.5" r="1.21" fill="#8CAC5C" opacity="0.85"/><circle cx="5.5" cy="36.5" r="1.18" fill="#7A9E48" opacity="0.85"/><circle cx="1.6" cy="42.6" r="1.06" fill="#5E8438" opacity="0.85"/><circle cx="6.1" cy="38.1" r="1.51" fill="#6A9040" opacity="0.85"/><circle cx="6.8" cy="43.8" r="1.77" fill="#9AB86C" opacity="0.85"/><circle cx="-1.7" cy="31.8" r="1.36" fill="#6A9040" opacity="0.85"/><circle cx="10.1" cy="33.5" r="1.27" fill="#5E8438" opacity="0.85"/><circle cx="16.3" cy="37.6" r="0.93" fill="#6A9040" opacity="0.85"/><circle cx="5.3" cy="42.1" r="1.79" fill="#5E8438" opacity="0.85"/><circle cx="12.0" cy="42.3" r="1.33" fill="#6A9040" opacity="0.85"/><circle cx="17.3" cy="32.1" r="1.04" fill="#8CAC5C" opacity="0.85"/><circle cx="10.9" cy="33.3" r="1.42" fill="#5E8438" opacity="0.85"/><circle cx="4.6" cy="35.3" r="1.15" fill="#7A9E48" opacity="0.85"/><circle cx="6.2" cy="27.7" r="1.54" fill="#8CAC5C" opacity="0.85"/><circle cx="10.8" cy="37.3" r="1.67" fill="#9AB86C" opacity="0.85"/><circle cx="7.1" cy="38.1" r="1.58" fill="#6A9040" opacity="0.85"/><circle cx="7.6" cy="27.9" r="1.68" fill="#8CAC5C" opacity="0.85"/><circle cx="0.7" cy="35.4" r="1.19" fill="#5E8438" opacity="0.85"/><circle cx="17.1" cy="36.9" r="1.06" fill="#5E8438" opacity="0.85"/><circle cx="2.3" cy="39.2" r="1.58" fill="#9AB86C" opacity="0.85"/><circle cx="13.3" cy="41.6" r="1.60" fill="#7A9E48" opacity="0.85"/><circle cx="6.3" cy="41.5" r="1.26" fill="#9AB86C" opacity="0.85"/><circle cx="1.8" cy="38.6" r="1.13" fill="#9AB86C" opacity="0.85"/><circle cx="6.4" cy="31.1" r="1.71" fill="#8CAC5C" opacity="0.85"/><circle cx="15.6" cy="40.3" r="1.34" fill="#9AB86C" opacity="0.85"/><circle cx="0.1" cy="36.5" r="1.36" fill="#8CAC5C" opacity="0.85"/><circle cx="13.0" cy="35.1" r="1.40" fill="#7A9E48" opacity="0.85"/><circle cx="11.3" cy="31.4" r="1.08" fill="#7A9E48" opacity="0.85"/><circle cx="4.8" cy="43.9" r="1.00" fill="#7A9E48" opacity="0.85"/><circle cx="12.0" cy="37.0" r="1.63" fill="#5E8438" opacity="0.85"/><circle cx="8.9" cy="43.0" r="1.51" fill="#5E8438" opacity="0.85"/><circle cx="8.1" cy="34.9" r="1.69" fill="#7A9E48" opacity="0.85"/><circle cx="7.3" cy="29.9" r="1.53" fill="#5E8438" opacity="0.85"/><circle cx="13.6" cy="33.8" r="1.11" fill="#5E8438" opacity="0.85"/><circle cx="5.0" cy="29.6" r="1.72" fill="#7A9E48" opacity="0.85"/><circle cx="6.0" cy="36.6" r="1.09" fill="#5E8438" opacity="0.85"/><circle cx="11.5" cy="39.5" r="1.50" fill="#9AB86C" opacity="0.85"/><circle cx="13.0" cy="38.1" r="1.12" fill="#5E8438" opacity="0.85"/><circle cx="6.3" cy="36.8" r="1.64" fill="#7A9E48" opacity="0.85"/><circle cx="1.5" cy="29.1" r="1.69" fill="#6A9040" opacity="0.85"/><circle cx="9.2" cy="36.9" r="1.24" fill="#5E8438" opacity="0.85"/><circle cx="1.6" cy="33.4" r="1.51" fill="#8CAC5C" opacity="0.85"/><circle cx="11.8" cy="38.0" r="1.13" fill="#7A9E48" opacity="0.85"/><circle cx="4.9" cy="30.1" r="1.66" fill="#6A9040" opacity="0.85"/><circle cx="17.3" cy="34.8" r="1.11" fill="#8CAC5C" opacity="0.85"/><circle cx="13.4" cy="28.2" r="1.25" fill="#5E8438" opacity="0.85"/><circle cx="7.4" cy="36.8" r="1.15" fill="#6A9040" opacity="0.85"/><circle cx="12.4" cy="36.9" r="0.99" fill="#6A9040" opacity="0.85"/><circle cx="-1.3" cy="40.5" r="1.74" fill="#8CAC5C" opacity="0.85"/><circle cx="-1.6" cy="34.7" r="0.94" fill="#9AB86C" opacity="0.85"/><circle cx="7.5" cy="33.7" r="1.79" fill="#9AB86C" opacity="0.85"/><circle cx="1.2" cy="43.5" r="1.07" fill="#8CAC5C" opacity="0.85"/><circle cx="17.2" cy="32.2" r="1.02" fill="#5E8438" opacity="0.85"/><circle cx="9.4" cy="26.2" r="1.07" fill="#5E8438" opacity="0.85"/><circle cx="17.0" cy="29.9" r="1.42" fill="#9AB86C" opacity="0.85"/><circle cx="-1.6" cy="36.2" r="0.97" fill="#6A9040" opacity="0.85"/><circle cx="1.3" cy="34.6" r="1.37" fill="#9AB86C" opacity="0.85"/><circle cx="11.3" cy="34.1" r="1.62" fill="#8CAC5C" opacity="0.85"/><circle cx="4.2" cy="37.3" r="0.91" fill="#7A9E48" opacity="0.85"/><circle cx="12.4" cy="28.8" r="0.99" fill="#6A9040" opacity="0.85"/><circle cx="5.7" cy="31.9" r="1.05" fill="#9AB86C" opacity="0.85"/><circle cx="8.6" cy="38.0" r="1.49" fill="#6A9040" opacity="0.85"/><circle cx="5.7" cy="30.0" r="1.08" fill="#6A9040" opacity="0.85"/><circle cx="13.6" cy="35.1" r="0.97" fill="#6A9040" opacity="0.85"/><circle cx="5.6" cy="35.3" r="1.47" fill="#6A9040" opacity="0.85"/><circle cx="-1.5" cy="32.2" r="1.33" fill="#5E8438" opacity="0.85"/><circle cx="12.6" cy="29.4" r="1.60" fill="#9AB86C" opacity="0.85"/><circle cx="9.5" cy="42.3" r="1.77" fill="#5E8438" opacity="0.85"/><circle cx="2.5" cy="34.0" r="1.53" fill="#8CAC5C" opacity="0.85"/><circle cx="-1.8" cy="31.9" r="1.45" fill="#9AB86C" opacity="0.85"/><circle cx="-1.5" cy="32.3" r="1.57" fill="#6A9040" opacity="0.85"/><circle cx="18.0" cy="35.3" r="1.69" fill="#6A9040" opacity="0.85"/><circle cx="2.9" cy="34.9" r="1.16" fill="#5E8438" opacity="0.85"/><circle cx="13.9" cy="41.8" r="1.23" fill="#7A9E48" opacity="0.85"/><circle cx="3.2" cy="36.5" r="1.22" fill="#8CAC5C" opacity="0.85"/><circle cx="10.3" cy="43.9" r="1.72" fill="#9AB86C" opacity="0.85"/><circle cx="13.9" cy="39.2" r="1.09" fill="#9AB86C" opacity="0.85"/><circle cx="9.2" cy="42.0" r="1.36" fill="#7A9E48" opacity="0.85"/><circle cx="1.5" cy="37.7" r="1.45" fill="#5E8438" opacity="0.85"/><circle cx="14.6" cy="39.4" r="1.49" fill="#8CAC5C" opacity="0.85"/><circle cx="2.0" cy="40.8" r="1.10" fill="#5E8438" opacity="0.85"/><circle cx="3.7" cy="35.4" r="1.31" fill="#7A9E48" opacity="0.85"/><circle cx="15.0" cy="31.6" r="1.30" fill="#8CAC5C" opacity="0.85"/><circle cx="13.8" cy="39.0" r="1.79" fill="#5E8438" opacity="0.85"/><circle cx="14.7" cy="41.5" r="1.17" fill="#5E8438" opacity="0.85"/><circle cx="2.2" cy="29.5" r="1.56" fill="#5E8438" opacity="0.85"/><circle cx="12.5" cy="25.8" r="1.72" fill="#6A9040" opacity="0.85"/><circle cx="8.7" cy="33.9" r="1.25" fill="#5E8438" opacity="0.85"/><circle cx="10.9" cy="38.3" r="1.68" fill="#7A9E48" opacity="0.85"/><circle cx="6.1" cy="30.0" r="1.60" fill="#7A9E48" opacity="0.85"/><circle cx="-0.3" cy="31.1" r="1.47" fill="#6A9040" opacity="0.85"/><circle cx="0.2" cy="36.8" r="1.48" fill="#9AB86C" opacity="0.85"/><circle cx="2.4" cy="34.6" r="1.54" fill="#6A9040" opacity="0.85"/><circle cx="-1.3" cy="42.1" r="1.73" fill="#9AB86C" opacity="0.85"/><circle cx="5.9" cy="28.9" r="1.03" fill="#7A9E48" opacity="0.85"/><circle cx="3.6" cy="40.7" r="0.95" fill="#9AB86C" opacity="0.85"/><circle cx="12.1" cy="25.7" r="1.55" fill="#9AB86C" opacity="0.85"/><circle cx="13.1" cy="34.4" r="1.38" fill="#9AB86C" opacity="0.85"/><circle cx="6.0" cy="37.2" r="1.47" fill="#8CAC5C" opacity="0.85"/><circle cx="1.1" cy="32.8" r="1.30" fill="#5E8438" opacity="0.85"/><circle cx="13.5" cy="36.3" r="1.30" fill="#6A9040" opacity="0.85"/><circle cx="-1.6" cy="37.3" r="1.31" fill="#6A9040" opacity="0.85"/><circle cx="14.7" cy="42.2" r="1.57" fill="#8CAC5C" opacity="0.85"/><circle cx="8.5" cy="28.4" r="1.62" fill="#8CAC5C" opacity="0.85"/>
<rect x="8.2" y="40" width="1.8" height="9" fill="#4A5A30"/>
<polygon points="20.0,44.0 21.0,38.0 23.0,36.5 25.0,38.0 25.0,44.0" fill="#44703A"/><circle cx="20.1" cy="44.0" r="0.99" fill="#3F6A36"/><circle cx="23.7" cy="43.1" r="1.30" fill="#3F6A36"/><circle cx="21.2" cy="43.7" r="1.06" fill="#3F6A36"/><circle cx="24.7" cy="41.6" r="1.36" fill="#3F6A36"/><circle cx="22.9" cy="36.7" r="1.03" fill="#4A7640"/><circle cx="21.0" cy="42.9" r="1.19" fill="#3F6A36"/><circle cx="23.5" cy="41.1" r="1.03" fill="#4A7640"/><circle cx="21.6" cy="42.4" r="1.38" fill="#3F6A36"/><circle cx="21.4" cy="38.5" r="1.25" fill="#4A7640"/><circle cx="20.2" cy="43.4" r="1.15" fill="#4A7640"/><circle cx="22.0" cy="43.4" r="0.99" fill="#4A7640"/><circle cx="22.9" cy="40.7" r="1.16" fill="#4A7640"/><circle cx="20.4" cy="44.0" r="1.08" fill="#4A7640"/><circle cx="24.2" cy="38.0" r="1.02" fill="#3F6A36"/>
<polygon points="27.0,46.0 27.5,38.0 31.0,35.5 36.0,35.0 41.0,35.5 46.0,34.5 51.0,33.5 55.0,34.5 58.0,38.0 59.0,45.0" fill="#4E7E36"/><circle cx="45.9" cy="38.8" r="1.58" fill="#5A8A3C"/><circle cx="50.2" cy="36.8" r="1.11" fill="#68963F"/><circle cx="27.6" cy="41.3" r="1.49" fill="#4E7E36"/><circle cx="38.8" cy="35.6" r="1.29" fill="#44722F"/><circle cx="45.1" cy="44.3" r="1.97" fill="#44722F"/><circle cx="48.1" cy="37.4" r="1.18" fill="#68963F"/><circle cx="32.7" cy="39.5" r="1.81" fill="#5A8A3C"/><circle cx="32.8" cy="35.7" r="1.39" fill="#5A8A3C"/><circle cx="40.6" cy="40.6" r="1.95" fill="#44722F"/><circle cx="53.3" cy="37.6" r="1.43" fill="#44722F"/><circle cx="44.3" cy="44.7" r="1.51" fill="#5A8A3C"/><circle cx="52.1" cy="42.3" r="1.85" fill="#5A8A3C"/><circle cx="37.5" cy="35.3" r="1.77" fill="#4E7E36"/><circle cx="52.9" cy="42.1" r="1.98" fill="#4E7E36"/><circle cx="51.0" cy="37.8" r="1.98" fill="#68963F"/><circle cx="35.5" cy="40.4" r="1.78" fill="#68963F"/><circle cx="30.3" cy="40.1" r="1.25" fill="#5A8A3C"/><circle cx="35.1" cy="38.8" r="1.91" fill="#68963F"/><circle cx="51.4" cy="41.7" r="1.47" fill="#5A8A3C"/><circle cx="55.6" cy="42.1" r="1.47" fill="#5A8A3C"/><circle cx="44.5" cy="38.8" r="1.37" fill="#4E7E36"/><circle cx="53.4" cy="34.9" r="1.67" fill="#44722F"/><circle cx="57.9" cy="42.6" r="1.49" fill="#5A8A3C"/><circle cx="45.0" cy="40.3" r="1.31" fill="#68963F"/><circle cx="35.7" cy="37.7" r="1.12" fill="#5A8A3C"/><circle cx="51.0" cy="38.5" r="1.81" fill="#4E7E36"/><circle cx="32.5" cy="39.1" r="1.48" fill="#4E7E36"/><circle cx="40.4" cy="37.0" r="1.64" fill="#5A8A3C"/><circle cx="43.8" cy="37.2" r="1.91" fill="#4E7E36"/><circle cx="55.5" cy="38.2" r="1.12" fill="#68963F"/><circle cx="46.4" cy="37.1" r="1.39" fill="#44722F"/><circle cx="52.8" cy="36.9" r="1.94" fill="#5A8A3C"/><circle cx="39.4" cy="38.7" r="1.83" fill="#68963F"/><circle cx="51.2" cy="44.5" r="1.58" fill="#4E7E36"/><circle cx="39.3" cy="44.7" r="1.99" fill="#5A8A3C"/><circle cx="45.1" cy="39.0" r="1.87" fill="#44722F"/><circle cx="52.0" cy="34.9" r="1.79" fill="#68963F"/><circle cx="28.4" cy="43.6" r="1.35" fill="#44722F"/><circle cx="45.1" cy="41.3" r="1.80" fill="#5A8A3C"/><circle cx="50.6" cy="38.4" r="1.71" fill="#44722F"/><circle cx="49.3" cy="41.1" r="1.14" fill="#4E7E36"/><circle cx="27.6" cy="41.1" r="1.23" fill="#44722F"/><circle cx="42.0" cy="42.4" r="1.61" fill="#4E7E36"/><circle cx="53.3" cy="41.0" r="1.63" fill="#44722F"/><circle cx="27.9" cy="37.9" r="1.24" fill="#5A8A3C"/><circle cx="33.6" cy="38.8" r="1.39" fill="#5A8A3C"/><circle cx="44.1" cy="44.2" r="1.49" fill="#44722F"/><circle cx="44.0" cy="36.2" r="1.60" fill="#44722F"/><circle cx="41.6" cy="41.7" r="1.96" fill="#5A8A3C"/><circle cx="36.9" cy="45.0" r="1.54" fill="#44722F"/><circle cx="50.2" cy="43.0" r="1.58" fill="#5A8A3C"/><circle cx="37.1" cy="38.8" r="1.14" fill="#68963F"/><circle cx="42.1" cy="35.5" r="1.94" fill="#44722F"/><circle cx="34.9" cy="37.4" r="1.70" fill="#68963F"/><circle cx="53.2" cy="38.5" r="1.43" fill="#68963F"/><circle cx="58.0" cy="40.2" r="1.66" fill="#68963F"/><circle cx="53.0" cy="35.8" r="1.50" fill="#5A8A3C"/><circle cx="48.2" cy="38.9" r="1.16" fill="#4E7E36"/><circle cx="39.5" cy="38.3" r="1.15" fill="#4E7E36"/><circle cx="40.5" cy="37.9" r="1.95" fill="#44722F"/><circle cx="50.0" cy="35.3" r="1.99" fill="#68963F"/><circle cx="44.4" cy="35.0" r="1.16" fill="#68963F"/><circle cx="52.6" cy="35.0" r="1.12" fill="#5A8A3C"/><circle cx="44.0" cy="36.0" r="1.41" fill="#44722F"/><circle cx="35.6" cy="37.1" r="1.54" fill="#44722F"/><circle cx="37.8" cy="42.7" r="1.30" fill="#5A8A3C"/><circle cx="29.0" cy="43.3" r="1.23" fill="#4E7E36"/><circle cx="49.3" cy="37.4" r="1.33" fill="#4E7E36"/><circle cx="28.1" cy="39.5" r="1.94" fill="#4E7E36"/><circle cx="43.4" cy="36.9" r="1.62" fill="#4E7E36"/><circle cx="55.0" cy="36.0" r="1.76" fill="#4E7E36"/><circle cx="48.0" cy="35.1" r="1.85" fill="#68963F"/><circle cx="29.0" cy="41.8" r="1.23" fill="#4E7E36"/><circle cx="46.2" cy="38.3" r="1.14" fill="#68963F"/><circle cx="52.5" cy="41.5" r="1.23" fill="#4E7E36"/><circle cx="38.3" cy="40.8" r="1.56" fill="#68963F"/><circle cx="41.6" cy="37.1" r="1.75" fill="#4E7E36"/><circle cx="53.6" cy="36.1" r="1.82" fill="#4E7E36"/><circle cx="46.6" cy="38.8" r="1.56" fill="#5A8A3C"/><circle cx="43.7" cy="40.2" r="1.63" fill="#5A8A3C"/><circle cx="53.9" cy="36.8" r="1.64" fill="#5A8A3C"/><circle cx="30.7" cy="38.9" r="1.16" fill="#68963F"/><circle cx="58.5" cy="43.1" r="1.19" fill="#5A8A3C"/><circle cx="31.7" cy="41.4" r="1.48" fill="#5A8A3C"/><circle cx="32.1" cy="40.4" r="1.32" fill="#4E7E36"/><circle cx="28.1" cy="43.7" r="1.25" fill="#44722F"/><circle cx="38.2" cy="36.1" r="1.74" fill="#44722F"/><circle cx="36.6" cy="43.5" r="1.92" fill="#4E7E36"/><circle cx="39.9" cy="41.8" r="1.44" fill="#4E7E36"/><circle cx="32.6" cy="44.5" r="1.95" fill="#4E7E36"/><circle cx="28.1" cy="45.1" r="1.40" fill="#5A8A3C"/><circle cx="30.4" cy="42.7" r="1.79" fill="#44722F"/><circle cx="57.3" cy="41.4" r="1.93" fill="#5A8A3C"/><circle cx="35.8" cy="40.3" r="1.64" fill="#68963F"/><circle cx="48.6" cy="35.7" r="1.34" fill="#44722F"/><circle cx="50.3" cy="43.7" r="1.90" fill="#44722F"/><circle cx="44.6" cy="44.5" r="1.53" fill="#4E7E36"/><circle cx="52.0" cy="41.8" r="1.86" fill="#44722F"/><circle cx="46.5" cy="44.8" r="1.43" fill="#5A8A3C"/><circle cx="46.3" cy="43.7" r="1.57" fill="#44722F"/><circle cx="35.2" cy="45.1" r="1.98" fill="#5A8A3C"/><circle cx="31.7" cy="42.6" r="1.77" fill="#68963F"/><circle cx="37.9" cy="40.3" r="1.63" fill="#4E7E36"/><circle cx="50.9" cy="44.7" r="1.63" fill="#4E7E36"/><circle cx="32.9" cy="44.3" r="1.36" fill="#5A8A3C"/><circle cx="48.4" cy="37.7" r="1.61" fill="#68963F"/><circle cx="33.6" cy="40.6" r="1.46" fill="#44722F"/><circle cx="47.9" cy="35.5" r="1.68" fill="#4E7E36"/><circle cx="53.4" cy="40.3" r="1.68" fill="#4E7E36"/><circle cx="38.6" cy="43.3" r="1.68" fill="#5A8A3C"/><circle cx="44.4" cy="35.3" r="1.74" fill="#4E7E36"/><circle cx="36.0" cy="43.5" r="1.27" fill="#44722F"/><circle cx="51.3" cy="43.6" r="1.33" fill="#68963F"/><circle cx="32.5" cy="41.2" r="1.49" fill="#5A8A3C"/><circle cx="30.7" cy="36.1" r="1.45" fill="#4E7E36"/><circle cx="54.8" cy="35.0" r="1.76" fill="#44722F"/><circle cx="32.8" cy="43.9" r="1.30" fill="#5A8A3C"/><circle cx="43.5" cy="38.7" r="1.97" fill="#68963F"/><circle cx="33.2" cy="44.9" r="1.14" fill="#5A8A3C"/><circle cx="45.4" cy="39.9" r="1.73" fill="#68963F"/>
<polygon points="31.0,50.0 31.5,43.0 35.0,39.5 40.0,38.5 45.0,40.0 48.0,44.0 48.0,50.0" fill="#4C4A36"/><circle cx="43.1" cy="48.2" r="1.25" fill="#56503A"/><circle cx="34.3" cy="46.2" r="1.17" fill="#56503A"/><circle cx="44.7" cy="41.8" r="1.84" fill="#4E4A34"/><circle cx="38.5" cy="48.5" r="1.89" fill="#4E4A34"/><circle cx="39.4" cy="48.2" r="1.65" fill="#4A5A30"/><circle cx="43.9" cy="48.2" r="1.23" fill="#464630"/><circle cx="42.0" cy="46.1" r="1.13" fill="#56503A"/><circle cx="36.4" cy="48.8" r="1.16" fill="#4E4A34"/><circle cx="35.2" cy="45.4" r="1.22" fill="#4A5A30"/><circle cx="45.6" cy="41.6" r="1.69" fill="#56503A"/><circle cx="32.6" cy="44.2" r="1.22" fill="#56503A"/><circle cx="36.5" cy="40.8" r="1.58" fill="#56503A"/><circle cx="39.1" cy="41.5" r="1.51" fill="#56503A"/><circle cx="40.0" cy="41.3" r="1.60" fill="#464630"/><circle cx="36.3" cy="44.7" r="1.28" fill="#56503A"/><circle cx="44.5" cy="43.1" r="1.48" fill="#464630"/><circle cx="35.3" cy="40.6" r="1.56" fill="#4A5A30"/><circle cx="36.8" cy="48.7" r="1.82" fill="#4E4A34"/><circle cx="32.0" cy="43.7" r="1.35" fill="#4A5A30"/><circle cx="32.4" cy="42.3" r="1.43" fill="#4A5A30"/><circle cx="40.2" cy="45.1" r="1.43" fill="#4A5A30"/><circle cx="45.3" cy="41.7" r="1.40" fill="#56503A"/><circle cx="36.7" cy="48.9" r="1.74" fill="#4E4A34"/><circle cx="46.5" cy="49.1" r="1.11" fill="#4A5A30"/><circle cx="37.8" cy="43.0" r="1.33" fill="#4A5A30"/><circle cx="37.5" cy="47.2" r="1.35" fill="#4E4A34"/><circle cx="38.9" cy="39.3" r="1.73" fill="#56503A"/><circle cx="40.0" cy="48.8" r="1.27" fill="#4A5A30"/><circle cx="33.3" cy="48.0" r="1.19" fill="#4E4A34"/><circle cx="31.9" cy="49.2" r="1.55" fill="#4A5A30"/><circle cx="31.8" cy="48.9" r="1.74" fill="#4E4A34"/><circle cx="44.2" cy="47.3" r="1.58" fill="#5A4E3C"/><circle cx="39.4" cy="46.6" r="1.30" fill="#4A5A30"/><circle cx="38.8" cy="42.9" r="1.83" fill="#56503A"/><circle cx="36.8" cy="40.7" r="1.22" fill="#56503A"/><circle cx="38.5" cy="42.4" r="1.87" fill="#56503A"/><circle cx="41.9" cy="40.1" r="1.18" fill="#5A4E3C"/><circle cx="41.3" cy="48.8" r="1.84" fill="#4A5A30"/><circle cx="47.7" cy="45.0" r="1.48" fill="#464630"/><circle cx="45.8" cy="48.4" r="1.85" fill="#56503A"/><circle cx="44.9" cy="46.9" r="1.28" fill="#56503A"/><circle cx="35.7" cy="44.0" r="1.60" fill="#5A4E3C"/><circle cx="35.1" cy="42.3" r="1.29" fill="#4A5A30"/><circle cx="40.4" cy="49.3" r="1.29" fill="#5A4E3C"/><circle cx="40.7" cy="49.2" r="1.39" fill="#56503A"/><circle cx="44.5" cy="49.2" r="1.73" fill="#4A5A30"/><circle cx="36.7" cy="39.5" r="1.46" fill="#4A5A30"/><circle cx="37.1" cy="43.7" r="1.55" fill="#56503A"/><circle cx="31.5" cy="47.4" r="1.72" fill="#5A4E3C"/><circle cx="45.1" cy="45.2" r="1.39" fill="#56503A"/>
<polygon points="62.0,46.0 62.5,41.0 65.0,39.0 68.0,40.0 70.0,43.0 69.0,46.0" fill="#33602C"/><circle cx="65.0" cy="45.5" r="1.51" fill="#2F5A28"/><circle cx="65.8" cy="45.0" r="1.45" fill="#2F5A28"/><circle cx="64.4" cy="42.0" r="1.35" fill="#2F5A28"/><circle cx="66.6" cy="44.1" r="1.12" fill="#386630"/><circle cx="64.9" cy="42.3" r="1.06" fill="#2F5A28"/><circle cx="66.8" cy="41.5" r="1.21" fill="#2F5A28"/><circle cx="65.2" cy="39.5" r="1.38" fill="#2F5A28"/><circle cx="66.3" cy="39.5" r="1.35" fill="#386630"/><circle cx="68.9" cy="42.1" r="1.48" fill="#386630"/><circle cx="65.5" cy="44.7" r="1.30" fill="#2F5A28"/><circle cx="68.5" cy="43.4" r="1.27" fill="#386630"/><circle cx="66.6" cy="45.6" r="1.50" fill="#2F5A28"/><circle cx="62.7" cy="43.8" r="1.53" fill="#2F5A28"/><circle cx="63.8" cy="40.0" r="1.57" fill="#386630"/><circle cx="63.7" cy="43.4" r="1.54" fill="#386630"/><circle cx="65.0" cy="41.5" r="1.30" fill="#386630"/>
<polygon points="111.5,35.0 111.5,31.0 113.5,28.3 116.5,27.3 119.5,28.5 121.5,32.0 121.0,35.0" fill="#5A7A40"/><circle cx="119.0" cy="28.9" r="1.04" fill="#4E6E38"/><circle cx="116.9" cy="28.3" r="1.57" fill="#6A8A4C"/><circle cx="111.9" cy="32.6" r="1.25" fill="#4E6E38"/><circle cx="115.8" cy="29.2" r="1.42" fill="#4E6E38"/><circle cx="119.9" cy="33.4" r="1.58" fill="#5A7A40"/><circle cx="118.2" cy="33.9" r="1.00" fill="#5A7A40"/><circle cx="117.5" cy="33.8" r="1.57" fill="#6A8A4C"/><circle cx="113.9" cy="31.8" r="0.92" fill="#4E6E38"/><circle cx="114.4" cy="31.5" r="0.99" fill="#5A7A40"/><circle cx="117.9" cy="30.9" r="1.36" fill="#6A8A4C"/><circle cx="119.7" cy="33.9" r="1.20" fill="#4E6E38"/><circle cx="113.5" cy="34.1" r="1.08" fill="#4E6E38"/><circle cx="115.3" cy="30.6" r="1.26" fill="#5A7A40"/><circle cx="117.0" cy="33.3" r="0.93" fill="#5A7A40"/><circle cx="115.2" cy="33.3" r="1.59" fill="#5A7A40"/><circle cx="120.0" cy="29.8" r="1.19" fill="#5A7A40"/><circle cx="120.9" cy="32.7" r="1.31" fill="#5A7A40"/><circle cx="115.0" cy="32.5" r="1.46" fill="#5A7A40"/><circle cx="118.3" cy="29.4" r="1.52" fill="#4E6E38"/><circle cx="119.3" cy="34.3" r="1.39" fill="#6A8A4C"/><circle cx="116.7" cy="31.9" r="1.40" fill="#5A7A40"/><circle cx="112.6" cy="34.7" r="1.56" fill="#4E6E38"/><circle cx="116.3" cy="31.8" r="1.47" fill="#5A7A40"/><circle cx="118.4" cy="33.5" r="0.93" fill="#6A8A4C"/><circle cx="113.1" cy="29.5" r="1.53" fill="#5A7A40"/><circle cx="111.7" cy="32.5" r="1.20" fill="#5A7A40"/><circle cx="119.6" cy="29.4" r="1.47" fill="#6A8A4C"/><circle cx="118.0" cy="31.5" r="1.18" fill="#5A7A40"/><circle cx="113.9" cy="29.1" r="1.49" fill="#4E6E38"/><circle cx="119.6" cy="32.7" r="1.26" fill="#4E6E38"/>
<rect x="116.2" y="33" width="1.2" height="5" fill="#4A4A30"/>
<polygon points="-2.0,58.0 -2.0,51.0 6.0,50.0 14.0,52.0 24.0,51.0 34.0,50.5 46.0,51.0 54.0,52.5 48.0,57.0 30.0,58.0" fill="#2F5E26"/><circle cx="34.3" cy="55.6" r="1.77" fill="#2F5E26"/><circle cx="2.1" cy="52.0" r="1.43" fill="#3A6A2C"/><circle cx="18.9" cy="56.5" r="1.15" fill="#2F5E26"/><circle cx="49.4" cy="54.6" r="1.06" fill="#3A6A2C"/><circle cx="41.4" cy="55.9" r="1.53" fill="#3A6A2C"/><circle cx="-1.3" cy="57.8" r="1.51" fill="#3A6A2C"/><circle cx="5.7" cy="57.5" r="1.49" fill="#2F5E26"/><circle cx="37.4" cy="54.2" r="1.08" fill="#3A6A2C"/><circle cx="40.1" cy="57.3" r="1.64" fill="#2F5E26"/><circle cx="41.4" cy="54.2" r="1.14" fill="#28521F"/><circle cx="6.5" cy="54.3" r="1.04" fill="#28521F"/><circle cx="-1.2" cy="56.2" r="1.28" fill="#28521F"/><circle cx="6.8" cy="52.1" r="1.39" fill="#28521F"/><circle cx="1.4" cy="52.0" r="1.17" fill="#28521F"/><circle cx="12.2" cy="54.4" r="1.55" fill="#3A6A2C"/><circle cx="23.6" cy="52.3" r="1.09" fill="#2F5E26"/><circle cx="48.8" cy="51.7" r="1.62" fill="#28521F"/><circle cx="28.4" cy="57.7" r="1.10" fill="#28521F"/><circle cx="1.2" cy="56.4" r="1.24" fill="#28521F"/><circle cx="21.7" cy="56.0" r="1.59" fill="#2F5E26"/><circle cx="48.2" cy="56.8" r="1.59" fill="#28521F"/><circle cx="8.7" cy="53.0" r="1.79" fill="#28521F"/><circle cx="16.4" cy="53.1" r="1.70" fill="#3A6A2C"/><circle cx="1.5" cy="50.6" r="1.19" fill="#3A6A2C"/><circle cx="31.9" cy="53.8" r="1.19" fill="#3A6A2C"/><circle cx="25.5" cy="52.5" r="1.37" fill="#3A6A2C"/><circle cx="43.1" cy="55.4" r="1.41" fill="#2F5E26"/><circle cx="38.2" cy="52.7" r="1.45" fill="#2F5E26"/><circle cx="32.1" cy="54.9" r="1.06" fill="#3A6A2C"/><circle cx="3.8" cy="57.1" r="1.30" fill="#2F5E26"/><circle cx="7.3" cy="54.4" r="1.57" fill="#2F5E26"/><circle cx="8.5" cy="53.6" r="1.04" fill="#28521F"/><circle cx="27.2" cy="56.8" r="1.48" fill="#2F5E26"/><circle cx="13.7" cy="54.3" r="1.08" fill="#28521F"/><circle cx="28.6" cy="56.1" r="1.29" fill="#28521F"/><circle cx="26.1" cy="53.1" r="1.15" fill="#2F5E26"/><circle cx="17.6" cy="54.2" r="1.58" fill="#3A6A2C"/><circle cx="31.3" cy="54.7" r="1.59" fill="#2F5E26"/><circle cx="37.0" cy="55.1" r="1.04" fill="#28521F"/><circle cx="23.1" cy="55.3" r="1.11" fill="#28521F"/><circle cx="30.1" cy="53.9" r="1.78" fill="#3A6A2C"/><circle cx="19.4" cy="52.7" r="1.79" fill="#2F5E26"/><circle cx="26.0" cy="52.9" r="1.39" fill="#3A6A2C"/><circle cx="42.7" cy="51.5" r="1.64" fill="#2F5E26"/><circle cx="29.1" cy="51.9" r="1.58" fill="#2F5E26"/><circle cx="15.3" cy="52.4" r="1.13" fill="#3A6A2C"/><circle cx="25.4" cy="53.4" r="1.02" fill="#2F5E26"/><circle cx="4.1" cy="53.7" r="1.03" fill="#2F5E26"/><circle cx="23.0" cy="51.9" r="1.21" fill="#2F5E26"/><circle cx="4.2" cy="56.2" r="1.24" fill="#28521F"/><circle cx="29.7" cy="53.5" r="1.50" fill="#3A6A2C"/><circle cx="7.7" cy="50.4" r="1.37" fill="#28521F"/><circle cx="4.9" cy="56.2" r="1.77" fill="#28521F"/><circle cx="48.1" cy="55.5" r="1.12" fill="#28521F"/><circle cx="40.4" cy="55.9" r="1.02" fill="#28521F"/><circle cx="12.4" cy="52.7" r="1.00" fill="#28521F"/><circle cx="8.0" cy="54.9" r="1.71" fill="#2F5E26"/><circle cx="-0.9" cy="52.3" r="1.66" fill="#28521F"/><circle cx="51.7" cy="53.0" r="1.47" fill="#3A6A2C"/><circle cx="34.2" cy="52.6" r="1.27" fill="#3A6A2C"/>
<circle cx="9.0" cy="47.1" r="1.08" fill="#3A4A2C"/><circle cx="10.6" cy="47.3" r="1.09" fill="#2F4E26"/><circle cx="12.0" cy="49.0" r="1.41" fill="#3A4A2C"/><circle cx="9.1" cy="51.5" r="1.27" fill="#2F4E26"/><circle cx="9.3" cy="47.6" r="1.31" fill="#3A4A2C"/><circle cx="10.3" cy="49.5" r="1.53" fill="#2F4E26"/><circle cx="10.6" cy="50.8" r="1.22" fill="#3A4A2C"/><circle cx="11.0" cy="51.0" r="1.23" fill="#2F4E26"/><circle cx="5.3" cy="47.9" r="1.35" fill="#3A4A2C"/><circle cx="3.6" cy="51.8" r="1.22" fill="#3A4A2C"/>
</g>
</g></svg>
<svg class="ph" style="left:633px;top:312.5px" width="162" height="121" viewBox="0 0 162 121">
<defs>
<linearGradient id="p3sky" x1="0" y1="0" x2="1" y2="0"><stop offset="0" stop-color="#FFFFFF"/><stop offset="0.5" stop-color="#FAFBFC"/><stop offset="0.65" stop-color="#DDE3EB"/><stop offset="0.82" stop-color="#C0CAD9"/><stop offset="1" stop-color="#A9B6CA"/></linearGradient>
<linearGradient id="p3fade" x1="0" y1="0" x2="0" y2="1"><stop offset="0" stop-color="#FFFFFF" stop-opacity="0.35"/><stop offset="0.45" stop-color="#FFFFFF" stop-opacity="0"/><stop offset="0.8" stop-color="#FFFFFF" stop-opacity="0.2"/><stop offset="1" stop-color="#FFFFFF" stop-opacity="0.8"/></linearGradient>
<linearGradient id="p3grass" x1="0" y1="0" x2="0" y2="1"><stop offset="0" stop-color="#5E7A2A"/><stop offset="0.5" stop-color="#587E2C"/><stop offset="1" stop-color="#648C38"/></linearGradient>
<clipPath id="p3c"><rect width="162" height="121"/></clipPath>
</defs>
<g clip-path="url(#p3c)">
<rect width="162" height="35" fill="url(#p3sky)"/>
<g filter="url(#b2)"><ellipse cx="138" cy="7" rx="24" ry="4.5" fill="#D4DBE6" opacity="0.9"/><ellipse cx="130" cy="21" rx="30" ry="6" fill="#A3B0C6" opacity="0.5"/></g>
<rect width="162" height="30" fill="url(#p3fade)"/>
<rect y="29.5" width="162" height="92" fill="url(#p3grass)"/>
<g filter="url(#b2)"><polygon points="80,51 110,58 162,63 162,76 140,74 110,70 92,64" fill="#425822" opacity="0.8"/><ellipse cx="135" cy="100" rx="34" ry="20" fill="#6E9642" opacity="0.75"/><ellipse cx="40" cy="64" rx="10" ry="18" fill="#4E8428" opacity="0.8" transform="rotate(-25 40 64)"/><ellipse cx="58" cy="102" rx="20" ry="10" fill="#4E842C" opacity="0.7"/></g>
<g filter="url(#b05)"><polygon points="0,29.4 40,29.9 100,30.6 162,31.4 162,47.5 140,46.2 120,44.8 100,43.4 83,42 60,38.8 40,35.6 20,32.4 0,30.6" fill="#E8D81C"/></g>
<g filter="url(#b1)"><polygon points="162,46.5 140,45.2 120,43.8 100,42.4 83,41 60,37.8 40,34.8 20,31.8 40,36.6 60,40.6 83,45 100,47.6 120,50 140,52 162,53.5" fill="#D2CC24" opacity="0.9"/><polygon points="162,51 140,49.6 120,47.6 100,45.3 83,42.8 60,38.8 40,35.4 60,41.6 83,47.5 100,51 120,54 140,56.5 162,58.5" fill="#96A42C" opacity="0.75"/></g>
<g filter="url(#b2)"><polygon points="36,35 60,38 84,42 84,58 66,54 48,44" fill="#8E9C30" opacity="0.7"/></g>
<g filter="url(#b05)"><polygon points="0,28.8 162,30.5 162,31.4 0,29.7" fill="#8A937A" opacity="0.6"/><rect x="10" y="27.2" width="7.5" height="2" fill="#9AA08E" opacity="0.8"/><polygon points="120,29.6 158,30 158,31.5 120,31" fill="#667056" opacity="0.8"/></g>
<g filter="url(#b1)"><polygon points="17,33 25,33.5 40,46 54,60 66,72 70,80 58,78 46,64 32,48" fill="#6A5A3A" opacity="0.85"/><polygon points="60,64 78,66 98,70 104,80 100,86 84,84 72,78" fill="#7A6A58" opacity="0.85"/><polygon points="80,84 100,86 106,96 100,108 90,110 88,98" fill="#4A3E2C" opacity="0.9"/><polygon points="90,94 100,92 102,104 94,108" fill="#94744C" opacity="0.9"/></g>
<g filter="url(#b05)"><polygon points="141,65 144,66.5 128,79 110,91 108,89 124,78" fill="#94805A" opacity="0.9"/></g>
<polygon points="0,33 40,37.5 83,47 162,57 162,121 0,121" filter="url(#grassDo)" opacity="0.42"/>
<rect y="34" width="162" height="87" filter="url(#grassLo)" opacity="0.32"/>
<rect y="30" width="162" height="24" filter="url(#grassD)" opacity="0.14"/>
<g filter="url(#b1)"><polygon points="0,32 12,32.3 20.5,46.5 28.5,67 31,80 34,90 39,94 32,97.5 24,106 20.5,110 17.5,121 0,121" fill="#46362F"/><polygon points="0,98 26,94 39,94 32,98 24,106 20,112 17.5,121 0,121" fill="#5C4A42" opacity="0.7"/></g>
<polygon points="0,32 12,32.3 20.5,46.5 28.5,67 31,80 34,90 39,94 32,97.5 24,106 20.5,110 17.5,121 0,121" filter="url(#soilD)" opacity="0.6"/>
<polygon points="0,32 12,32.3 20.5,46.5 28.5,67 31,80 34,90 39,94 32,97.5 24,106 20.5,110 17.5,121 0,121" filter="url(#soilL)" opacity="0.22"/>
</g></svg>
<svg class="ph" style="left:634px;top:435px" width="162" height="120.5" viewBox="0 0 162 120.5">
<defs>
<linearGradient id="p4sky" x1="0" y1="0" x2="0" y2="1"><stop offset="0" stop-color="#5290E6"/><stop offset="0.3" stop-color="#66A2EA"/><stop offset="0.58" stop-color="#9CC4F2"/><stop offset="1" stop-color="#C8DEF7"/></linearGradient>
<linearGradient id="p4grass" x1="0" y1="0" x2="0" y2="1"><stop offset="0" stop-color="#6EB434"/><stop offset="0.5" stop-color="#64AE2E"/><stop offset="1" stop-color="#5CA82C"/></linearGradient>
<clipPath id="p4c"><rect width="162" height="120.5"/></clipPath>
</defs>
<g clip-path="url(#p4c)">
<rect width="162" height="62" fill="url(#p4sky)"/>
<g filter="url(#b05)" fill="#FFFFFF">
<ellipse cx="10" cy="24" rx="11" ry="3" opacity="0.9"/>
<ellipse cx="5" cy="27.5" rx="6" ry="1.8" opacity="0.8"/>
<ellipse cx="24" cy="29.5" rx="2.6" ry="1.1" opacity="0.8"/>
<ellipse cx="33" cy="27.3" rx="6.5" ry="1.4" opacity="0.8"/>
<ellipse cx="50" cy="28.3" rx="6" ry="1.4" opacity="0.85"/>
<ellipse cx="54" cy="29.5" rx="4" ry="1.4" opacity="0.9"/>
<ellipse cx="44" cy="31.5" rx="3.5" ry="1" opacity="0.8"/>
<ellipse cx="60" cy="27" rx="2.5" ry="0.9" opacity="0.6"/>
<ellipse cx="69" cy="41.5" rx="4.5" ry="2.6" opacity="0.9"/>
<ellipse cx="99" cy="31.5" rx="9" ry="2.4" opacity="0.9"/>
<ellipse cx="132" cy="21" rx="10" ry="5.5" opacity="0.9"/>
<ellipse cx="141" cy="15" rx="5" ry="2.5" opacity="0.7"/>
<ellipse cx="122" cy="30" rx="6" ry="3" opacity="0.6"/>
<ellipse cx="150" cy="30" rx="5" ry="4" opacity="0.6"/>
</g>
<g filter="url(#b1)"><polygon points="66,0 162,0 162,46 150,43 140,45 128,41 118,43 108,39 100,41 92,37 85,38 80,30 75,20 70,10" filter="url(#canD)"/></g>
<polygon points="66,0 162,0 162,46 150,43 140,45 128,41 118,43 108,39 100,41 92,37 85,38 80,30 75,20 70,10" filter="url(#canD)" opacity="0.9"/>
<polygon points="72,0 162,0 162,44 140,42 120,40 100,38 88,34 80,22" filter="url(#canL)" opacity="0.85"/>
<g filter="url(#b2)"><ellipse cx="152" cy="14" rx="12" ry="18" fill="#5E7634" opacity="0.4"/><ellipse cx="98" cy="5" rx="18" ry="7" fill="#34402A" opacity="0.4"/></g>
<g filter="url(#b05)" stroke="#27303E" stroke-linecap="round" fill="none" opacity="0.62">
<path d="M2.0,5.9 l1.5,1.6" stroke-width="0.86"/>
<path d="M13.3,4.8 l0.8,3.4" stroke-width="0.90"/>
<path d="M20.1,6.2 l1.4,3.4" stroke-width="0.95"/>
<path d="M6.5,0.7 l3.0,3.4" stroke-width="0.75"/>
<path d="M10.3,-0.9 l1.2,4.6" stroke-width="0.83"/>
<path d="M7.6,-0.8 l0.6,3.4" stroke-width="0.96"/>
<path d="M25.7,5.7 l4.0,4.5" stroke-width="0.97"/>
<path d="M36.2,1.9 l3.2,5.1" stroke-width="0.90"/>
<path d="M9.6,1.7 l4.2,5.5" stroke-width="0.64"/>
<path d="M9.9,7.0 l2.2,2.1" stroke-width="0.71"/>
<path d="M19.0,-1.3 l4.4,5.0" stroke-width="0.81"/>
<path d="M42.4,5.5 l1.5,7.9" stroke-width="0.91"/>
<path d="M23.4,6.2 l0.9,4.5" stroke-width="0.78"/>
<path d="M30.7,1.0 l1.2,2.8" stroke-width="1.09"/>
<path d="M17.7,2.3 l0.9,5.2" stroke-width="0.64"/>
<path d="M16.9,9.0 l1.7,3.5" stroke-width="0.63"/>
<path d="M35.5,-0.0 l1.5,2.8" stroke-width="0.96"/>
<path d="M34.5,8.4 l2.8,3.1" stroke-width="0.81"/>
<path d="M32.4,3.9 l2.7,5.4" stroke-width="0.81"/>
<path d="M40.0,2.5 l2.3,4.8" stroke-width="1.09"/>
<path d="M40.1,2.3 l2.4,4.1" stroke-width="0.57"/>
<path d="M17.4,7.4 l1.9,4.1" stroke-width="0.59"/>
<path d="M39.6,5.2 l1.4,2.1" stroke-width="0.92"/>
<path d="M38.8,4.3 l1.3,2.8" stroke-width="0.52"/>
<path d="M4.5,2.8 l2.9,4.7" stroke-width="0.57"/>
<path d="M20.5,8.9 l1.1,4.1" stroke-width="0.50"/>
<path d="M20.9,-1.2 l3.4,4.6" stroke-width="1.04"/>
<path d="M35.3,2.9 l1.5,1.8" stroke-width="1.08"/>
<path d="M20.3,10.7 l3.8,5.5" stroke-width="0.91"/>
<path d="M22.6,6.4 l2.0,3.8" stroke-width="1.09"/>
<path d="M30.9,4.6 l2.2,4.0" stroke-width="0.77"/>
<path d="M29.1,6.1 l1.9,6.9" stroke-width="0.60"/>
<path d="M32.5,5.3 l1.5,5.2" stroke-width="1.09"/>
<path d="M25.1,2.3 l1.2,2.9" stroke-width="0.63"/>
<path d="M23.4,11.7 l4.0,4.8" stroke-width="0.62"/>
<path d="M26.0,0.7 l1.8,2.5" stroke-width="0.79"/>
<path d="M21.3,2.0 l1.3,2.9" stroke-width="0.60"/>
<path d="M10.3,14.2 l4.7,4.4" stroke-width="1.00"/>
<path d="M29.2,10.2 l3.1,4.9" stroke-width="0.82"/>
<path d="M22.7,8.3 l2.1,4.8" stroke-width="0.99"/>
<path d="M27.9,5.7 l3.3,6.1" stroke-width="0.66"/>
<path d="M4.5,8.5 l1.2,4.4" stroke-width="0.78"/>
<path d="M3.7,5.4 l1.7,6.3" stroke-width="0.91"/>
<path d="M2.3,12.5 l1.8,6.0" stroke-width="0.81"/>
<path d="M42.0,3.6 l1.1,5.8" stroke-width="0.84"/>
<path d="M31.2,6.9 l2.3,7.4" stroke-width="0.66"/>
<path d="M5.7,16.6 l2.0,3.9" stroke-width="0.7"/>
<path d="M15.4,25.0 l1.6,3.1" stroke-width="0.7"/>
<path d="M16.5,21.7 l1.2,2.3" stroke-width="0.7"/>
<path d="M13.8,25.9 l1.1,2.1" stroke-width="0.7"/>
<path d="M15.7,18.6 l1.9,3.9" stroke-width="0.7"/>
<path d="M1.5,23.5 l2.0,4.0" stroke-width="0.7"/>
<path d="M3.6,19.4 l2.3,4.6" stroke-width="0.7"/>
<path d="M11.8,18.4 l1.3,2.6" stroke-width="0.7"/>
<path d="M19.3,14.2 l2.5,4.9" stroke-width="0.7"/>
<path d="M13.1,17.8 l1.4,2.7" stroke-width="0.7"/>
<path d="M-1,3 C10,1 22,4 34,2 S44,6 46,9" stroke-width="0.9"/><path d="M-1,12 C8,13 14,17 20,20" stroke-width="0.8"/>
</g>
<rect y="48" width="162" height="50" fill="#4A8A2A"/>
<g filter="url(#rough)">
<polygon points="-2.0,66.0 -2.0,36.0 3.0,32.0 8.0,34.0 12.0,40.0 13.0,66.0" fill="#346026"/><circle cx="-1.4" cy="55.7" r="1.57" fill="#325A26"/><circle cx="3.5" cy="55.7" r="1.52" fill="#325A26"/><circle cx="7.1" cy="49.5" r="2.09" fill="#325A26"/><circle cx="3.9" cy="34.0" r="1.53" fill="#386426"/><circle cx="3.6" cy="35.3" r="2.01" fill="#325A26"/><circle cx="-0.1" cy="45.2" r="2.57" fill="#44742A"/><circle cx="6.6" cy="44.8" r="1.46" fill="#386426"/><circle cx="0.8" cy="34.1" r="1.60" fill="#44742A"/><circle cx="11.3" cy="49.8" r="1.52" fill="#386426"/><circle cx="-0.6" cy="53.2" r="2.34" fill="#44742A"/><circle cx="3.0" cy="54.6" r="1.93" fill="#2B5420"/><circle cx="10.7" cy="58.5" r="1.46" fill="#44742A"/><circle cx="3.5" cy="38.3" r="2.13" fill="#386426"/><circle cx="2.5" cy="62.6" r="2.27" fill="#44742A"/><circle cx="-0.7" cy="36.3" r="1.50" fill="#2B5420"/><circle cx="6.6" cy="42.5" r="2.23" fill="#325A26"/><circle cx="4.6" cy="33.3" r="1.40" fill="#386426"/><circle cx="9.6" cy="59.9" r="2.34" fill="#386426"/><circle cx="8.8" cy="48.9" r="2.52" fill="#325A26"/><circle cx="10.7" cy="61.1" r="1.86" fill="#386426"/><circle cx="-0.6" cy="39.0" r="2.52" fill="#325A26"/><circle cx="0.9" cy="63.8" r="1.88" fill="#325A26"/><circle cx="11.7" cy="43.1" r="1.82" fill="#2B5420"/><circle cx="6.1" cy="58.6" r="1.63" fill="#386426"/><circle cx="8.0" cy="64.6" r="1.67" fill="#2B5420"/><circle cx="9.6" cy="65.3" r="2.39" fill="#325A26"/><circle cx="1.4" cy="47.6" r="1.47" fill="#386426"/><circle cx="-1.6" cy="61.3" r="2.42" fill="#386426"/><circle cx="6.7" cy="41.0" r="1.56" fill="#325A26"/><circle cx="8.5" cy="36.2" r="2.15" fill="#2B5420"/><circle cx="3.7" cy="35.6" r="1.62" fill="#386426"/><circle cx="2.9" cy="40.9" r="1.56" fill="#2B5420"/><circle cx="8.4" cy="38.8" r="1.45" fill="#44742A"/><circle cx="5.2" cy="63.8" r="2.40" fill="#386426"/><circle cx="5.2" cy="43.5" r="1.78" fill="#386426"/><circle cx="8.9" cy="48.2" r="2.17" fill="#44742A"/><circle cx="6.5" cy="47.1" r="2.27" fill="#325A26"/><circle cx="2.6" cy="64.8" r="2.30" fill="#325A26"/><circle cx="10.7" cy="52.7" r="2.27" fill="#386426"/><circle cx="1.2" cy="63.6" r="2.17" fill="#2B5420"/><circle cx="-0.4" cy="62.0" r="2.24" fill="#2B5420"/><circle cx="0.8" cy="38.7" r="2.35" fill="#386426"/><circle cx="1.8" cy="48.5" r="1.95" fill="#44742A"/><circle cx="-1.0" cy="47.6" r="2.23" fill="#325A26"/><circle cx="0.1" cy="59.3" r="1.83" fill="#44742A"/><circle cx="-0.5" cy="45.2" r="2.59" fill="#44742A"/><circle cx="2.6" cy="59.1" r="1.68" fill="#325A26"/><circle cx="0.7" cy="42.2" r="1.92" fill="#44742A"/><circle cx="5.9" cy="33.7" r="1.62" fill="#2B5420"/><circle cx="9.8" cy="39.3" r="1.61" fill="#2B5420"/><circle cx="1.9" cy="49.0" r="2.50" fill="#2B5420"/><circle cx="-0.4" cy="57.4" r="1.84" fill="#386426"/><circle cx="10.5" cy="42.5" r="2.31" fill="#44742A"/><circle cx="-0.6" cy="51.4" r="2.02" fill="#386426"/><circle cx="3.6" cy="46.9" r="1.95" fill="#325A26"/><circle cx="6.1" cy="64.4" r="1.41" fill="#325A26"/><circle cx="5.2" cy="34.6" r="1.53" fill="#2B5420"/><circle cx="4.7" cy="35.0" r="2.21" fill="#325A26"/><circle cx="5.2" cy="64.3" r="1.83" fill="#386426"/><circle cx="2.0" cy="63.3" r="1.51" fill="#44742A"/><circle cx="0.8" cy="53.4" r="1.65" fill="#386426"/><circle cx="4.2" cy="34.0" r="2.16" fill="#386426"/><circle cx="1.3" cy="35.5" r="1.64" fill="#2B5420"/><circle cx="1.7" cy="58.3" r="1.45" fill="#386426"/><circle cx="7.2" cy="49.1" r="2.42" fill="#2B5420"/><circle cx="1.9" cy="45.5" r="1.62" fill="#2B5420"/><circle cx="7.4" cy="42.9" r="2.36" fill="#325A26"/><circle cx="12.2" cy="56.0" r="1.89" fill="#44742A"/><circle cx="4.9" cy="52.1" r="1.64" fill="#325A26"/><circle cx="7.5" cy="63.0" r="2.39" fill="#2B5420"/>
<polygon points="11.0,66.0 11.0,44.0 16.0,40.0 24.0,39.0 30.0,42.0 31.0,66.0" fill="#3E7224"/><circle cx="19.2" cy="53.6" r="2.43" fill="#3A6C22"/><circle cx="18.6" cy="46.8" r="1.67" fill="#447A26"/><circle cx="13.0" cy="59.9" r="2.23" fill="#4E882A"/><circle cx="24.9" cy="49.2" r="1.89" fill="#4E882A"/><circle cx="18.2" cy="48.1" r="1.74" fill="#3A6C22"/><circle cx="12.9" cy="64.9" r="1.53" fill="#4E882A"/><circle cx="11.7" cy="49.4" r="1.97" fill="#3A6C22"/><circle cx="14.8" cy="46.0" r="1.70" fill="#447A26"/><circle cx="11.9" cy="64.9" r="2.22" fill="#447A26"/><circle cx="25.8" cy="57.8" r="2.41" fill="#4E882A"/><circle cx="18.4" cy="51.7" r="1.94" fill="#3A6C22"/><circle cx="15.7" cy="51.3" r="2.35" fill="#4E882A"/><circle cx="23.3" cy="65.3" r="2.29" fill="#4E882A"/><circle cx="14.1" cy="45.0" r="1.42" fill="#4E882A"/><circle cx="15.0" cy="42.0" r="1.81" fill="#3A6C22"/><circle cx="23.1" cy="40.6" r="1.92" fill="#447A26"/><circle cx="24.5" cy="51.8" r="1.57" fill="#447A26"/><circle cx="23.4" cy="46.9" r="2.17" fill="#4E882A"/><circle cx="12.5" cy="50.8" r="1.61" fill="#3A6C22"/><circle cx="28.2" cy="65.4" r="1.47" fill="#326222"/><circle cx="12.3" cy="52.8" r="2.44" fill="#4E882A"/><circle cx="21.9" cy="52.2" r="1.74" fill="#4E882A"/><circle cx="19.0" cy="47.2" r="2.46" fill="#326222"/><circle cx="12.5" cy="45.8" r="2.53" fill="#3A6C22"/><circle cx="12.5" cy="50.9" r="2.18" fill="#326222"/><circle cx="12.7" cy="63.4" r="2.32" fill="#4E882A"/><circle cx="25.9" cy="52.6" r="1.83" fill="#447A26"/><circle cx="25.0" cy="54.1" r="1.49" fill="#4E882A"/><circle cx="28.3" cy="57.7" r="2.59" fill="#326222"/><circle cx="16.0" cy="45.3" r="2.12" fill="#447A26"/><circle cx="17.4" cy="47.8" r="2.00" fill="#447A26"/><circle cx="12.6" cy="63.6" r="2.53" fill="#326222"/><circle cx="18.6" cy="65.0" r="2.29" fill="#326222"/><circle cx="15.4" cy="43.2" r="1.58" fill="#447A26"/><circle cx="24.9" cy="55.4" r="1.60" fill="#447A26"/><circle cx="21.7" cy="40.4" r="2.46" fill="#326222"/><circle cx="13.6" cy="63.8" r="2.16" fill="#447A26"/><circle cx="17.4" cy="55.0" r="1.78" fill="#4E882A"/><circle cx="11.3" cy="60.5" r="1.54" fill="#447A26"/><circle cx="14.3" cy="43.7" r="1.54" fill="#3A6C22"/><circle cx="28.9" cy="57.8" r="1.73" fill="#326222"/><circle cx="27.5" cy="45.7" r="1.73" fill="#3A6C22"/><circle cx="17.0" cy="59.9" r="2.32" fill="#3A6C22"/><circle cx="24.2" cy="43.6" r="1.61" fill="#326222"/><circle cx="29.3" cy="52.2" r="1.74" fill="#4E882A"/><circle cx="24.8" cy="62.7" r="2.00" fill="#326222"/><circle cx="20.6" cy="42.0" r="2.23" fill="#3A6C22"/><circle cx="16.0" cy="45.1" r="2.47" fill="#3A6C22"/><circle cx="17.9" cy="48.8" r="1.91" fill="#4E882A"/><circle cx="11.7" cy="46.4" r="2.53" fill="#326222"/><circle cx="12.9" cy="45.2" r="2.04" fill="#447A26"/><circle cx="14.5" cy="56.2" r="2.20" fill="#4E882A"/><circle cx="24.2" cy="56.2" r="2.51" fill="#326222"/><circle cx="22.8" cy="46.9" r="2.18" fill="#4E882A"/><circle cx="18.0" cy="40.6" r="2.20" fill="#447A26"/><circle cx="18.7" cy="43.4" r="1.71" fill="#3A6C22"/><circle cx="21.6" cy="48.7" r="2.56" fill="#447A26"/><circle cx="12.1" cy="53.9" r="2.26" fill="#4E882A"/><circle cx="27.7" cy="52.4" r="2.53" fill="#4E882A"/><circle cx="20.0" cy="62.4" r="2.24" fill="#326222"/><circle cx="11.3" cy="58.7" r="2.17" fill="#447A26"/><circle cx="28.8" cy="55.3" r="1.66" fill="#326222"/><circle cx="22.2" cy="40.4" r="1.98" fill="#3A6C22"/><circle cx="13.3" cy="53.2" r="2.50" fill="#3A6C22"/><circle cx="12.9" cy="62.9" r="1.74" fill="#4E882A"/><circle cx="12.7" cy="52.8" r="2.24" fill="#447A26"/><circle cx="17.6" cy="50.4" r="2.24" fill="#326222"/><circle cx="15.9" cy="44.2" r="2.08" fill="#326222"/><circle cx="17.7" cy="61.9" r="2.45" fill="#326222"/><circle cx="17.5" cy="56.1" r="2.05" fill="#4E882A"/><circle cx="26.3" cy="58.3" r="2.19" fill="#4E882A"/><circle cx="17.1" cy="58.8" r="1.75" fill="#3A6C22"/><circle cx="20.1" cy="55.6" r="2.58" fill="#326222"/><circle cx="17.2" cy="53.3" r="2.45" fill="#3A6C22"/><circle cx="17.5" cy="46.4" r="1.43" fill="#447A26"/><circle cx="19.3" cy="51.7" r="2.51" fill="#3A6C22"/><circle cx="23.1" cy="45.3" r="2.04" fill="#3A6C22"/><circle cx="20.7" cy="63.8" r="2.08" fill="#3A6C22"/><circle cx="23.7" cy="62.6" r="2.14" fill="#4E882A"/><circle cx="21.4" cy="49.1" r="1.49" fill="#447A26"/>
<polygon points="28.0,66.0 28.0,40.0 33.0,35.0 40.0,33.5 48.0,33.0 55.0,35.0 60.0,40.0 61.0,66.0" fill="#62884A"/><circle cx="37.0" cy="49.1" r="1.50" fill="#7A9A58"/><circle cx="28.7" cy="49.0" r="1.54" fill="#6A8E4A"/><circle cx="59.6" cy="61.2" r="2.18" fill="#86A466"/><circle cx="30.2" cy="42.0" r="2.48" fill="#5A8040"/><circle cx="35.0" cy="61.0" r="2.26" fill="#6A8E4A"/><circle cx="48.2" cy="37.7" r="1.47" fill="#6A8E4A"/><circle cx="33.7" cy="41.3" r="2.33" fill="#7A9A58"/><circle cx="52.8" cy="43.5" r="1.86" fill="#86A466"/><circle cx="49.8" cy="61.6" r="2.28" fill="#7A9A58"/><circle cx="47.6" cy="35.0" r="2.49" fill="#5A8040"/><circle cx="39.6" cy="53.7" r="1.42" fill="#4E7438"/><circle cx="51.5" cy="47.0" r="1.65" fill="#4E7438"/><circle cx="55.6" cy="37.7" r="1.95" fill="#6A8E4A"/><circle cx="46.5" cy="35.0" r="2.02" fill="#6A8E4A"/><circle cx="48.6" cy="50.9" r="2.16" fill="#7A9A58"/><circle cx="38.5" cy="38.5" r="1.41" fill="#7A9A58"/><circle cx="29.6" cy="64.2" r="1.52" fill="#86A466"/><circle cx="58.2" cy="56.5" r="2.14" fill="#4E7438"/><circle cx="42.5" cy="43.9" r="2.57" fill="#86A466"/><circle cx="59.5" cy="40.4" r="1.43" fill="#6A8E4A"/><circle cx="47.7" cy="41.7" r="1.98" fill="#5A8040"/><circle cx="48.2" cy="58.9" r="2.47" fill="#6A8E4A"/><circle cx="50.9" cy="65.3" r="2.35" fill="#5A8040"/><circle cx="30.7" cy="56.0" r="2.31" fill="#4E7438"/><circle cx="56.3" cy="62.7" r="2.18" fill="#7A9A58"/><circle cx="40.6" cy="46.3" r="1.85" fill="#86A466"/><circle cx="47.5" cy="60.6" r="2.23" fill="#5A8040"/><circle cx="38.6" cy="47.5" r="2.09" fill="#4E7438"/><circle cx="58.4" cy="50.8" r="1.40" fill="#4E7438"/><circle cx="47.5" cy="61.6" r="2.17" fill="#4E7438"/><circle cx="49.5" cy="52.4" r="1.47" fill="#86A466"/><circle cx="35.6" cy="40.4" r="1.46" fill="#86A466"/><circle cx="54.0" cy="51.8" r="1.74" fill="#7A9A58"/><circle cx="59.1" cy="59.5" r="2.41" fill="#4E7438"/><circle cx="47.6" cy="56.7" r="1.89" fill="#4E7438"/><circle cx="52.5" cy="45.5" r="1.45" fill="#5A8040"/><circle cx="40.0" cy="56.0" r="1.50" fill="#86A466"/><circle cx="32.9" cy="43.8" r="1.41" fill="#7A9A58"/><circle cx="52.5" cy="55.1" r="2.11" fill="#4E7438"/><circle cx="48.1" cy="59.3" r="2.41" fill="#86A466"/><circle cx="50.0" cy="53.7" r="2.36" fill="#6A8E4A"/><circle cx="51.9" cy="65.2" r="2.19" fill="#7A9A58"/><circle cx="49.2" cy="59.6" r="2.06" fill="#5A8040"/><circle cx="48.6" cy="57.5" r="1.88" fill="#7A9A58"/><circle cx="40.6" cy="33.6" r="1.55" fill="#86A466"/><circle cx="29.5" cy="49.1" r="2.14" fill="#86A466"/><circle cx="39.2" cy="47.6" r="2.15" fill="#86A466"/><circle cx="36.7" cy="42.0" r="1.41" fill="#4E7438"/><circle cx="45.7" cy="40.8" r="1.52" fill="#5A8040"/><circle cx="49.8" cy="48.1" r="2.32" fill="#4E7438"/><circle cx="47.1" cy="62.3" r="1.82" fill="#86A466"/><circle cx="39.1" cy="64.9" r="2.51" fill="#4E7438"/><circle cx="31.9" cy="65.7" r="2.03" fill="#5A8040"/><circle cx="50.9" cy="46.6" r="1.87" fill="#7A9A58"/><circle cx="48.6" cy="33.8" r="1.45" fill="#5A8040"/><circle cx="47.6" cy="57.6" r="2.00" fill="#4E7438"/><circle cx="39.5" cy="45.1" r="1.81" fill="#7A9A58"/><circle cx="46.9" cy="39.2" r="1.59" fill="#7A9A58"/><circle cx="29.4" cy="63.6" r="2.37" fill="#86A466"/><circle cx="59.8" cy="57.9" r="2.13" fill="#7A9A58"/><circle cx="47.2" cy="42.5" r="1.52" fill="#5A8040"/><circle cx="53.8" cy="60.8" r="1.87" fill="#7A9A58"/><circle cx="37.4" cy="36.4" r="2.40" fill="#4E7438"/><circle cx="40.2" cy="58.2" r="2.53" fill="#4E7438"/><circle cx="51.0" cy="45.6" r="2.01" fill="#4E7438"/><circle cx="32.7" cy="36.1" r="1.54" fill="#6A8E4A"/><circle cx="37.8" cy="35.4" r="1.58" fill="#6A8E4A"/><circle cx="56.7" cy="39.0" r="2.44" fill="#6A8E4A"/><circle cx="52.1" cy="47.3" r="2.31" fill="#86A466"/><circle cx="41.6" cy="63.7" r="2.52" fill="#86A466"/><circle cx="44.6" cy="42.2" r="1.99" fill="#6A8E4A"/><circle cx="38.0" cy="62.6" r="1.90" fill="#4E7438"/><circle cx="45.6" cy="36.7" r="2.12" fill="#4E7438"/><circle cx="54.0" cy="44.2" r="2.24" fill="#7A9A58"/><circle cx="34.4" cy="46.0" r="1.63" fill="#7A9A58"/><circle cx="54.9" cy="37.5" r="2.59" fill="#5A8040"/><circle cx="56.9" cy="37.6" r="2.59" fill="#7A9A58"/><circle cx="43.6" cy="50.7" r="2.38" fill="#7A9A58"/><circle cx="31.5" cy="51.4" r="2.34" fill="#7A9A58"/><circle cx="39.0" cy="64.9" r="1.71" fill="#5A8040"/><circle cx="42.2" cy="40.4" r="1.91" fill="#5A8040"/><circle cx="58.8" cy="57.3" r="2.58" fill="#7A9A58"/><circle cx="50.6" cy="63.6" r="2.50" fill="#6A8E4A"/><circle cx="44.4" cy="50.0" r="1.42" fill="#4E7438"/><circle cx="44.6" cy="44.3" r="2.42" fill="#7A9A58"/><circle cx="56.7" cy="41.6" r="1.51" fill="#5A8040"/><circle cx="44.1" cy="56.7" r="2.08" fill="#5A8040"/><circle cx="50.6" cy="43.0" r="2.26" fill="#5A8040"/><circle cx="47.2" cy="61.3" r="1.59" fill="#5A8040"/><circle cx="44.5" cy="61.7" r="1.68" fill="#7A9A58"/><circle cx="48.1" cy="48.7" r="1.94" fill="#4E7438"/><circle cx="38.0" cy="51.7" r="1.92" fill="#4E7438"/><circle cx="36.7" cy="64.0" r="2.45" fill="#86A466"/><circle cx="52.7" cy="54.0" r="2.46" fill="#5A8040"/><circle cx="38.5" cy="56.8" r="2.55" fill="#86A466"/><circle cx="54.6" cy="54.8" r="1.90" fill="#5A8040"/><circle cx="52.5" cy="47.2" r="2.53" fill="#5A8040"/><circle cx="60.0" cy="64.3" r="2.54" fill="#4E7438"/><circle cx="35.3" cy="36.4" r="2.03" fill="#86A466"/><circle cx="34.3" cy="53.8" r="1.86" fill="#4E7438"/><circle cx="52.8" cy="60.7" r="1.74" fill="#86A466"/><circle cx="50.3" cy="42.1" r="2.41" fill="#5A8040"/><circle cx="51.8" cy="55.5" r="1.82" fill="#5A8040"/><circle cx="57.7" cy="41.5" r="1.79" fill="#86A466"/><circle cx="32.3" cy="42.4" r="1.54" fill="#4E7438"/><circle cx="44.2" cy="36.3" r="2.40" fill="#86A466"/><circle cx="47.4" cy="59.7" r="1.40" fill="#7A9A58"/><circle cx="52.1" cy="40.9" r="1.59" fill="#4E7438"/><circle cx="39.5" cy="56.2" r="1.87" fill="#86A466"/><circle cx="30.3" cy="52.0" r="2.13" fill="#4E7438"/><circle cx="30.8" cy="38.8" r="1.95" fill="#7A9A58"/><circle cx="54.2" cy="59.0" r="1.85" fill="#4E7438"/><circle cx="47.1" cy="44.1" r="2.01" fill="#6A8E4A"/><circle cx="57.1" cy="51.5" r="2.40" fill="#6A8E4A"/><circle cx="44.4" cy="51.0" r="2.09" fill="#5A8040"/><circle cx="45.2" cy="58.4" r="1.76" fill="#86A466"/><circle cx="54.4" cy="43.7" r="2.52" fill="#6A8E4A"/><circle cx="48.9" cy="62.5" r="1.46" fill="#7A9A58"/><circle cx="52.6" cy="61.2" r="1.74" fill="#7A9A58"/><circle cx="39.2" cy="62.6" r="2.11" fill="#7A9A58"/><circle cx="55.5" cy="45.4" r="2.59" fill="#4E7438"/><circle cx="48.5" cy="62.9" r="1.81" fill="#86A466"/><circle cx="49.7" cy="65.3" r="2.26" fill="#86A466"/><circle cx="60.4" cy="53.1" r="1.46" fill="#86A466"/><circle cx="35.3" cy="54.1" r="1.89" fill="#6A8E4A"/><circle cx="56.4" cy="37.5" r="1.69" fill="#7A9A58"/><circle cx="38.7" cy="36.6" r="2.04" fill="#86A466"/><circle cx="59.2" cy="54.8" r="2.30" fill="#4E7438"/><circle cx="57.1" cy="63.9" r="1.57" fill="#5A8040"/><circle cx="46.2" cy="34.8" r="2.16" fill="#4E7438"/><circle cx="44.1" cy="55.6" r="1.59" fill="#4E7438"/><circle cx="45.7" cy="59.3" r="2.00" fill="#4E7438"/><circle cx="55.1" cy="56.7" r="1.58" fill="#86A466"/><circle cx="42.8" cy="41.5" r="2.27" fill="#7A9A58"/><circle cx="41.1" cy="63.2" r="1.44" fill="#86A466"/><circle cx="29.5" cy="60.4" r="1.47" fill="#5A8040"/><circle cx="35.7" cy="60.3" r="2.36" fill="#86A466"/><circle cx="30.0" cy="52.4" r="1.64" fill="#6A8E4A"/><circle cx="54.3" cy="42.7" r="1.67" fill="#7A9A58"/><circle cx="41.3" cy="38.6" r="2.54" fill="#86A466"/><circle cx="36.6" cy="49.6" r="1.83" fill="#6A8E4A"/><circle cx="43.8" cy="35.2" r="1.71" fill="#5A8040"/><circle cx="34.7" cy="45.7" r="1.51" fill="#86A466"/><circle cx="35.2" cy="65.3" r="1.80" fill="#5A8040"/><circle cx="41.3" cy="43.9" r="1.89" fill="#4E7438"/><circle cx="33.5" cy="53.6" r="2.18" fill="#5A8040"/><circle cx="55.5" cy="56.6" r="2.40" fill="#5A8040"/><circle cx="39.4" cy="53.3" r="2.44" fill="#6A8E4A"/><circle cx="46.8" cy="39.0" r="1.76" fill="#86A466"/><circle cx="34.4" cy="35.2" r="2.02" fill="#6A8E4A"/>
<polygon points="57.0,66.0 58.0,44.0 63.0,41.0 70.0,42.0 73.0,46.0 73.0,66.0" fill="#2A3820"/><circle cx="71.2" cy="51.0" r="1.95" fill="#24321E"/><circle cx="67.2" cy="44.8" r="1.89" fill="#2A3A20"/><circle cx="57.5" cy="60.6" r="2.00" fill="#2A3A20"/><circle cx="70.5" cy="44.4" r="2.31" fill="#34482A"/><circle cx="72.5" cy="64.4" r="1.40" fill="#3A2E28"/><circle cx="62.8" cy="52.8" r="2.21" fill="#3A2E28"/><circle cx="69.0" cy="54.6" r="1.42" fill="#24321E"/><circle cx="62.4" cy="52.1" r="2.09" fill="#24321E"/><circle cx="58.7" cy="49.9" r="1.38" fill="#34482A"/><circle cx="64.4" cy="51.2" r="1.72" fill="#34482A"/><circle cx="69.4" cy="46.1" r="1.43" fill="#24321E"/><circle cx="72.9" cy="58.9" r="2.08" fill="#34482A"/><circle cx="58.0" cy="48.1" r="1.43" fill="#24321E"/><circle cx="62.9" cy="59.8" r="1.93" fill="#24321E"/><circle cx="68.5" cy="45.7" r="1.73" fill="#34482A"/><circle cx="68.5" cy="45.6" r="1.63" fill="#2A3A20"/><circle cx="65.3" cy="59.2" r="1.52" fill="#24321E"/><circle cx="62.8" cy="43.1" r="1.73" fill="#24321E"/><circle cx="59.2" cy="50.5" r="2.16" fill="#34482A"/><circle cx="68.6" cy="52.8" r="2.08" fill="#24321E"/><circle cx="69.6" cy="57.5" r="1.72" fill="#3A2E28"/><circle cx="72.6" cy="50.4" r="1.65" fill="#34482A"/><circle cx="57.9" cy="47.2" r="1.73" fill="#34482A"/><circle cx="61.7" cy="42.2" r="1.30" fill="#34482A"/><circle cx="71.6" cy="65.8" r="2.25" fill="#3A2E28"/><circle cx="61.4" cy="42.4" r="2.39" fill="#3A2E28"/><circle cx="71.9" cy="58.8" r="1.67" fill="#3A2E28"/><circle cx="65.8" cy="64.4" r="1.32" fill="#2A3A20"/><circle cx="59.3" cy="61.3" r="1.96" fill="#24321E"/><circle cx="57.3" cy="63.8" r="1.49" fill="#2A3A20"/><circle cx="67.1" cy="50.9" r="1.97" fill="#2A3A20"/><circle cx="66.7" cy="59.5" r="1.32" fill="#24321E"/><circle cx="60.4" cy="49.5" r="1.47" fill="#3A2E28"/><circle cx="72.9" cy="50.7" r="1.47" fill="#2A3A20"/><circle cx="59.9" cy="46.8" r="2.14" fill="#34482A"/><circle cx="72.9" cy="55.8" r="2.25" fill="#2A3A20"/><circle cx="64.8" cy="52.9" r="1.60" fill="#24321E"/><circle cx="67.0" cy="51.4" r="2.17" fill="#3A2E28"/><circle cx="71.9" cy="54.3" r="1.50" fill="#2A3A20"/><circle cx="72.0" cy="51.8" r="1.44" fill="#2A3A20"/><circle cx="69.6" cy="42.1" r="2.19" fill="#2A3A20"/><circle cx="60.0" cy="49.2" r="2.25" fill="#2A3A20"/><circle cx="59.1" cy="55.4" r="1.61" fill="#3A2E28"/><circle cx="61.5" cy="51.8" r="2.37" fill="#24321E"/><circle cx="60.5" cy="48.5" r="1.65" fill="#34482A"/><circle cx="60.3" cy="65.6" r="1.68" fill="#2A3A20"/><circle cx="72.1" cy="58.2" r="2.39" fill="#3A2E28"/><circle cx="67.1" cy="44.9" r="2.35" fill="#2A3A20"/><circle cx="59.2" cy="43.3" r="1.80" fill="#2A3A20"/><circle cx="59.5" cy="60.1" r="1.54" fill="#24321E"/><circle cx="71.0" cy="65.5" r="2.14" fill="#34482A"/><circle cx="58.9" cy="46.9" r="1.82" fill="#24321E"/><circle cx="68.8" cy="55.6" r="1.86" fill="#34482A"/><circle cx="63.3" cy="65.3" r="1.66" fill="#2A3A20"/><circle cx="71.0" cy="56.8" r="1.38" fill="#3A2E28"/><circle cx="59.7" cy="43.0" r="2.24" fill="#24321E"/><circle cx="60.5" cy="59.9" r="2.03" fill="#34482A"/><circle cx="62.6" cy="49.9" r="2.10" fill="#34482A"/><circle cx="58.0" cy="59.7" r="1.67" fill="#3A2E28"/><circle cx="57.3" cy="59.2" r="1.72" fill="#24321E"/>
<polygon points="71.0,66.0 72.0,44.0 78.0,40.0 86.0,39.0 94.0,41.0 97.0,46.0 97.0,66.0" fill="#56942C"/><circle cx="80.1" cy="50.6" r="1.94" fill="#68A834"/><circle cx="77.7" cy="49.4" r="2.14" fill="#447E26"/><circle cx="88.1" cy="64.8" r="1.40" fill="#447E26"/><circle cx="92.2" cy="47.5" r="1.91" fill="#4E8C28"/><circle cx="84.6" cy="48.7" r="2.55" fill="#5A9A2C"/><circle cx="85.6" cy="58.4" r="1.82" fill="#68A834"/><circle cx="85.5" cy="59.6" r="1.69" fill="#5A9A2C"/><circle cx="86.0" cy="52.7" r="2.38" fill="#5A9A2C"/><circle cx="87.9" cy="62.8" r="2.51" fill="#68A834"/><circle cx="76.7" cy="59.1" r="2.33" fill="#68A834"/><circle cx="88.5" cy="46.7" r="2.33" fill="#4E8C28"/><circle cx="92.0" cy="63.9" r="1.83" fill="#5A9A2C"/><circle cx="83.6" cy="54.2" r="1.87" fill="#4E8C28"/><circle cx="86.8" cy="55.9" r="1.65" fill="#447E26"/><circle cx="77.6" cy="55.3" r="2.51" fill="#4E8C28"/><circle cx="82.5" cy="65.5" r="2.06" fill="#5A9A2C"/><circle cx="72.9" cy="52.8" r="2.15" fill="#447E26"/><circle cx="91.3" cy="50.8" r="2.50" fill="#5A9A2C"/><circle cx="86.8" cy="63.3" r="2.13" fill="#447E26"/><circle cx="94.8" cy="56.2" r="2.54" fill="#5A9A2C"/><circle cx="86.0" cy="44.7" r="1.92" fill="#4E8C28"/><circle cx="75.6" cy="63.9" r="1.55" fill="#4E8C28"/><circle cx="90.0" cy="54.4" r="2.03" fill="#5A9A2C"/><circle cx="75.7" cy="52.8" r="1.99" fill="#447E26"/><circle cx="84.7" cy="54.2" r="1.41" fill="#5A9A2C"/><circle cx="75.6" cy="43.1" r="2.05" fill="#5A9A2C"/><circle cx="93.8" cy="45.3" r="1.47" fill="#5A9A2C"/><circle cx="93.9" cy="47.3" r="2.14" fill="#4E8C28"/><circle cx="85.3" cy="59.6" r="2.14" fill="#5A9A2C"/><circle cx="85.6" cy="48.3" r="1.46" fill="#5A9A2C"/><circle cx="81.8" cy="48.6" r="1.76" fill="#447E26"/><circle cx="86.5" cy="40.7" r="2.01" fill="#447E26"/><circle cx="88.0" cy="51.3" r="1.42" fill="#5A9A2C"/><circle cx="91.3" cy="46.8" r="2.25" fill="#5A9A2C"/><circle cx="90.6" cy="48.5" r="1.80" fill="#447E26"/><circle cx="82.9" cy="51.4" r="1.73" fill="#5A9A2C"/><circle cx="88.7" cy="40.1" r="1.72" fill="#447E26"/><circle cx="81.0" cy="58.5" r="1.53" fill="#447E26"/><circle cx="85.0" cy="60.4" r="2.09" fill="#447E26"/><circle cx="91.0" cy="63.2" r="1.65" fill="#5A9A2C"/><circle cx="92.0" cy="49.9" r="1.80" fill="#68A834"/><circle cx="93.1" cy="61.0" r="1.51" fill="#447E26"/><circle cx="80.4" cy="48.4" r="2.44" fill="#447E26"/><circle cx="87.5" cy="46.2" r="1.65" fill="#4E8C28"/><circle cx="83.1" cy="56.9" r="2.38" fill="#68A834"/><circle cx="82.6" cy="59.9" r="1.78" fill="#5A9A2C"/><circle cx="75.0" cy="52.0" r="1.43" fill="#447E26"/><circle cx="84.5" cy="55.6" r="2.43" fill="#68A834"/><circle cx="75.4" cy="48.1" r="1.91" fill="#4E8C28"/><circle cx="84.1" cy="52.9" r="1.78" fill="#5A9A2C"/><circle cx="94.9" cy="57.2" r="1.86" fill="#447E26"/><circle cx="87.0" cy="43.8" r="2.24" fill="#5A9A2C"/><circle cx="75.7" cy="64.1" r="2.15" fill="#447E26"/><circle cx="81.7" cy="45.1" r="1.61" fill="#447E26"/><circle cx="72.9" cy="49.5" r="1.86" fill="#447E26"/><circle cx="87.4" cy="58.7" r="2.01" fill="#5A9A2C"/><circle cx="73.2" cy="50.3" r="2.53" fill="#5A9A2C"/><circle cx="93.1" cy="43.7" r="2.20" fill="#447E26"/><circle cx="82.4" cy="61.4" r="1.87" fill="#68A834"/><circle cx="82.2" cy="63.7" r="1.78" fill="#5A9A2C"/><circle cx="74.4" cy="58.2" r="1.99" fill="#5A9A2C"/><circle cx="77.6" cy="60.4" r="1.51" fill="#5A9A2C"/><circle cx="81.3" cy="65.9" r="2.12" fill="#4E8C28"/><circle cx="84.2" cy="58.3" r="2.32" fill="#68A834"/><circle cx="84.0" cy="42.1" r="2.07" fill="#68A834"/><circle cx="89.7" cy="52.2" r="1.69" fill="#447E26"/><circle cx="71.2" cy="62.6" r="2.13" fill="#68A834"/><circle cx="91.8" cy="41.9" r="1.48" fill="#5A9A2C"/><circle cx="77.2" cy="62.4" r="1.50" fill="#4E8C28"/><circle cx="89.7" cy="41.1" r="1.55" fill="#447E26"/><circle cx="93.4" cy="42.3" r="1.90" fill="#4E8C28"/><circle cx="88.7" cy="48.4" r="1.51" fill="#68A834"/><circle cx="73.6" cy="44.4" r="2.07" fill="#68A834"/><circle cx="79.3" cy="58.3" r="2.53" fill="#447E26"/><circle cx="84.2" cy="54.5" r="2.32" fill="#68A834"/><circle cx="91.7" cy="53.0" r="2.17" fill="#447E26"/><circle cx="88.6" cy="58.6" r="1.43" fill="#68A834"/><circle cx="72.3" cy="64.3" r="2.48" fill="#447E26"/><circle cx="91.1" cy="42.3" r="2.42" fill="#447E26"/><circle cx="90.2" cy="40.6" r="2.57" fill="#4E8C28"/><circle cx="94.8" cy="57.1" r="1.96" fill="#447E26"/><circle cx="89.0" cy="42.2" r="2.51" fill="#4E8C28"/><circle cx="87.3" cy="53.6" r="1.79" fill="#4E8C28"/><circle cx="88.6" cy="59.9" r="1.49" fill="#68A834"/><circle cx="72.1" cy="55.7" r="2.20" fill="#68A834"/><circle cx="80.0" cy="44.2" r="1.66" fill="#68A834"/><circle cx="74.5" cy="65.0" r="2.14" fill="#68A834"/><circle cx="86.7" cy="47.1" r="1.53" fill="#447E26"/><circle cx="80.0" cy="52.4" r="1.71" fill="#447E26"/><circle cx="77.0" cy="49.9" r="2.45" fill="#447E26"/><circle cx="76.0" cy="50.3" r="2.02" fill="#68A834"/><circle cx="89.8" cy="65.8" r="2.15" fill="#68A834"/><circle cx="82.5" cy="61.6" r="2.59" fill="#5A9A2C"/><circle cx="96.3" cy="46.2" r="2.59" fill="#4E8C28"/><circle cx="76.9" cy="50.4" r="2.35" fill="#68A834"/><circle cx="92.2" cy="45.8" r="1.66" fill="#68A834"/><circle cx="83.2" cy="65.0" r="1.80" fill="#5A9A2C"/><circle cx="88.5" cy="54.8" r="1.79" fill="#68A834"/><circle cx="94.3" cy="42.0" r="1.77" fill="#5A9A2C"/><circle cx="86.8" cy="61.2" r="2.41" fill="#5A9A2C"/><circle cx="71.9" cy="54.0" r="1.46" fill="#447E26"/><circle cx="76.0" cy="65.1" r="2.53" fill="#447E26"/><circle cx="84.3" cy="40.0" r="1.48" fill="#68A834"/><circle cx="72.4" cy="63.8" r="1.96" fill="#68A834"/><circle cx="89.7" cy="45.8" r="2.47" fill="#447E26"/><circle cx="80.7" cy="41.7" r="1.85" fill="#4E8C28"/><circle cx="96.4" cy="54.6" r="2.46" fill="#4E8C28"/><circle cx="74.3" cy="45.0" r="1.41" fill="#447E26"/><circle cx="81.8" cy="50.4" r="2.28" fill="#4E8C28"/><circle cx="91.1" cy="59.0" r="2.29" fill="#447E26"/>
<polygon points="95.0,62.0 96.0,42.0 102.0,38.5 110.0,39.0 116.0,43.0 117.0,58.0" fill="#5C9A30"/><circle cx="107.1" cy="41.6" r="2.11" fill="#6EAC38"/><circle cx="112.4" cy="50.4" r="2.11" fill="#4A8628"/><circle cx="98.6" cy="61.2" r="2.27" fill="#62A030"/><circle cx="105.8" cy="43.7" r="2.16" fill="#56942C"/><circle cx="105.4" cy="39.2" r="1.82" fill="#56942C"/><circle cx="106.0" cy="42.3" r="1.53" fill="#6EAC38"/><circle cx="115.6" cy="54.9" r="1.49" fill="#56942C"/><circle cx="101.0" cy="53.7" r="2.34" fill="#6EAC38"/><circle cx="108.9" cy="46.8" r="1.84" fill="#56942C"/><circle cx="103.8" cy="57.7" r="2.18" fill="#6EAC38"/><circle cx="107.6" cy="52.4" r="2.10" fill="#62A030"/><circle cx="105.4" cy="54.1" r="2.18" fill="#62A030"/><circle cx="112.0" cy="56.9" r="1.82" fill="#6EAC38"/><circle cx="110.0" cy="48.0" r="1.83" fill="#6EAC38"/><circle cx="98.4" cy="47.2" r="1.87" fill="#56942C"/><circle cx="98.6" cy="42.1" r="1.68" fill="#4A8628"/><circle cx="107.5" cy="51.4" r="2.32" fill="#4A8628"/><circle cx="111.9" cy="55.3" r="1.41" fill="#4A8628"/><circle cx="106.6" cy="39.5" r="1.49" fill="#62A030"/><circle cx="111.3" cy="54.5" r="1.74" fill="#62A030"/><circle cx="109.3" cy="58.7" r="1.85" fill="#4A8628"/><circle cx="97.1" cy="49.1" r="1.98" fill="#4A8628"/><circle cx="96.6" cy="59.3" r="2.08" fill="#56942C"/><circle cx="113.8" cy="46.8" r="1.79" fill="#4A8628"/><circle cx="95.8" cy="52.9" r="2.15" fill="#4A8628"/><circle cx="109.7" cy="40.5" r="1.63" fill="#4A8628"/><circle cx="102.0" cy="56.6" r="2.05" fill="#62A030"/><circle cx="99.2" cy="41.6" r="1.61" fill="#62A030"/><circle cx="98.0" cy="44.7" r="1.59" fill="#56942C"/><circle cx="108.0" cy="40.5" r="2.22" fill="#62A030"/><circle cx="111.2" cy="53.3" r="1.55" fill="#62A030"/><circle cx="111.7" cy="51.1" r="1.90" fill="#6EAC38"/><circle cx="105.3" cy="54.0" r="2.19" fill="#4A8628"/><circle cx="109.5" cy="48.2" r="1.98" fill="#62A030"/><circle cx="99.4" cy="42.8" r="2.38" fill="#6EAC38"/><circle cx="113.6" cy="48.0" r="1.76" fill="#56942C"/><circle cx="99.7" cy="54.2" r="1.95" fill="#56942C"/><circle cx="110.1" cy="57.0" r="1.45" fill="#56942C"/><circle cx="108.6" cy="47.3" r="1.51" fill="#56942C"/><circle cx="98.3" cy="47.6" r="1.44" fill="#4A8628"/><circle cx="110.8" cy="42.4" r="2.24" fill="#62A030"/><circle cx="109.8" cy="40.3" r="2.16" fill="#56942C"/><circle cx="104.2" cy="59.1" r="1.75" fill="#62A030"/><circle cx="107.6" cy="51.7" r="1.58" fill="#56942C"/><circle cx="110.7" cy="48.2" r="1.99" fill="#6EAC38"/><circle cx="102.9" cy="46.6" r="2.27" fill="#56942C"/><circle cx="111.9" cy="50.3" r="2.20" fill="#56942C"/><circle cx="113.7" cy="54.6" r="2.08" fill="#4A8628"/><circle cx="112.3" cy="51.7" r="2.29" fill="#4A8628"/><circle cx="109.0" cy="59.4" r="1.92" fill="#6EAC38"/><circle cx="105.1" cy="59.4" r="1.51" fill="#6EAC38"/><circle cx="96.4" cy="58.3" r="2.12" fill="#4A8628"/><circle cx="98.9" cy="58.0" r="2.30" fill="#56942C"/><circle cx="96.3" cy="51.4" r="1.40" fill="#6EAC38"/><circle cx="104.1" cy="50.5" r="1.63" fill="#6EAC38"/><circle cx="101.5" cy="42.2" r="2.07" fill="#56942C"/><circle cx="101.9" cy="49.7" r="1.84" fill="#56942C"/><circle cx="115.1" cy="51.3" r="2.00" fill="#6EAC38"/><circle cx="110.4" cy="55.7" r="1.77" fill="#62A030"/><circle cx="105.0" cy="57.8" r="2.07" fill="#4A8628"/><circle cx="97.0" cy="49.5" r="1.53" fill="#6EAC38"/><circle cx="101.2" cy="48.2" r="2.21" fill="#62A030"/><circle cx="114.1" cy="47.2" r="1.48" fill="#56942C"/><circle cx="98.9" cy="47.8" r="2.38" fill="#62A030"/><circle cx="113.1" cy="41.0" r="1.63" fill="#62A030"/><circle cx="105.4" cy="40.1" r="2.19" fill="#56942C"/><circle cx="115.3" cy="50.8" r="1.50" fill="#4A8628"/><circle cx="114.3" cy="48.1" r="2.01" fill="#62A030"/><circle cx="98.2" cy="56.0" r="1.55" fill="#6EAC38"/><circle cx="104.8" cy="56.2" r="2.05" fill="#62A030"/><circle cx="115.7" cy="44.4" r="2.01" fill="#4A8628"/><circle cx="96.9" cy="57.3" r="1.64" fill="#6EAC38"/><circle cx="97.8" cy="48.8" r="1.43" fill="#62A030"/><circle cx="97.6" cy="59.3" r="2.25" fill="#6EAC38"/><circle cx="104.8" cy="50.6" r="1.61" fill="#62A030"/><circle cx="98.5" cy="60.0" r="2.13" fill="#4A8628"/><circle cx="97.7" cy="42.3" r="1.41" fill="#56942C"/><circle cx="114.5" cy="55.6" r="1.62" fill="#4A8628"/><circle cx="111.9" cy="52.4" r="2.03" fill="#56942C"/><circle cx="104.6" cy="56.3" r="1.77" fill="#56942C"/>
<polygon points="128.0,70.0 129.0,44.0 136.0,39.0 146.0,38.0 156.0,40.0 164.0,38.0 164.0,70.0" fill="#668A4A"/><circle cx="130.4" cy="51.2" r="1.53" fill="#8AA86C"/><circle cx="146.4" cy="39.6" r="1.45" fill="#7E9E5E"/><circle cx="133.6" cy="61.5" r="2.16" fill="#8AA86C"/><circle cx="135.9" cy="66.5" r="1.74" fill="#7E9E5E"/><circle cx="142.4" cy="46.0" r="1.57" fill="#507638"/><circle cx="154.2" cy="48.4" r="1.83" fill="#507638"/><circle cx="162.6" cy="57.7" r="1.46" fill="#507638"/><circle cx="152.8" cy="67.1" r="1.65" fill="#6E9050"/><circle cx="148.3" cy="55.3" r="2.04" fill="#5E8244"/><circle cx="145.6" cy="45.1" r="1.71" fill="#507638"/><circle cx="162.6" cy="53.7" r="2.24" fill="#507638"/><circle cx="137.7" cy="67.4" r="2.23" fill="#6E9050"/><circle cx="147.5" cy="42.8" r="1.64" fill="#6E9050"/><circle cx="158.7" cy="68.2" r="1.76" fill="#6E9050"/><circle cx="152.9" cy="50.0" r="2.20" fill="#507638"/><circle cx="158.8" cy="65.0" r="1.97" fill="#507638"/><circle cx="138.7" cy="53.4" r="1.71" fill="#7E9E5E"/><circle cx="162.8" cy="41.3" r="1.89" fill="#507638"/><circle cx="151.4" cy="68.4" r="2.12" fill="#5E8244"/><circle cx="136.8" cy="48.9" r="2.08" fill="#6E9050"/><circle cx="152.1" cy="49.9" r="2.46" fill="#8AA86C"/><circle cx="158.6" cy="41.7" r="2.11" fill="#8AA86C"/><circle cx="163.5" cy="40.6" r="2.34" fill="#7E9E5E"/><circle cx="162.6" cy="59.6" r="2.57" fill="#5E8244"/><circle cx="144.4" cy="41.9" r="2.08" fill="#8AA86C"/><circle cx="132.7" cy="59.1" r="2.13" fill="#7E9E5E"/><circle cx="146.4" cy="49.0" r="2.08" fill="#507638"/><circle cx="162.2" cy="67.3" r="2.18" fill="#8AA86C"/><circle cx="158.8" cy="61.4" r="1.68" fill="#5E8244"/><circle cx="144.2" cy="69.6" r="2.48" fill="#8AA86C"/><circle cx="129.1" cy="51.2" r="2.23" fill="#8AA86C"/><circle cx="137.3" cy="41.7" r="1.66" fill="#6E9050"/><circle cx="159.7" cy="57.0" r="1.58" fill="#507638"/><circle cx="134.2" cy="68.0" r="1.67" fill="#5E8244"/><circle cx="158.9" cy="57.4" r="1.77" fill="#7E9E5E"/><circle cx="161.3" cy="39.5" r="1.91" fill="#6E9050"/><circle cx="143.4" cy="44.4" r="2.23" fill="#7E9E5E"/><circle cx="134.9" cy="52.1" r="2.49" fill="#7E9E5E"/><circle cx="152.2" cy="44.4" r="1.55" fill="#7E9E5E"/><circle cx="136.2" cy="39.2" r="2.27" fill="#7E9E5E"/><circle cx="131.5" cy="68.5" r="2.32" fill="#5E8244"/><circle cx="160.8" cy="65.4" r="1.67" fill="#8AA86C"/><circle cx="137.9" cy="69.2" r="1.56" fill="#7E9E5E"/><circle cx="158.7" cy="41.3" r="1.66" fill="#6E9050"/><circle cx="136.8" cy="48.6" r="1.96" fill="#7E9E5E"/><circle cx="153.4" cy="48.0" r="1.47" fill="#507638"/><circle cx="138.5" cy="40.8" r="1.48" fill="#507638"/><circle cx="136.9" cy="69.4" r="2.26" fill="#5E8244"/><circle cx="128.6" cy="69.6" r="1.44" fill="#8AA86C"/><circle cx="161.3" cy="66.9" r="1.55" fill="#5E8244"/><circle cx="162.6" cy="65.7" r="1.65" fill="#6E9050"/><circle cx="141.5" cy="53.5" r="2.49" fill="#7E9E5E"/><circle cx="136.2" cy="58.4" r="1.76" fill="#5E8244"/><circle cx="150.0" cy="57.2" r="1.42" fill="#5E8244"/><circle cx="160.2" cy="53.8" r="1.53" fill="#8AA86C"/><circle cx="129.8" cy="67.0" r="1.90" fill="#6E9050"/><circle cx="163.4" cy="43.8" r="2.53" fill="#6E9050"/><circle cx="147.3" cy="43.4" r="1.77" fill="#8AA86C"/><circle cx="130.1" cy="59.9" r="2.12" fill="#507638"/><circle cx="160.5" cy="53.5" r="1.73" fill="#8AA86C"/><circle cx="162.9" cy="53.8" r="1.45" fill="#507638"/><circle cx="150.7" cy="53.0" r="2.58" fill="#7E9E5E"/><circle cx="141.1" cy="46.0" r="2.05" fill="#5E8244"/><circle cx="136.3" cy="40.6" r="2.52" fill="#8AA86C"/><circle cx="142.6" cy="45.3" r="2.30" fill="#8AA86C"/><circle cx="128.5" cy="63.1" r="2.20" fill="#7E9E5E"/><circle cx="134.9" cy="44.9" r="1.80" fill="#7E9E5E"/><circle cx="134.6" cy="49.3" r="2.28" fill="#8AA86C"/><circle cx="152.9" cy="61.5" r="1.61" fill="#5E8244"/><circle cx="146.3" cy="62.8" r="2.42" fill="#5E8244"/><circle cx="135.9" cy="55.3" r="1.59" fill="#6E9050"/><circle cx="151.6" cy="46.4" r="1.74" fill="#6E9050"/><circle cx="155.6" cy="60.4" r="2.43" fill="#7E9E5E"/><circle cx="163.8" cy="44.8" r="2.32" fill="#7E9E5E"/><circle cx="130.6" cy="61.9" r="2.04" fill="#5E8244"/><circle cx="153.5" cy="50.1" r="2.29" fill="#507638"/><circle cx="162.0" cy="57.5" r="2.16" fill="#7E9E5E"/><circle cx="155.7" cy="48.3" r="2.06" fill="#8AA86C"/><circle cx="150.1" cy="57.1" r="1.76" fill="#8AA86C"/><circle cx="155.4" cy="59.5" r="1.66" fill="#507638"/><circle cx="140.1" cy="51.1" r="1.49" fill="#7E9E5E"/><circle cx="139.5" cy="41.5" r="1.59" fill="#507638"/><circle cx="129.2" cy="50.0" r="1.92" fill="#7E9E5E"/><circle cx="162.8" cy="59.5" r="1.84" fill="#507638"/><circle cx="131.5" cy="55.3" r="2.14" fill="#7E9E5E"/><circle cx="137.1" cy="59.8" r="1.43" fill="#8AA86C"/><circle cx="156.7" cy="48.5" r="2.49" fill="#507638"/><circle cx="158.2" cy="44.6" r="2.48" fill="#507638"/><circle cx="163.8" cy="44.6" r="1.89" fill="#7E9E5E"/><circle cx="133.5" cy="44.8" r="1.43" fill="#5E8244"/><circle cx="158.5" cy="47.7" r="2.16" fill="#6E9050"/><circle cx="150.1" cy="59.7" r="2.03" fill="#7E9E5E"/><circle cx="139.4" cy="42.6" r="2.38" fill="#507638"/><circle cx="146.0" cy="45.0" r="1.89" fill="#6E9050"/><circle cx="147.2" cy="55.7" r="2.50" fill="#8AA86C"/><circle cx="159.7" cy="59.2" r="1.46" fill="#5E8244"/><circle cx="135.3" cy="47.4" r="1.57" fill="#507638"/><circle cx="128.9" cy="66.4" r="1.53" fill="#5E8244"/><circle cx="148.3" cy="40.8" r="1.80" fill="#6E9050"/><circle cx="155.8" cy="62.0" r="2.55" fill="#8AA86C"/><circle cx="144.0" cy="46.8" r="2.53" fill="#5E8244"/><circle cx="145.3" cy="38.1" r="2.10" fill="#5E8244"/><circle cx="152.2" cy="42.0" r="2.44" fill="#507638"/><circle cx="139.9" cy="62.4" r="2.53" fill="#7E9E5E"/><circle cx="138.4" cy="39.5" r="2.49" fill="#5E8244"/><circle cx="138.7" cy="58.9" r="1.87" fill="#8AA86C"/><circle cx="134.5" cy="54.3" r="1.86" fill="#6E9050"/><circle cx="138.9" cy="64.4" r="2.59" fill="#5E8244"/><circle cx="130.9" cy="59.2" r="2.35" fill="#5E8244"/><circle cx="129.8" cy="45.0" r="2.13" fill="#6E9050"/><circle cx="155.7" cy="48.0" r="2.06" fill="#6E9050"/><circle cx="136.0" cy="43.8" r="1.44" fill="#6E9050"/><circle cx="132.2" cy="68.2" r="2.31" fill="#507638"/><circle cx="163.1" cy="61.9" r="2.08" fill="#507638"/><circle cx="159.7" cy="46.2" r="2.39" fill="#7E9E5E"/><circle cx="135.7" cy="57.4" r="1.62" fill="#8AA86C"/><circle cx="134.5" cy="58.0" r="2.35" fill="#507638"/><circle cx="133.4" cy="55.1" r="1.46" fill="#5E8244"/><circle cx="147.7" cy="59.3" r="2.59" fill="#5E8244"/><circle cx="134.1" cy="40.9" r="1.64" fill="#507638"/><circle cx="139.1" cy="52.2" r="2.20" fill="#507638"/><circle cx="141.3" cy="66.1" r="1.56" fill="#5E8244"/><circle cx="139.2" cy="50.7" r="1.65" fill="#507638"/><circle cx="154.1" cy="69.4" r="1.68" fill="#507638"/><circle cx="154.7" cy="52.9" r="2.28" fill="#8AA86C"/><circle cx="147.5" cy="50.7" r="2.07" fill="#8AA86C"/><circle cx="128.9" cy="59.5" r="2.57" fill="#5E8244"/><circle cx="141.8" cy="50.2" r="2.48" fill="#7E9E5E"/><circle cx="140.5" cy="64.5" r="1.44" fill="#7E9E5E"/><circle cx="152.3" cy="42.8" r="2.22" fill="#8AA86C"/><circle cx="131.8" cy="65.6" r="2.32" fill="#8AA86C"/><circle cx="161.8" cy="68.2" r="1.98" fill="#5E8244"/><circle cx="160.5" cy="54.9" r="2.29" fill="#6E9050"/><circle cx="141.6" cy="53.3" r="1.45" fill="#6E9050"/><circle cx="157.5" cy="57.5" r="2.16" fill="#7E9E5E"/><circle cx="147.1" cy="63.3" r="1.97" fill="#5E8244"/><circle cx="149.9" cy="51.9" r="1.85" fill="#5E8244"/><circle cx="147.2" cy="61.6" r="1.51" fill="#5E8244"/><circle cx="137.2" cy="59.3" r="2.44" fill="#8AA86C"/><circle cx="133.2" cy="45.2" r="2.50" fill="#7E9E5E"/><circle cx="158.9" cy="47.2" r="2.22" fill="#5E8244"/><circle cx="162.6" cy="54.2" r="2.11" fill="#7E9E5E"/><circle cx="148.6" cy="46.4" r="1.44" fill="#8AA86C"/><circle cx="150.9" cy="54.6" r="1.64" fill="#7E9E5E"/><circle cx="134.4" cy="65.4" r="2.38" fill="#8AA86C"/><circle cx="160.2" cy="67.1" r="2.41" fill="#507638"/><circle cx="150.4" cy="47.8" r="1.45" fill="#507638"/><circle cx="159.1" cy="61.5" r="1.65" fill="#5E8244"/><circle cx="146.9" cy="64.0" r="2.46" fill="#507638"/><circle cx="155.2" cy="59.3" r="1.95" fill="#8AA86C"/>
<rect x="108" y="52" width="8" height="4" fill="#B09A70"/>
<polygon points="86.0,70.0 88.0,58.0 96.0,55.5 108.0,56.0 118.0,59.0 120.0,70.0" fill="#2A5020"/><circle cx="102.9" cy="59.4" r="1.87" fill="#234618"/><circle cx="109.5" cy="66.6" r="1.60" fill="#326026"/><circle cx="93.6" cy="63.6" r="2.14" fill="#326026"/><circle cx="114.1" cy="69.7" r="1.59" fill="#234618"/><circle cx="88.3" cy="68.0" r="2.19" fill="#1F3C18"/><circle cx="107.6" cy="68.8" r="2.17" fill="#326026"/><circle cx="113.0" cy="64.8" r="1.69" fill="#234618"/><circle cx="97.5" cy="67.1" r="1.69" fill="#2A5020"/><circle cx="92.8" cy="61.9" r="2.12" fill="#1F3C18"/><circle cx="90.3" cy="64.5" r="1.78" fill="#2A5020"/><circle cx="100.0" cy="64.6" r="1.93" fill="#2A5020"/><circle cx="115.0" cy="64.6" r="2.17" fill="#1F3C18"/><circle cx="100.5" cy="63.0" r="1.78" fill="#234618"/><circle cx="103.0" cy="67.5" r="1.57" fill="#326026"/><circle cx="111.8" cy="57.7" r="1.62" fill="#1F3C18"/><circle cx="102.1" cy="67.0" r="1.89" fill="#234618"/><circle cx="91.5" cy="63.8" r="2.05" fill="#326026"/><circle cx="98.8" cy="59.1" r="1.33" fill="#2A5020"/><circle cx="94.1" cy="68.9" r="1.78" fill="#1F3C18"/><circle cx="105.6" cy="66.6" r="1.65" fill="#2A5020"/><circle cx="99.7" cy="60.8" r="2.00" fill="#2A5020"/><circle cx="88.3" cy="65.2" r="1.81" fill="#326026"/><circle cx="96.8" cy="60.5" r="1.88" fill="#1F3C18"/><circle cx="89.0" cy="57.8" r="1.48" fill="#2A5020"/><circle cx="90.5" cy="69.7" r="1.33" fill="#326026"/><circle cx="94.2" cy="68.5" r="2.20" fill="#2A5020"/><circle cx="91.1" cy="61.4" r="1.61" fill="#234618"/><circle cx="106.6" cy="67.5" r="1.60" fill="#1F3C18"/><circle cx="97.1" cy="57.6" r="2.05" fill="#1F3C18"/><circle cx="95.7" cy="67.2" r="1.58" fill="#1F3C18"/><circle cx="110.2" cy="59.2" r="1.76" fill="#2A5020"/><circle cx="89.6" cy="64.6" r="2.08" fill="#326026"/><circle cx="96.0" cy="65.1" r="1.52" fill="#326026"/><circle cx="114.3" cy="63.8" r="2.16" fill="#234618"/><circle cx="96.1" cy="59.1" r="2.13" fill="#1F3C18"/><circle cx="92.3" cy="57.2" r="1.55" fill="#1F3C18"/><circle cx="112.0" cy="66.1" r="1.80" fill="#2A5020"/><circle cx="113.3" cy="65.2" r="2.17" fill="#1F3C18"/><circle cx="99.3" cy="63.4" r="1.34" fill="#326026"/><circle cx="102.8" cy="57.8" r="2.14" fill="#326026"/><circle cx="103.2" cy="55.9" r="1.47" fill="#1F3C18"/><circle cx="95.8" cy="65.3" r="1.87" fill="#2A5020"/><circle cx="109.9" cy="61.9" r="1.53" fill="#1F3C18"/><circle cx="114.6" cy="64.5" r="1.39" fill="#2A5020"/><circle cx="116.4" cy="60.7" r="1.86" fill="#2A5020"/><circle cx="87.5" cy="62.4" r="1.58" fill="#2A5020"/><circle cx="103.9" cy="62.2" r="1.71" fill="#2A5020"/><circle cx="104.1" cy="62.4" r="2.03" fill="#326026"/><circle cx="104.0" cy="63.7" r="1.96" fill="#1F3C18"/><circle cx="104.0" cy="64.1" r="1.33" fill="#234618"/><circle cx="99.4" cy="59.5" r="1.91" fill="#326026"/><circle cx="96.6" cy="60.0" r="1.73" fill="#234618"/><circle cx="111.5" cy="63.2" r="1.78" fill="#1F3C18"/><circle cx="99.9" cy="63.4" r="1.69" fill="#234618"/><circle cx="107.4" cy="66.6" r="1.58" fill="#1F3C18"/><circle cx="94.3" cy="69.9" r="1.77" fill="#2A5020"/><circle cx="112.5" cy="67.5" r="1.52" fill="#1F3C18"/><circle cx="110.9" cy="61.7" r="1.77" fill="#326026"/><circle cx="101.4" cy="62.0" r="1.88" fill="#234618"/><circle cx="100.6" cy="65.5" r="2.18" fill="#1F3C18"/><circle cx="117.3" cy="69.0" r="1.93" fill="#326026"/><circle cx="98.7" cy="63.9" r="2.20" fill="#2A5020"/><circle cx="99.9" cy="65.3" r="1.39" fill="#326026"/><circle cx="107.0" cy="66.3" r="2.13" fill="#2A5020"/><circle cx="97.9" cy="63.3" r="1.46" fill="#1F3C18"/><circle cx="102.8" cy="59.3" r="1.48" fill="#326026"/><circle cx="106.8" cy="56.8" r="1.61" fill="#2A5020"/><circle cx="110.6" cy="66.7" r="2.08" fill="#326026"/><circle cx="88.4" cy="61.9" r="2.19" fill="#326026"/><circle cx="99.4" cy="65.7" r="1.89" fill="#234618"/>
<rect x="70.6" y="30" width="1.2" height="12" fill="#6A4A40" opacity="0.8"/>
</g>
<g filter="url(#b05)"><path d="M97.8,0 L104.8,0 C108,12 114,24 119,35 C124,46 129,58 132,70 L116.6,71 C116,58 114.5,46 111,35 C107,24 101,12 97.8,0 Z" fill="#3E3A28"/><path d="M112.5,0 L116.6,0 C117,8 118,16 118,23.5 L113.5,26 C113,16 113,8 112.5,0 Z" fill="#3E3A28"/><path d="M119,38 C124,48 129,58 132,70 L125,70.5 C124,58 122,48 119,38 Z" fill="#7E7854" opacity="0.8"/><path d="M116,52 C119,56 121,62 122,70 L116.6,71 C116.5,64 116.3,58 116,52 Z" fill="#2E2A20" opacity="0.7"/><polygon points="157.8,7 162,6 162,49 158.5,50" fill="#6A6438" opacity="0.95"/></g>
<g stroke="#3E3A2A" fill="none" stroke-width="0.9" opacity="0.8"><path d="M114,20 C122,12 132,9 142,3"/><path d="M104,8 C96,6 88,10 80,8"/><path d="M117,27 C126,22 138,24 150,17"/><path d="M108,14 C104,10 100,8 92,4"/></g>
<polygon points="0,60 20,59 33,62 36,70 35,88 60,84 90,78 115,72 140,67 162,63 162,120.5 0,120.5" fill="url(#p4grass)"/>
<g filter="url(#b2)"><ellipse cx="14" cy="63" rx="20" ry="3.6" fill="#6CB240" opacity="0.95"/><ellipse cx="12" cy="72" rx="20" ry="4.5" fill="#3A7C1E" opacity="0.85"/><ellipse cx="16" cy="82" rx="20" ry="3.5" fill="#7CAC4A" opacity="0.7"/><ellipse cx="122" cy="80" rx="40" ry="7" fill="#68B434" opacity="0.6"/><ellipse cx="80" cy="112" rx="80" ry="8" fill="#468E28" opacity="0.55"/><ellipse cx="30" cy="100" rx="30" ry="8" fill="#4C962A" opacity="0.5"/></g>
<rect y="60" width="162" height="60.5" filter="url(#grassD)" opacity="0.2"/>
<polygon points="0,84 35,88 60,84 90,78 115,72 140,67 162,63 162,120.5 0,120.5" filter="url(#streakD)" opacity="0.5"/>
<polygon points="0,86 35,90 60,86 90,80 115,74 140,69 162,65 162,120.5 0,120.5" filter="url(#streakL)" opacity="0.28"/>
<rect y="60" width="162" height="60.5" filter="url(#grassL)" opacity="0.2"/>
<g filter="url(#b1)"><polygon points="33,64 44,63.2 58,62.6 74,62 88,61.5 94,66 104,68 108,74 100,78 86,79.5 72,81.5 56,84 42,86 34,85 32,74" fill="#BEAC96"/><polygon points="86,66 104,68 108,74 100,79 88,78 84,72" fill="#6E5E4E" opacity="0.85"/><ellipse cx="54" cy="78" rx="9.5" ry="4.8" fill="#2E6A1C" opacity="0.95"/><polygon points="32,66 38,65 39,88 33,86" fill="#7A6A52" opacity="0.85"/><ellipse cx="60" cy="86" rx="16" ry="2.5" fill="#8A8A5A" opacity="0.6"/></g>
<polygon points="33,64 88,61.5 108,74 86,79.5 42,86 32,74" filter="url(#soilD)" opacity="0.2"/>
<polygon points="0,38 10,36 14,43 28,42 34,37 50,35 60,42 72,45 80,42 94,43 100,41 112,42 118,46 130,46 138,41 162,40 162,70 0,70" filter="url(#leafD)" opacity="0.4"/>
<g filter="url(#b05)"><path d="M162,104 C154,104 150,108 149.5,114 L149,120.5 L162,120.5 Z" fill="#0C1014"/><path d="M162,109 C157,109 154.5,112 154,117 L153.8,120.5 L162,120.5 Z" fill="#3A5A38"/></g>
</g></svg>
<div id="footer"></div>
<div id="title" class="abs" style="left:47.90px;top:48.63px;font-size:21.4px;font-weight:bold;color:#27296B;-webkit-text-stroke:0;transform:scaleX(0.9947);">Local Meetings</div>
<div id="sub" class="abs" style="left:55.80px;top:97.26px;font-size:13.4px;font-weight:normal;color:#2A2C6B;transform:scaleX(1.0502);">Recognising the acceptability of environmental measures by farmers</div>
<div id="hdrL" class="abs" style="left:48.35px;top:195.99px;font-size:12px;font-weight:bold;color:#333F5C;transform:scaleX(1.0507);">Measures</div>
<div id="hdrR" class="abs" style="left:420.95px;top:191.99px;font-size:12px;font-weight:bold;color:#333F5C;transform:scaleX(1.0174);">Farmers’s acceptability</div>
<div id="r1" class="abs" style="left:47.85px;top:216.99px;font-size:12px;font-weight:normal;color:#000;transform:scaleX(1.0869);">Establishing shelterbelts</div>
<div id="r2" class="abs" style="left:47.80px;top:240.99px;font-size:12px;font-weight:normal;color:#000;transform:scaleX(1.1090);">Afforestation of selected, unproductive lands</div>
<div id="r3a" class="abs" style="left:47.85px;top:264.99px;font-size:12px;font-weight:normal;color:#000;transform:scaleX(1.0989);">Establishing and protection of ecotone meadows</div>
<div id="r3b" class="abs" style="left:48.10px;top:282.99px;font-size:12px;font-weight:normal;color:#000;transform:scaleX(1.1050);">and wetlands</div>
<div id="r4a" class="abs" style="left:48.10px;top:299.99px;font-size:12px;font-weight:normal;color:#000;transform:scaleX(1.0891);">Cultivation of catch crops and soil embedding crops</div>
<div id="r4b" class="abs" style="left:47.80px;top:318.99px;font-size:12px;font-weight:normal;color:#000;transform:scaleX(1.1402);">(intercropping)</div>
<div id="r5" class="abs" style="left:47.85px;top:334.99px;font-size:12px;font-weight:normal;color:#000;transform:scaleX(1.1014);">Protection / establishing small ponds</div>
<div id="r6a" class="abs" style="left:47.85px;top:358.99px;font-size:12px;font-weight:normal;color:#000;transform:scaleX(1.0866);">Reconstruction of drainage systems towards</div>
<div id="r6b" class="abs" style="left:48.10px;top:377.99px;font-size:12px;font-weight:normal;color:#000;transform:scaleX(1.0969);">amelioration of soils - controlled drainage system</div>
<div id="c1" class="abs" style="left:479.90px;top:218.38px;font-size:14.5px;font-weight:normal;color:#000;transform:scaleX(1.0462);">-/+</div>
<div id="c2" class="abs" style="left:483.50px;top:240.15px;font-size:13px;font-weight:normal;color:#000;transform:scaleX(1.1035);">--</div>
<div id="c3" class="abs" style="left:485.70px;top:264.15px;font-size:13px;font-weight:normal;color:#000;-webkit-text-stroke:0.4px currentColor;transform:scaleX(1.0081);">+</div>
<div id="c4" class="abs" style="left:481.70px;top:299.15px;font-size:13px;font-weight:normal;color:#000;-webkit-text-stroke:0.4px currentColor;transform:scaleX(0.9440);">++</div>
<div id="c5" class="abs" style="left:481.70px;top:335.15px;font-size:13px;font-weight:normal;color:#000;-webkit-text-stroke:0.4px currentColor;transform:scaleX(0.9440);">++</div>
<div id="c6" class="abs" style="left:478.70px;top:358.75px;font-size:13px;font-weight:bold;color:#000;transform:scaleX(0.9545);">+++</div>
<div id="pg" class="abs" style="left:20.40px;top:583.19px;font-size:9.4px;font-weight:bold;color:#fff;-webkit-text-stroke:0;transform:scaleX(1.1511);">10/17</div>
<div id="url" class="abs" style="left:757.60px;top:582.42px;font-size:9.6px;font-weight:normal;color:#fff;-webkit-text-stroke:0;transform:scaleX(1.0150);">www.waterdrive.pl</div>
</body>
</html>
